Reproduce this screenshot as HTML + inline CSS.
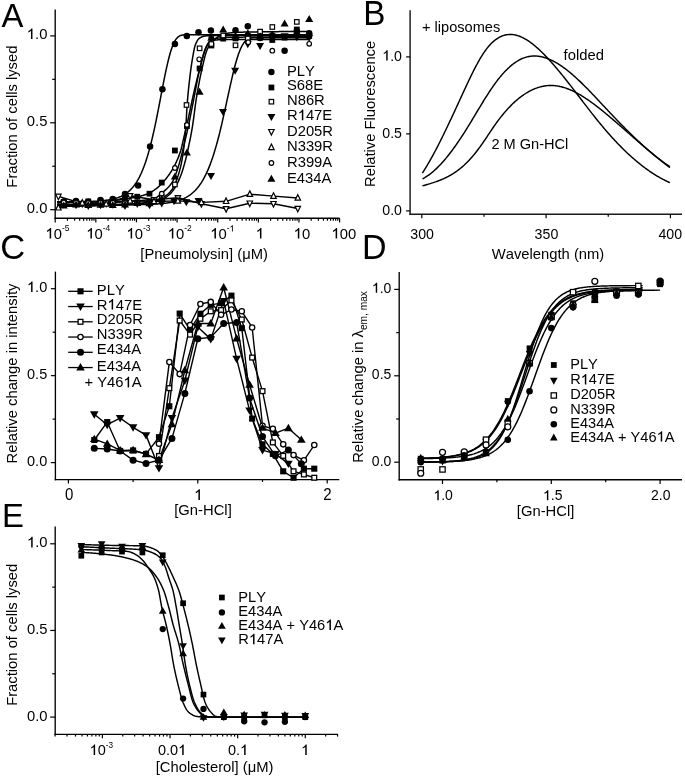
<!DOCTYPE html>
<html><head><meta charset="utf-8"><style>
html,body{margin:0;padding:0;background:#fff;}
svg{display:block;will-change:transform;}
text{font-family:"Liberation Sans", sans-serif;fill:#000;font-kerning:none;}
</style></head><body>
<svg width="685" height="777" viewBox="0 0 685 777">
<rect width="685" height="777" fill="#fff"/>
<line x1="55.20" y1="9.60" x2="55.20" y2="218.90" stroke="#000" stroke-width="1.35"/>
<line x1="54.50" y1="218.20" x2="339.60" y2="218.20" stroke="#000" stroke-width="1.35"/>
<line x1="50.20" y1="209.70" x2="55.20" y2="209.70" stroke="#000" stroke-width="1.2"/>
<line x1="50.20" y1="122.80" x2="55.20" y2="122.80" stroke="#000" stroke-width="1.2"/>
<line x1="50.20" y1="35.90" x2="55.20" y2="35.90" stroke="#000" stroke-width="1.2"/>
<line x1="52.20" y1="166.25" x2="55.20" y2="166.25" stroke="#000" stroke-width="1.2"/>
<line x1="52.20" y1="79.35" x2="55.20" y2="79.35" stroke="#000" stroke-width="1.2"/>
<line x1="55.20" y1="218.20" x2="55.20" y2="222.40" stroke="#000" stroke-width="1.2"/>
<line x1="67.43" y1="218.20" x2="67.43" y2="220.70" stroke="#000" stroke-width="1.2"/>
<line x1="74.59" y1="218.20" x2="74.59" y2="220.70" stroke="#000" stroke-width="1.2"/>
<line x1="79.66" y1="218.20" x2="79.66" y2="220.70" stroke="#000" stroke-width="1.2"/>
<line x1="83.60" y1="218.20" x2="83.60" y2="220.70" stroke="#000" stroke-width="1.2"/>
<line x1="86.82" y1="218.20" x2="86.82" y2="220.70" stroke="#000" stroke-width="1.2"/>
<line x1="89.54" y1="218.20" x2="89.54" y2="220.70" stroke="#000" stroke-width="1.2"/>
<line x1="91.89" y1="218.20" x2="91.89" y2="220.70" stroke="#000" stroke-width="1.2"/>
<line x1="93.97" y1="218.20" x2="93.97" y2="220.70" stroke="#000" stroke-width="1.2"/>
<line x1="95.83" y1="218.20" x2="95.83" y2="222.40" stroke="#000" stroke-width="1.2"/>
<line x1="108.06" y1="218.20" x2="108.06" y2="220.70" stroke="#000" stroke-width="1.2"/>
<line x1="115.22" y1="218.20" x2="115.22" y2="220.70" stroke="#000" stroke-width="1.2"/>
<line x1="120.29" y1="218.20" x2="120.29" y2="220.70" stroke="#000" stroke-width="1.2"/>
<line x1="124.23" y1="218.20" x2="124.23" y2="220.70" stroke="#000" stroke-width="1.2"/>
<line x1="127.45" y1="218.20" x2="127.45" y2="220.70" stroke="#000" stroke-width="1.2"/>
<line x1="130.17" y1="218.20" x2="130.17" y2="220.70" stroke="#000" stroke-width="1.2"/>
<line x1="132.52" y1="218.20" x2="132.52" y2="220.70" stroke="#000" stroke-width="1.2"/>
<line x1="134.60" y1="218.20" x2="134.60" y2="220.70" stroke="#000" stroke-width="1.2"/>
<line x1="136.46" y1="218.20" x2="136.46" y2="222.40" stroke="#000" stroke-width="1.2"/>
<line x1="148.69" y1="218.20" x2="148.69" y2="220.70" stroke="#000" stroke-width="1.2"/>
<line x1="155.85" y1="218.20" x2="155.85" y2="220.70" stroke="#000" stroke-width="1.2"/>
<line x1="160.92" y1="218.20" x2="160.92" y2="220.70" stroke="#000" stroke-width="1.2"/>
<line x1="164.86" y1="218.20" x2="164.86" y2="220.70" stroke="#000" stroke-width="1.2"/>
<line x1="168.08" y1="218.20" x2="168.08" y2="220.70" stroke="#000" stroke-width="1.2"/>
<line x1="170.80" y1="218.20" x2="170.80" y2="220.70" stroke="#000" stroke-width="1.2"/>
<line x1="173.15" y1="218.20" x2="173.15" y2="220.70" stroke="#000" stroke-width="1.2"/>
<line x1="175.23" y1="218.20" x2="175.23" y2="220.70" stroke="#000" stroke-width="1.2"/>
<line x1="177.09" y1="218.20" x2="177.09" y2="222.40" stroke="#000" stroke-width="1.2"/>
<line x1="189.32" y1="218.20" x2="189.32" y2="220.70" stroke="#000" stroke-width="1.2"/>
<line x1="196.48" y1="218.20" x2="196.48" y2="220.70" stroke="#000" stroke-width="1.2"/>
<line x1="201.55" y1="218.20" x2="201.55" y2="220.70" stroke="#000" stroke-width="1.2"/>
<line x1="205.49" y1="218.20" x2="205.49" y2="220.70" stroke="#000" stroke-width="1.2"/>
<line x1="208.71" y1="218.20" x2="208.71" y2="220.70" stroke="#000" stroke-width="1.2"/>
<line x1="211.43" y1="218.20" x2="211.43" y2="220.70" stroke="#000" stroke-width="1.2"/>
<line x1="213.78" y1="218.20" x2="213.78" y2="220.70" stroke="#000" stroke-width="1.2"/>
<line x1="215.86" y1="218.20" x2="215.86" y2="220.70" stroke="#000" stroke-width="1.2"/>
<line x1="217.72" y1="218.20" x2="217.72" y2="222.40" stroke="#000" stroke-width="1.2"/>
<line x1="229.95" y1="218.20" x2="229.95" y2="220.70" stroke="#000" stroke-width="1.2"/>
<line x1="237.11" y1="218.20" x2="237.11" y2="220.70" stroke="#000" stroke-width="1.2"/>
<line x1="242.18" y1="218.20" x2="242.18" y2="220.70" stroke="#000" stroke-width="1.2"/>
<line x1="246.12" y1="218.20" x2="246.12" y2="220.70" stroke="#000" stroke-width="1.2"/>
<line x1="249.34" y1="218.20" x2="249.34" y2="220.70" stroke="#000" stroke-width="1.2"/>
<line x1="252.06" y1="218.20" x2="252.06" y2="220.70" stroke="#000" stroke-width="1.2"/>
<line x1="254.41" y1="218.20" x2="254.41" y2="220.70" stroke="#000" stroke-width="1.2"/>
<line x1="256.49" y1="218.20" x2="256.49" y2="220.70" stroke="#000" stroke-width="1.2"/>
<line x1="258.35" y1="218.20" x2="258.35" y2="222.40" stroke="#000" stroke-width="1.2"/>
<line x1="270.58" y1="218.20" x2="270.58" y2="220.70" stroke="#000" stroke-width="1.2"/>
<line x1="277.74" y1="218.20" x2="277.74" y2="220.70" stroke="#000" stroke-width="1.2"/>
<line x1="282.81" y1="218.20" x2="282.81" y2="220.70" stroke="#000" stroke-width="1.2"/>
<line x1="286.75" y1="218.20" x2="286.75" y2="220.70" stroke="#000" stroke-width="1.2"/>
<line x1="289.97" y1="218.20" x2="289.97" y2="220.70" stroke="#000" stroke-width="1.2"/>
<line x1="292.69" y1="218.20" x2="292.69" y2="220.70" stroke="#000" stroke-width="1.2"/>
<line x1="295.04" y1="218.20" x2="295.04" y2="220.70" stroke="#000" stroke-width="1.2"/>
<line x1="297.12" y1="218.20" x2="297.12" y2="220.70" stroke="#000" stroke-width="1.2"/>
<line x1="298.98" y1="218.20" x2="298.98" y2="222.40" stroke="#000" stroke-width="1.2"/>
<line x1="311.21" y1="218.20" x2="311.21" y2="220.70" stroke="#000" stroke-width="1.2"/>
<line x1="318.37" y1="218.20" x2="318.37" y2="220.70" stroke="#000" stroke-width="1.2"/>
<line x1="323.44" y1="218.20" x2="323.44" y2="220.70" stroke="#000" stroke-width="1.2"/>
<line x1="327.38" y1="218.20" x2="327.38" y2="220.70" stroke="#000" stroke-width="1.2"/>
<line x1="330.60" y1="218.20" x2="330.60" y2="220.70" stroke="#000" stroke-width="1.2"/>
<line x1="333.32" y1="218.20" x2="333.32" y2="220.70" stroke="#000" stroke-width="1.2"/>
<line x1="335.67" y1="218.20" x2="335.67" y2="220.70" stroke="#000" stroke-width="1.2"/>
<line x1="337.75" y1="218.20" x2="337.75" y2="220.70" stroke="#000" stroke-width="1.2"/>
<line x1="339.61" y1="218.20" x2="339.61" y2="222.40" stroke="#000" stroke-width="1.2"/>
<text transform="translate(47.40,212.90) scale(1,1.04)" font-size="14.8" text-anchor="end" >0.0</text>
<text transform="translate(47.40,126.00) scale(1,1.04)" font-size="14.8" text-anchor="end" >0.5</text>
<path d="M 780 0 L 572 0 L 572 1140 Q 510 1080 406 1018 Q 302 958 215 925 L 215 1110 Q 366 1180 478 1280 Q 590 1380 636 1466 L 780 1466 Z" transform="translate(26.83,39.10) scale(0.00723,-0.00723)" fill="#000"/>
<text transform="translate(47.40,39.10) scale(1,1.04)" font-size="14.8" text-anchor="end" > .0</text>
<path d="M 780 0 L 572 0 L 572 1140 Q 510 1080 406 1018 Q 302 958 215 925 L 215 1110 Q 366 1180 478 1280 Q 590 1380 636 1466 L 780 1466 Z" transform="translate(45.50,238.60) scale(0.00723,-0.00723)" fill="#000"/>
<text transform="translate(45.50,238.60) scale(1,1.04)" font-size="14.8"> 0<tspan font-size="8.5" dy="-6.92">-5</tspan></text>
<path d="M 780 0 L 572 0 L 572 1140 Q 510 1080 406 1018 Q 302 958 215 925 L 215 1110 Q 366 1180 478 1280 Q 590 1380 636 1466 L 780 1466 Z" transform="translate(86.30,238.60) scale(0.00723,-0.00723)" fill="#000"/>
<text transform="translate(86.30,238.60) scale(1,1.04)" font-size="14.8"> 0<tspan font-size="8.5" dy="-6.92">-4</tspan></text>
<path d="M 780 0 L 572 0 L 572 1140 Q 510 1080 406 1018 Q 302 958 215 925 L 215 1110 Q 366 1180 478 1280 Q 590 1380 636 1466 L 780 1466 Z" transform="translate(126.50,238.60) scale(0.00723,-0.00723)" fill="#000"/>
<text transform="translate(126.50,238.60) scale(1,1.04)" font-size="14.8"> 0<tspan font-size="8.5" dy="-6.92">-3</tspan></text>
<path d="M 780 0 L 572 0 L 572 1140 Q 510 1080 406 1018 Q 302 958 215 925 L 215 1110 Q 366 1180 478 1280 Q 590 1380 636 1466 L 780 1466 Z" transform="translate(167.70,238.60) scale(0.00723,-0.00723)" fill="#000"/>
<text transform="translate(167.70,238.60) scale(1,1.04)" font-size="14.8"> 0<tspan font-size="8.5" dy="-6.92">-2</tspan></text>
<path d="M 780 0 L 572 0 L 572 1140 Q 510 1080 406 1018 Q 302 958 215 925 L 215 1110 Q 366 1180 478 1280 Q 590 1380 636 1466 L 780 1466 Z" transform="translate(210.30,238.60) scale(0.00723,-0.00723)" fill="#000"/>
<path d="M 780 0 L 572 0 L 572 1140 Q 510 1080 406 1018 Q 302 958 215 925 L 215 1110 Q 366 1180 478 1280 Q 590 1380 636 1466 L 780 1466 Z" transform="translate(229.59,231.40) scale(0.00415,-0.00415)" fill="#000"/>
<text transform="translate(210.30,238.60) scale(1,1.04)" font-size="14.8"> 0<tspan font-size="8.5" dy="-6.92">- </tspan></text>
<path d="M 780 0 L 572 0 L 572 1140 Q 510 1080 406 1018 Q 302 958 215 925 L 215 1110 Q 366 1180 478 1280 Q 590 1380 636 1466 L 780 1466 Z" transform="translate(255.80,238.60) scale(0.00723,-0.00723)" fill="#000"/>
<text transform="translate(255.80,238.60) scale(1,1.04)" font-size="14.8" text-anchor="start" > </text>
<path d="M 780 0 L 572 0 L 572 1140 Q 510 1080 406 1018 Q 302 958 215 925 L 215 1110 Q 366 1180 478 1280 Q 590 1380 636 1466 L 780 1466 Z" transform="translate(293.70,238.60) scale(0.00723,-0.00723)" fill="#000"/>
<text transform="translate(293.70,238.60) scale(1,1.04)" font-size="14.8" text-anchor="start" > 0</text>
<path d="M 780 0 L 572 0 L 572 1140 Q 510 1080 406 1018 Q 302 958 215 925 L 215 1110 Q 366 1180 478 1280 Q 590 1380 636 1466 L 780 1466 Z" transform="translate(331.50,238.60) scale(0.00723,-0.00723)" fill="#000"/>
<text transform="translate(331.50,238.60) scale(1,1.04)" font-size="14.8" text-anchor="start" > 00</text>
<text transform="translate(204.10,258.50) scale(1,1.04)" font-size="14.8" text-anchor="middle" >[Pneumolysin] (&#956;M)</text>
<text transform="translate(17.1,116.6) rotate(-90) scale(1,1.04)" font-size="14.8" text-anchor="middle">Fraction of cells lysed</text>
<text transform="translate(1.60,27.00) scale(1,1.04)" font-size="32.8" text-anchor="start" >A</text>
<polyline points="57.00,201.85 57.80,201.85 58.60,201.85 59.40,201.85 60.20,201.85 61.00,201.84 61.80,201.84 62.60,201.84 63.40,201.84 64.20,201.83 65.00,201.83 65.80,201.83 66.60,201.82 67.40,201.82 68.20,201.82 69.00,201.81 69.80,201.81 70.60,201.80 71.40,201.80 72.20,201.79 73.00,201.78 73.80,201.78 74.60,201.77 75.40,201.76 76.20,201.75 77.00,201.75 77.80,201.74 78.60,201.73 79.40,201.72 80.20,201.70 81.00,201.69 81.80,201.68 82.60,201.66 83.40,201.65 84.20,201.63 85.00,201.62 85.80,201.60 86.60,201.58 87.40,201.56 88.20,201.53 89.00,201.51 89.80,201.48 90.60,201.45 91.40,201.43 92.20,201.39 93.00,201.36 93.80,201.32 94.60,201.28 95.40,201.24 96.20,201.20 97.00,201.15 97.80,201.10 98.60,201.04 99.40,200.98 100.20,200.92 101.00,200.85 101.80,200.78 102.60,200.71 103.40,200.62 104.20,200.54 105.00,200.44 105.80,200.34 106.60,200.23 107.40,200.12 108.20,199.99 109.00,199.86 109.80,199.72 110.60,199.57 111.40,199.41 112.20,199.24 113.00,199.05 113.80,198.86 114.60,198.64 115.40,198.42 116.20,198.18 117.00,197.92 117.80,197.65 118.60,197.35 119.40,197.04 120.20,196.70 121.00,196.35 121.80,195.96 122.60,195.55 123.40,195.12 124.20,194.65 125.00,194.16 125.80,193.63 126.60,193.06 127.40,192.46 128.20,191.82 129.00,191.13 129.80,190.40 130.60,189.63 131.40,188.80 132.20,187.92 133.00,186.98 133.80,185.98 134.60,184.92 135.40,183.80 136.20,182.60 137.00,181.33 137.80,179.98 138.60,178.55 139.40,177.04 140.20,175.44 141.00,173.75 141.80,171.95 142.60,170.06 143.40,168.07 144.20,165.96 145.00,163.75 145.80,161.42 146.60,158.97 147.40,156.40 148.20,153.72 149.00,150.90 149.80,147.97 150.60,144.91 151.40,141.72 152.20,138.42 153.00,134.99 153.80,131.45 154.60,127.79 155.40,124.04 156.20,120.18 157.00,116.24 157.80,112.22 158.60,108.14 159.40,104.01 160.20,99.85 161.00,95.67 161.80,91.49 162.60,87.34 163.40,83.22 164.20,79.18 165.00,75.22 165.80,71.37 166.60,67.66 167.40,64.10 168.20,60.71 169.00,57.52 169.80,54.54 170.60,51.77 171.40,49.24 172.20,46.94 173.00,44.88 173.80,43.06 174.60,41.47 175.40,40.10 176.20,38.94 177.00,37.97 177.80,37.18 178.60,36.54 179.40,36.03 180.20,35.65 181.00,35.35 181.80,35.14 182.60,34.98 183.40,34.88 184.20,34.80 185.00,34.75 185.80,34.72 186.60,34.71 187.40,34.70 188.20,34.69 189.00,34.69 189.80,34.68 190.60,34.68 191.40,34.68 192.20,34.68 193.00,34.68 193.80,34.68 194.60,34.68 195.40,34.68 196.20,34.68 197.00,34.68 197.80,34.68 198.60,34.68 199.40,34.68 200.20,34.68 201.00,34.68 201.80,34.68 202.60,34.68 203.40,34.68 204.20,34.68 205.00,34.68 205.80,34.68 206.60,34.68 207.40,34.68 208.20,34.68 209.00,34.68 209.80,34.68 210.60,34.68 211.40,34.68 212.20,34.68 213.00,34.68 213.80,34.68 214.60,34.68 215.40,34.68 216.20,34.68 217.00,34.68 217.80,34.68 218.60,34.68 219.40,34.68 220.20,34.68 221.00,34.68 221.80,34.68 222.60,34.68 223.40,34.68 224.20,34.68 225.00,34.68 225.80,34.68 226.60,34.68 227.40,34.68 228.20,34.68 229.00,34.68 229.80,34.68 230.60,34.68 231.40,34.68 232.20,34.68 233.00,34.68 233.80,34.68 234.60,34.68 235.40,34.68 236.20,34.68 237.00,34.68 237.80,34.68 238.60,34.68 239.40,34.68 240.20,34.68 241.00,34.68 241.80,34.68 242.60,34.68 243.40,34.68 244.20,34.68 245.00,34.68 245.80,34.68 246.60,34.68 247.40,34.68 248.20,34.68 249.00,34.68 249.80,34.68 250.60,34.68 251.40,34.68 252.20,34.68 253.00,34.68 253.80,34.68 254.60,34.68 255.40,34.68 256.20,34.68 257.00,34.68 257.80,34.68 258.60,34.68 259.40,34.68 260.20,34.68 261.00,34.68 261.80,34.68 262.60,34.68 263.40,34.68 264.20,34.68 265.00,34.68 265.80,34.68 266.60,34.68 267.40,34.68 268.20,34.68 269.00,34.68 269.80,34.68 270.60,34.68 271.40,34.68 272.20,34.68 273.00,34.68 273.80,34.68 274.60,34.68 275.40,34.68 276.20,34.68 277.00,34.68 277.80,34.68 278.60,34.68 279.40,34.68 280.20,34.68 281.00,34.68 281.80,34.68 282.60,34.68 283.40,34.68 284.20,34.68 285.00,34.68 285.80,34.68 286.60,34.68 287.40,34.68 288.20,34.68 289.00,34.68 289.80,34.68 290.60,34.68 291.40,34.68 292.20,34.68 293.00,34.68 293.80,34.68 294.60,34.68 295.40,34.68 296.20,34.68 297.00,34.68 297.80,34.68 298.60,34.68 299.40,34.68 300.20,34.68 301.00,34.68 301.80,34.68 302.60,34.68 303.40,34.68 304.20,34.68 305.00,34.68 305.80,34.68 306.60,34.68 307.40,34.68 308.20,34.68 309.00,34.68" fill="none" stroke="#000" stroke-width="1.5" stroke-linejoin="round"/>
<polyline points="57.00,203.00 57.60,203.00 58.20,203.00 58.80,203.00 59.40,203.00 60.00,202.99 60.60,202.99 61.20,202.99 61.80,202.98 62.40,202.98 63.00,202.97 63.60,202.96 64.20,202.96 64.80,202.95 65.40,202.94 66.00,202.93 66.60,202.93 67.20,202.92 67.80,202.91 68.40,202.90 69.00,202.88 69.60,202.87 70.20,202.86 70.80,202.85 71.40,202.84 72.00,202.82 72.60,202.81 73.20,202.80 73.80,202.78 74.40,202.77 75.00,202.75 75.60,202.73 76.20,202.72 76.80,202.70 77.40,202.68 78.00,202.67 78.60,202.65 79.20,202.63 79.80,202.61 80.40,202.59 81.00,202.57 81.60,202.55 82.20,202.53 82.80,202.51 83.40,202.49 84.00,202.47 84.60,202.45 85.20,202.43 85.80,202.40 86.40,202.38 87.00,202.36 87.60,202.34 88.20,202.31 88.80,202.29 89.40,202.26 90.00,202.24 90.60,202.22 91.20,202.19 91.80,202.17 92.40,202.14 93.00,202.11 93.60,202.09 94.20,202.06 94.80,202.04 95.40,202.01 96.00,201.98 96.60,201.96 97.20,201.93 97.80,201.90 98.40,201.87 99.00,201.85 99.60,201.82 100.20,201.79 100.80,201.76 101.40,201.73 102.00,201.69 102.60,201.66 103.20,201.62 103.80,201.58 104.40,201.54 105.00,201.49 105.60,201.45 106.20,201.40 106.80,201.35 107.40,201.30 108.00,201.24 108.60,201.19 109.20,201.13 109.80,201.07 110.40,201.01 111.00,200.95 111.60,200.88 112.20,200.82 112.80,200.75 113.40,200.68 114.00,200.61 114.60,200.54 115.20,200.47 115.80,200.39 116.40,200.32 117.00,200.24 117.60,200.16 118.20,200.08 118.80,200.00 119.40,199.92 120.00,199.84 120.60,199.75 121.20,199.67 121.80,199.58 122.40,199.49 123.00,199.40 123.60,199.31 124.20,199.22 124.80,199.13 125.40,199.04 126.00,198.94 126.60,198.85 127.20,198.75 127.80,198.66 128.40,198.56 129.00,198.46 129.60,198.37 130.20,198.27 130.80,198.17 131.40,198.06 132.00,197.96 132.60,197.85 133.20,197.74 133.80,197.62 134.40,197.51 135.00,197.39 135.60,197.26 136.20,197.14 136.80,197.00 137.40,196.87 138.00,196.73 138.60,196.59 139.20,196.44 139.80,196.29 140.40,196.13 141.00,195.97 141.60,195.81 142.20,195.64 142.80,195.46 143.40,195.28 144.00,195.10 144.60,194.91 145.20,194.71 145.80,194.51 146.40,194.30 147.00,194.08 147.60,193.86 148.20,193.62 148.80,193.36 149.40,193.07 150.00,192.77 150.60,192.44 151.20,192.09 151.80,191.73 152.40,191.35 153.00,190.96 153.60,190.55 154.20,190.14 154.80,189.71 155.40,189.27 156.00,188.82 156.60,188.37 157.20,187.90 157.80,187.39 158.40,186.87 159.00,186.33 159.60,185.76 160.20,185.18 160.80,184.57 161.40,183.95 162.00,183.31 162.60,182.66 163.20,181.99 163.80,181.30 164.40,180.61 165.00,179.90 165.60,179.18 166.20,178.44 166.80,177.68 167.40,176.91 168.00,176.11 168.60,175.29 169.20,174.45 169.80,173.58 170.40,172.68 171.00,171.75 171.60,170.79 172.20,169.80 172.80,168.78 173.40,167.72 174.00,166.63 174.60,165.50 175.20,164.33 175.80,163.12 176.40,161.85 177.00,160.52 177.60,159.12 178.20,157.65 178.80,156.11 179.40,154.48 180.00,152.75 180.60,150.93 181.20,148.92 181.80,146.50 182.40,143.82 183.00,141.05 183.60,138.35 184.20,135.85 184.80,133.43 185.40,131.03 186.00,128.62 186.60,126.14 187.20,123.56 187.80,120.84 188.40,118.03 189.00,115.15 189.60,112.26 190.20,109.40 190.80,106.61 191.40,103.81 192.00,101.02 192.60,98.25 193.20,95.53 193.80,92.87 194.40,90.27 195.00,87.71 195.60,85.17 196.20,82.66 196.80,80.19 197.40,77.76 198.00,75.38 198.60,73.05 199.20,70.77 199.80,68.52 200.40,66.23 201.00,63.93 201.60,61.64 202.20,59.40 202.80,57.23 203.40,55.14 204.00,53.18 204.60,51.37 205.20,49.72 205.80,48.27 206.40,46.90 207.00,45.58 207.60,44.35 208.20,43.26 208.80,42.35 209.40,41.67 210.00,41.21 210.60,40.80 211.20,40.43 211.80,40.09 212.40,39.79 213.00,39.53 213.60,39.29 214.20,39.08 214.80,38.90 215.40,38.74 216.00,38.60 216.60,38.47 217.20,38.35 217.80,38.24 218.40,38.12 219.00,38.02 219.60,37.92 220.20,37.82 220.80,37.74 221.40,37.66 222.00,37.59 222.60,37.53 223.20,37.48 223.80,37.44 224.40,37.42 225.00,37.40 225.60,37.39 226.20,37.38 226.80,37.37 227.40,37.36 228.00,37.35 228.60,37.34 229.20,37.33 229.80,37.32 230.40,37.31 231.00,37.30 231.60,37.29 232.20,37.28 232.80,37.27 233.40,37.26 234.00,37.25 234.60,37.24 235.20,37.24 235.80,37.23 236.40,37.22 237.00,37.21 237.60,37.20 238.20,37.19 238.80,37.19 239.40,37.18 240.00,37.17 240.60,37.16 241.20,37.15 241.80,37.15 242.40,37.14 243.00,37.13 243.60,37.12 244.20,37.12 244.80,37.11 245.40,37.10 246.00,37.10 246.60,37.09 247.20,37.08 247.80,37.08 248.40,37.07 249.00,37.06 249.60,37.06 250.20,37.05 250.80,37.04 251.40,37.04 252.00,37.03 252.60,37.03 253.20,37.02 253.80,37.02 254.40,37.01 255.00,37.00 255.60,37.00 256.20,36.99 256.80,36.99 257.40,36.98 258.00,36.98 258.60,36.97 259.20,36.97 259.80,36.96 260.40,36.96 261.00,36.96 261.60,36.95 262.20,36.95 262.80,36.94 263.40,36.94 264.00,36.93 264.60,36.93 265.20,36.93 265.80,36.92 266.40,36.92 267.00,36.91 267.60,36.91 268.20,36.91 268.80,36.90 269.40,36.90 270.00,36.90 270.60,36.89 271.20,36.89 271.80,36.89 272.40,36.88 273.00,36.88 273.60,36.88 274.20,36.87 274.80,36.87 275.40,36.87 276.00,36.87 276.60,36.86 277.20,36.86 277.80,36.86 278.40,36.86 279.00,36.85 279.60,36.85 280.20,36.85 280.80,36.85 281.40,36.84 282.00,36.84 282.60,36.84 283.20,36.84 283.80,36.84 284.40,36.83 285.00,36.83 285.60,36.83 286.20,36.83 286.80,36.83 287.40,36.83 288.00,36.82 288.60,36.82 289.20,36.82 289.80,36.82 290.40,36.82 291.00,36.82 291.60,36.82 292.20,36.82 292.80,36.81 293.40,36.81 294.00,36.81 294.60,36.81 295.20,36.81 295.80,36.81 296.40,36.81 297.00,36.81 297.60,36.81 298.20,36.81 298.80,36.81 299.40,36.80 300.00,36.80 300.60,36.80 301.20,36.80 301.80,36.80 302.40,36.80 303.00,36.80 303.60,36.80 304.20,36.80 304.80,36.80 305.40,36.80 306.00,36.80 306.60,36.80 307.20,36.80 307.80,36.80 308.40,36.80 309.00,36.80 309.60,36.80" fill="none" stroke="#000" stroke-width="1.5" stroke-linejoin="round"/>
<polyline points="57.00,206.30 57.60,206.30 58.20,206.30 58.80,206.30 59.40,206.30 60.00,206.30 60.60,206.30 61.20,206.29 61.80,206.29 62.40,206.29 63.00,206.29 63.60,206.29 64.20,206.28 64.80,206.28 65.40,206.28 66.00,206.28 66.60,206.27 67.20,206.27 67.80,206.26 68.40,206.26 69.00,206.26 69.60,206.25 70.20,206.25 70.80,206.24 71.40,206.24 72.00,206.23 72.60,206.23 73.20,206.22 73.80,206.21 74.40,206.21 75.00,206.20 75.60,206.20 76.20,206.19 76.80,206.18 77.40,206.18 78.00,206.17 78.60,206.16 79.20,206.15 79.80,206.14 80.40,206.14 81.00,206.13 81.60,206.12 82.20,206.11 82.80,206.10 83.40,206.09 84.00,206.08 84.60,206.07 85.20,206.06 85.80,206.05 86.40,206.04 87.00,206.03 87.60,206.02 88.20,206.01 88.80,206.00 89.40,205.99 90.00,205.98 90.60,205.97 91.20,205.96 91.80,205.95 92.40,205.93 93.00,205.92 93.60,205.91 94.20,205.90 94.80,205.88 95.40,205.87 96.00,205.86 96.60,205.85 97.20,205.83 97.80,205.82 98.40,205.81 99.00,205.79 99.60,205.78 100.20,205.76 100.80,205.75 101.40,205.73 102.00,205.72 102.60,205.70 103.20,205.69 103.80,205.67 104.40,205.66 105.00,205.64 105.60,205.63 106.20,205.61 106.80,205.60 107.40,205.58 108.00,205.56 108.60,205.55 109.20,205.53 109.80,205.51 110.40,205.50 111.00,205.48 111.60,205.46 112.20,205.44 112.80,205.43 113.40,205.41 114.00,205.39 114.60,205.37 115.20,205.35 115.80,205.33 116.40,205.32 117.00,205.30 117.60,205.28 118.20,205.26 118.80,205.24 119.40,205.22 120.00,205.20 120.60,205.18 121.20,205.16 121.80,205.13 122.40,205.11 123.00,205.08 123.60,205.05 124.20,205.02 124.80,204.98 125.40,204.95 126.00,204.91 126.60,204.87 127.20,204.83 127.80,204.79 128.40,204.74 129.00,204.69 129.60,204.65 130.20,204.60 130.80,204.54 131.40,204.49 132.00,204.43 132.60,204.38 133.20,204.32 133.80,204.26 134.40,204.20 135.00,204.13 135.60,204.07 136.20,204.00 136.80,203.93 137.40,203.86 138.00,203.79 138.60,203.71 139.20,203.64 139.80,203.56 140.40,203.48 141.00,203.40 141.60,203.32 142.20,203.23 142.80,203.15 143.40,203.06 144.00,202.97 144.60,202.88 145.20,202.79 145.80,202.70 146.40,202.60 147.00,202.50 147.60,202.41 148.20,202.31 148.80,202.21 149.40,202.10 150.00,202.00 150.60,201.89 151.20,201.77 151.80,201.64 152.40,201.49 153.00,201.34 153.60,201.18 154.20,201.00 154.80,200.82 155.40,200.63 156.00,200.43 156.60,200.22 157.20,200.00 157.80,199.78 158.40,199.55 159.00,199.31 159.60,199.06 160.20,198.80 160.80,198.54 161.40,198.27 162.00,198.00 162.60,197.71 163.20,197.39 163.80,197.05 164.40,196.68 165.00,196.29 165.60,195.88 166.20,195.44 166.80,194.98 167.40,194.50 168.00,194.00 168.60,193.47 169.20,192.88 169.80,192.25 170.40,191.57 171.00,190.84 171.60,190.05 172.20,189.21 172.80,188.27 173.40,187.22 174.00,186.08 174.60,184.85 175.20,183.56 175.80,182.16 176.40,180.64 177.00,179.00 177.60,177.24 178.20,175.36 178.80,173.41 179.40,171.35 180.00,169.14 180.60,166.72 181.20,164.04 181.80,161.07 182.40,157.72 183.00,153.91 183.60,149.55 184.20,144.59 184.80,138.98 185.40,132.65 186.00,125.17 186.60,113.82 187.20,103.88 187.80,96.63 188.40,90.32 189.00,84.67 189.60,79.40 190.20,74.37 190.80,69.66 191.40,65.33 192.00,61.41 192.60,57.84 193.20,54.36 193.80,51.09 194.40,48.21 195.00,45.87 195.60,44.21 196.20,42.83 196.80,41.59 197.40,40.52 198.00,39.61 198.60,38.89 199.20,38.37 199.80,37.99 200.40,37.64 201.00,37.31 201.60,37.02 202.20,36.75 202.80,36.52 203.40,36.32 204.00,36.16 204.60,36.03 205.20,35.94 205.80,35.89 206.40,35.86 207.00,35.83 207.60,35.80 208.20,35.77 208.80,35.74 209.40,35.72 210.00,35.70 210.60,35.68 211.20,35.66 211.80,35.64 212.40,35.62 213.00,35.60 213.60,35.59 214.20,35.58 214.80,35.57 215.40,35.55 216.00,35.54 216.60,35.54 217.20,35.53 217.80,35.52 218.40,35.51 219.00,35.51 219.60,35.50 220.20,35.50 220.80,35.49 221.40,35.49 222.00,35.49 222.60,35.48 223.20,35.48 223.80,35.47 224.40,35.47 225.00,35.46 225.60,35.46 226.20,35.46 226.80,35.45 227.40,35.45 228.00,35.44 228.60,35.44 229.20,35.44 229.80,35.43 230.40,35.43 231.00,35.42 231.60,35.42 232.20,35.42 232.80,35.41 233.40,35.41 234.00,35.41 234.60,35.40 235.20,35.40 235.80,35.40 236.40,35.39 237.00,35.39 237.60,35.39 238.20,35.38 238.80,35.38 239.40,35.38 240.00,35.37 240.60,35.37 241.20,35.37 241.80,35.36 242.40,35.36 243.00,35.36 243.60,35.35 244.20,35.35 244.80,35.35 245.40,35.34 246.00,35.34 246.60,35.34 247.20,35.34 247.80,35.33 248.40,35.33 249.00,35.33 249.60,35.33 250.20,35.32 250.80,35.32 251.40,35.32 252.00,35.31 252.60,35.31 253.20,35.31 253.80,35.31 254.40,35.30 255.00,35.30 255.60,35.30 256.20,35.30 256.80,35.30 257.40,35.29 258.00,35.29 258.60,35.29 259.20,35.29 259.80,35.28 260.40,35.28 261.00,35.28 261.60,35.28 262.20,35.28 262.80,35.27 263.40,35.27 264.00,35.27 264.60,35.27 265.20,35.27 265.80,35.26 266.40,35.26 267.00,35.26 267.60,35.26 268.20,35.26 268.80,35.26 269.40,35.25 270.00,35.25 270.60,35.25 271.20,35.25 271.80,35.25 272.40,35.25 273.00,35.24 273.60,35.24 274.20,35.24 274.80,35.24 275.40,35.24 276.00,35.24 276.60,35.24 277.20,35.23 277.80,35.23 278.40,35.23 279.00,35.23 279.60,35.23 280.20,35.23 280.80,35.23 281.40,35.23 282.00,35.22 282.60,35.22 283.20,35.22 283.80,35.22 284.40,35.22 285.00,35.22 285.60,35.22 286.20,35.22 286.80,35.22 287.40,35.22 288.00,35.21 288.60,35.21 289.20,35.21 289.80,35.21 290.40,35.21 291.00,35.21 291.60,35.21 292.20,35.21 292.80,35.21 293.40,35.21 294.00,35.21 294.60,35.21 295.20,35.21 295.80,35.21 296.40,35.21 297.00,35.20 297.60,35.20 298.20,35.20 298.80,35.20 299.40,35.20 300.00,35.20 300.60,35.20 301.20,35.20 301.80,35.20 302.40,35.20 303.00,35.20 303.60,35.20 304.20,35.20 304.80,35.20 305.40,35.20 306.00,35.20 306.60,35.20 307.20,35.20 307.80,35.20 308.40,35.20 309.00,35.20 309.60,35.20" fill="none" stroke="#000" stroke-width="1.5" stroke-linejoin="round"/>
<polyline points="57.00,204.83 57.80,204.83 58.60,204.83 59.40,204.83 60.20,204.83 61.00,204.83 61.80,204.83 62.60,204.83 63.40,204.83 64.20,204.83 65.00,204.83 65.80,204.83 66.60,204.83 67.40,204.83 68.20,204.83 69.00,204.83 69.80,204.83 70.60,204.83 71.40,204.83 72.20,204.83 73.00,204.83 73.80,204.83 74.60,204.83 75.40,204.83 76.20,204.83 77.00,204.83 77.80,204.83 78.60,204.83 79.40,204.83 80.20,204.83 81.00,204.83 81.80,204.83 82.60,204.83 83.40,204.83 84.20,204.83 85.00,204.83 85.80,204.83 86.60,204.83 87.40,204.83 88.20,204.83 89.00,204.83 89.80,204.83 90.60,204.83 91.40,204.83 92.20,204.83 93.00,204.83 93.80,204.83 94.60,204.83 95.40,204.83 96.20,204.82 97.00,204.82 97.80,204.82 98.60,204.82 99.40,204.82 100.20,204.82 101.00,204.82 101.80,204.82 102.60,204.82 103.40,204.82 104.20,204.82 105.00,204.82 105.80,204.82 106.60,204.81 107.40,204.81 108.20,204.81 109.00,204.81 109.80,204.81 110.60,204.81 111.40,204.81 112.20,204.80 113.00,204.80 113.80,204.80 114.60,204.80 115.40,204.80 116.20,204.79 117.00,204.79 117.80,204.79 118.60,204.79 119.40,204.78 120.20,204.78 121.00,204.78 121.80,204.77 122.60,204.77 123.40,204.76 124.20,204.76 125.00,204.76 125.80,204.75 126.60,204.75 127.40,204.74 128.20,204.73 129.00,204.73 129.80,204.72 130.60,204.72 131.40,204.71 132.20,204.70 133.00,204.69 133.80,204.68 134.60,204.67 135.40,204.66 136.20,204.65 137.00,204.64 137.80,204.63 138.60,204.62 139.40,204.60 140.20,204.59 141.00,204.58 141.80,204.56 142.60,204.54 143.40,204.52 144.20,204.51 145.00,204.49 145.80,204.46 146.60,204.44 147.40,204.42 148.20,204.39 149.00,204.36 149.80,204.33 150.60,204.30 151.40,204.27 152.20,204.24 153.00,204.20 153.80,204.16 154.60,204.12 155.40,204.07 156.20,204.03 157.00,203.98 157.80,203.93 158.60,203.87 159.40,203.81 160.20,203.75 161.00,203.68 161.80,203.61 162.60,203.53 163.40,203.45 164.20,203.37 165.00,203.28 165.80,203.18 166.60,203.08 167.40,202.97 168.20,202.86 169.00,202.74 169.80,202.61 170.60,202.47 171.40,202.33 172.20,202.17 173.00,202.01 173.80,201.84 174.60,201.65 175.40,201.46 176.20,201.25 177.00,201.03 177.80,200.80 178.60,200.55 179.40,200.29 180.20,200.02 181.00,199.72 181.80,199.41 182.60,199.08 183.40,198.73 184.20,198.36 185.00,197.97 185.80,197.56 186.60,197.12 187.40,196.65 188.20,196.16 189.00,195.64 189.80,195.09 190.60,194.50 191.40,193.89 192.20,193.23 193.00,192.54 193.80,191.81 194.60,191.04 195.40,190.23 196.20,189.37 197.00,188.46 197.80,187.50 198.60,186.49 199.40,185.43 200.20,184.30 201.00,183.12 201.80,181.87 202.60,180.56 203.40,179.18 204.20,177.73 205.00,176.21 205.80,174.61 206.60,172.93 207.40,171.17 208.20,169.33 209.00,167.40 209.80,165.38 210.60,163.27 211.40,161.07 212.20,158.78 213.00,156.39 213.80,153.90 214.60,151.32 215.40,148.64 216.20,145.86 217.00,142.99 217.80,140.02 218.60,136.97 219.40,133.82 220.20,130.58 221.00,127.27 221.80,123.88 222.60,120.42 223.40,116.90 224.20,113.33 225.00,109.71 225.80,106.05 226.60,102.37 227.40,98.68 228.20,95.00 229.00,91.33 229.80,87.68 230.60,84.09 231.40,80.55 232.20,77.09 233.00,73.72 233.80,70.45 234.60,67.31 235.40,64.30 236.20,61.44 237.00,58.74 237.80,56.20 238.60,53.84 239.40,51.67 240.20,49.67 241.00,47.87 241.80,46.24 242.60,44.80 243.40,43.53 244.20,42.43 245.00,41.49 245.80,40.69 246.60,40.02 247.40,39.47 248.20,39.02 249.00,38.67 249.80,38.39 250.60,38.18 251.40,38.01 252.20,37.90 253.00,37.81 253.80,37.75 254.60,37.71 255.40,37.68 256.20,37.66 257.00,37.65 257.80,37.65 258.60,37.64 259.40,37.64 260.20,37.64 261.00,37.64 261.80,37.64 262.60,37.64 263.40,37.64 264.20,37.64 265.00,37.64 265.80,37.64 266.60,37.64 267.40,37.64 268.20,37.64 269.00,37.64 269.80,37.64 270.60,37.64 271.40,37.64 272.20,37.64 273.00,37.64 273.80,37.64 274.60,37.64 275.40,37.64 276.20,37.64 277.00,37.64 277.80,37.64 278.60,37.64 279.40,37.64 280.20,37.64 281.00,37.64 281.80,37.64 282.60,37.64 283.40,37.64 284.20,37.64 285.00,37.64 285.80,37.64 286.60,37.64 287.40,37.64 288.20,37.64 289.00,37.64 289.80,37.64 290.60,37.64 291.40,37.64 292.20,37.64 293.00,37.64 293.80,37.64 294.60,37.64 295.40,37.64 296.20,37.64 297.00,37.64 297.80,37.64 298.60,37.64 299.40,37.64 300.20,37.64 301.00,37.64 301.80,37.64 302.60,37.64 303.40,37.64 304.20,37.64 305.00,37.64 305.80,37.64 306.60,37.64 307.40,37.64 308.20,37.64 309.00,37.64" fill="none" stroke="#000" stroke-width="1.5" stroke-linejoin="round"/>
<polyline points="57.00,202.00 57.60,202.00 58.20,202.00 58.80,202.00 59.40,202.00 60.00,202.00 60.60,202.00 61.20,202.00 61.80,202.00 62.40,202.00 63.00,202.00 63.60,202.00 64.20,201.99 64.80,201.99 65.40,201.99 66.00,201.99 66.60,201.99 67.20,201.99 67.80,201.99 68.40,201.99 69.00,201.99 69.60,201.98 70.20,201.98 70.80,201.98 71.40,201.98 72.00,201.98 72.60,201.98 73.20,201.97 73.80,201.97 74.40,201.97 75.00,201.97 75.60,201.97 76.20,201.96 76.80,201.96 77.40,201.96 78.00,201.96 78.60,201.95 79.20,201.95 79.80,201.95 80.40,201.95 81.00,201.94 81.60,201.94 82.20,201.94 82.80,201.93 83.40,201.93 84.00,201.93 84.60,201.92 85.20,201.92 85.80,201.92 86.40,201.91 87.00,201.91 87.60,201.91 88.20,201.90 88.80,201.90 89.40,201.90 90.00,201.89 90.60,201.89 91.20,201.88 91.80,201.88 92.40,201.88 93.00,201.87 93.60,201.87 94.20,201.86 94.80,201.86 95.40,201.85 96.00,201.85 96.60,201.84 97.20,201.84 97.80,201.83 98.40,201.83 99.00,201.82 99.60,201.82 100.20,201.81 100.80,201.81 101.40,201.80 102.00,201.80 102.60,201.79 103.20,201.79 103.80,201.78 104.40,201.78 105.00,201.77 105.60,201.76 106.20,201.76 106.80,201.75 107.40,201.75 108.00,201.74 108.60,201.73 109.20,201.73 109.80,201.72 110.40,201.71 111.00,201.71 111.60,201.70 112.20,201.69 112.80,201.69 113.40,201.68 114.00,201.67 114.60,201.67 115.20,201.66 115.80,201.65 116.40,201.65 117.00,201.64 117.60,201.63 118.20,201.62 118.80,201.62 119.40,201.61 120.00,201.60 120.60,201.59 121.20,201.58 121.80,201.57 122.40,201.56 123.00,201.55 123.60,201.53 124.20,201.52 124.80,201.50 125.40,201.49 126.00,201.47 126.60,201.45 127.20,201.43 127.80,201.40 128.40,201.38 129.00,201.35 129.60,201.33 130.20,201.30 130.80,201.27 131.40,201.24 132.00,201.21 132.60,201.17 133.20,201.14 133.80,201.10 134.40,201.07 135.00,201.03 135.60,200.99 136.20,200.94 136.80,200.90 137.40,200.85 138.00,200.81 138.60,200.76 139.20,200.71 139.80,200.65 140.40,200.60 141.00,200.54 141.60,200.49 142.20,200.43 142.80,200.37 143.40,200.30 144.00,200.24 144.60,200.17 145.20,200.11 145.80,200.04 146.40,199.96 147.00,199.89 147.60,199.82 148.20,199.74 148.80,199.66 149.40,199.58 150.00,199.49 150.60,199.41 151.20,199.32 151.80,199.23 152.40,199.13 153.00,198.98 153.60,198.80 154.20,198.57 154.80,198.30 155.40,198.00 156.00,197.66 156.60,197.29 157.20,196.90 157.80,196.48 158.40,196.04 159.00,195.58 159.60,195.10 160.20,194.60 160.80,194.09 161.40,193.57 162.00,193.05 162.60,192.52 163.20,191.99 163.80,191.45 164.40,190.92 165.00,190.40 165.60,189.87 166.20,189.33 166.80,188.77 167.40,188.18 168.00,187.57 168.60,186.92 169.20,186.24 169.80,185.52 170.40,184.76 171.00,183.96 171.60,183.10 172.20,182.18 172.80,181.13 173.40,179.93 174.00,178.62 174.60,177.22 175.20,175.75 175.80,174.23 176.40,172.60 177.00,170.86 177.60,169.03 178.20,167.11 178.80,165.13 179.40,163.09 180.00,161.00 180.60,158.82 181.20,156.53 181.80,154.13 182.40,151.68 183.00,149.18 183.60,146.67 184.20,144.17 184.80,141.67 185.40,139.16 186.00,136.62 186.60,134.04 187.20,131.42 187.80,128.74 188.40,126.00 189.00,123.17 189.60,120.25 190.20,117.26 190.80,114.22 191.40,111.16 192.00,108.09 192.60,105.02 193.20,101.99 193.80,98.89 194.40,95.71 195.00,92.50 195.60,89.28 196.20,86.08 196.80,82.93 197.40,79.86 198.00,76.90 198.60,74.08 199.20,71.42 199.80,68.89 200.40,66.35 201.00,63.82 201.60,61.35 202.20,58.96 202.80,56.67 203.40,54.52 204.00,52.52 204.60,50.72 205.20,49.13 205.80,47.79 206.40,46.56 207.00,45.40 207.60,44.33 208.20,43.41 208.80,42.66 209.40,42.12 210.00,41.79 210.60,41.49 211.20,41.22 211.80,40.98 212.40,40.77 213.00,40.58 213.60,40.42 214.20,40.28 214.80,40.16 215.40,40.07 216.00,40.00 216.60,39.94 217.20,39.89 217.80,39.84 218.40,39.79 219.00,39.74 219.60,39.70 220.20,39.66 220.80,39.63 221.40,39.60 222.00,39.57 222.60,39.55 223.20,39.53 223.80,39.51 224.40,39.50 225.00,39.50 225.60,39.50 226.20,39.50 226.80,39.49 227.40,39.49 228.00,39.49 228.60,39.49 229.20,39.49 229.80,39.49 230.40,39.48 231.00,39.48 231.60,39.48 232.20,39.48 232.80,39.48 233.40,39.48 234.00,39.47 234.60,39.47 235.20,39.47 235.80,39.47 236.40,39.47 237.00,39.47 237.60,39.47 238.20,39.46 238.80,39.46 239.40,39.46 240.00,39.46 240.60,39.46 241.20,39.46 241.80,39.46 242.40,39.45 243.00,39.45 243.60,39.45 244.20,39.45 244.80,39.45 245.40,39.45 246.00,39.45 246.60,39.45 247.20,39.45 247.80,39.44 248.40,39.44 249.00,39.44 249.60,39.44 250.20,39.44 250.80,39.44 251.40,39.44 252.00,39.44 252.60,39.44 253.20,39.43 253.80,39.43 254.40,39.43 255.00,39.43 255.60,39.43 256.20,39.43 256.80,39.43 257.40,39.43 258.00,39.43 258.60,39.43 259.20,39.43 259.80,39.43 260.40,39.42 261.00,39.42 261.60,39.42 262.20,39.42 262.80,39.42 263.40,39.42 264.00,39.42 264.60,39.42 265.20,39.42 265.80,39.42 266.40,39.42 267.00,39.42 267.60,39.42 268.20,39.42 268.80,39.42 269.40,39.41 270.00,39.41 270.60,39.41 271.20,39.41 271.80,39.41 272.40,39.41 273.00,39.41 273.60,39.41 274.20,39.41 274.80,39.41 275.40,39.41 276.00,39.41 276.60,39.41 277.20,39.41 277.80,39.41 278.40,39.41 279.00,39.41 279.60,39.41 280.20,39.41 280.80,39.41 281.40,39.41 282.00,39.41 282.60,39.41 283.20,39.41 283.80,39.41 284.40,39.40 285.00,39.40 285.60,39.40 286.20,39.40 286.80,39.40 287.40,39.40 288.00,39.40 288.60,39.40 289.20,39.40 289.80,39.40 290.40,39.40 291.00,39.40 291.60,39.40 292.20,39.40 292.80,39.40 293.40,39.40 294.00,39.40 294.60,39.40 295.20,39.40 295.80,39.40 296.40,39.40 297.00,39.40 297.60,39.40 298.20,39.40 298.80,39.40 299.40,39.40 300.00,39.40 300.60,39.40 301.20,39.40 301.80,39.40 302.40,39.40 303.00,39.40 303.60,39.40 304.20,39.40 304.80,39.40 305.40,39.40 306.00,39.40 306.60,39.40 307.20,39.40 307.80,39.40 308.40,39.40 309.00,39.40 309.60,39.40" fill="none" stroke="#000" stroke-width="1.5" stroke-linejoin="round"/>
<polyline points="57.00,205.40 57.60,205.40 58.20,205.40 58.80,205.40 59.40,205.40 60.00,205.40 60.60,205.40 61.20,205.39 61.80,205.39 62.40,205.39 63.00,205.39 63.60,205.39 64.20,205.39 64.80,205.38 65.40,205.38 66.00,205.38 66.60,205.37 67.20,205.37 67.80,205.37 68.40,205.36 69.00,205.36 69.60,205.36 70.20,205.35 70.80,205.35 71.40,205.34 72.00,205.34 72.60,205.33 73.20,205.33 73.80,205.32 74.40,205.31 75.00,205.31 75.60,205.30 76.20,205.30 76.80,205.29 77.40,205.28 78.00,205.28 78.60,205.27 79.20,205.26 79.80,205.25 80.40,205.25 81.00,205.24 81.60,205.23 82.20,205.22 82.80,205.21 83.40,205.21 84.00,205.20 84.60,205.19 85.20,205.18 85.80,205.17 86.40,205.16 87.00,205.15 87.60,205.14 88.20,205.13 88.80,205.12 89.40,205.11 90.00,205.10 90.60,205.09 91.20,205.08 91.80,205.07 92.40,205.06 93.00,205.04 93.60,205.03 94.20,205.02 94.80,205.01 95.40,205.00 96.00,204.98 96.60,204.97 97.20,204.96 97.80,204.94 98.40,204.93 99.00,204.92 99.60,204.91 100.20,204.89 100.80,204.88 101.40,204.86 102.00,204.85 102.60,204.83 103.20,204.82 103.80,204.81 104.40,204.79 105.00,204.78 105.60,204.76 106.20,204.75 106.80,204.73 107.40,204.71 108.00,204.70 108.60,204.68 109.20,204.67 109.80,204.65 110.40,204.63 111.00,204.62 111.60,204.60 112.20,204.58 112.80,204.56 113.40,204.55 114.00,204.53 114.60,204.51 115.20,204.49 115.80,204.48 116.40,204.46 117.00,204.44 117.60,204.42 118.20,204.40 118.80,204.38 119.40,204.36 120.00,204.34 120.60,204.32 121.20,204.31 121.80,204.29 122.40,204.27 123.00,204.25 123.60,204.23 124.20,204.20 124.80,204.18 125.40,204.16 126.00,204.14 126.60,204.12 127.20,204.10 127.80,204.08 128.40,204.06 129.00,204.04 129.60,204.01 130.20,203.99 130.80,203.97 131.40,203.95 132.00,203.92 132.60,203.89 133.20,203.86 133.80,203.83 134.40,203.80 135.00,203.77 135.60,203.73 136.20,203.70 136.80,203.66 137.40,203.62 138.00,203.58 138.60,203.54 139.20,203.49 139.80,203.44 140.40,203.39 141.00,203.34 141.60,203.29 142.20,203.24 142.80,203.18 143.40,203.12 144.00,203.06 144.60,203.00 145.20,202.93 145.80,202.86 146.40,202.79 147.00,202.72 147.60,202.64 148.20,202.57 148.80,202.49 149.40,202.41 150.00,202.32 150.60,202.23 151.20,202.14 151.80,202.05 152.40,201.96 153.00,201.86 153.60,201.76 154.20,201.65 154.80,201.55 155.40,201.44 156.00,201.33 156.60,201.21 157.20,201.09 157.80,200.97 158.40,200.85 159.00,200.72 159.60,200.59 160.20,200.45 160.80,200.28 161.40,200.07 162.00,199.83 162.60,199.54 163.20,199.22 163.80,198.88 164.40,198.50 165.00,198.10 165.60,197.67 166.20,197.22 166.80,196.75 167.40,196.26 168.00,195.76 168.60,195.24 169.20,194.71 169.80,194.18 170.40,193.63 171.00,193.01 171.60,192.35 172.20,191.62 172.80,190.85 173.40,190.03 174.00,189.16 174.60,188.25 175.20,187.31 175.80,186.33 176.40,185.31 177.00,184.21 177.60,183.02 178.20,181.76 178.80,180.43 179.40,179.03 180.00,177.57 180.60,176.05 181.20,174.46 181.80,172.77 182.40,170.96 183.00,169.03 183.60,167.01 184.20,164.91 184.80,162.74 185.40,160.48 186.00,158.09 186.60,155.57 187.20,152.94 187.80,150.24 188.40,147.47 189.00,144.65 189.60,141.78 190.20,138.83 190.80,135.77 191.40,132.56 192.00,129.17 192.60,125.52 193.20,121.44 193.80,117.05 194.40,112.51 195.00,107.95 195.60,103.52 196.20,99.36 196.80,95.60 197.40,92.10 198.00,88.70 198.60,85.41 199.20,82.23 199.80,79.16 200.40,76.19 201.00,73.32 201.60,70.56 202.20,67.89 202.80,65.31 203.40,62.73 204.00,60.18 204.60,57.72 205.20,55.41 205.80,53.29 206.40,51.44 207.00,49.90 207.60,48.59 208.20,47.38 208.80,46.26 209.40,45.24 210.00,44.30 210.60,43.44 211.20,42.65 211.80,41.94 212.40,41.29 213.00,40.68 213.60,40.10 214.20,39.56 214.80,39.06 215.40,38.58 216.00,38.13 216.60,37.71 217.20,37.32 217.80,36.95 218.40,36.61 219.00,36.29 219.60,35.97 220.20,35.65 220.80,35.35 221.40,35.06 222.00,34.78 222.60,34.52 223.20,34.28 223.80,34.07 224.40,33.87 225.00,33.71 225.60,33.57 226.20,33.47 226.80,33.37 227.40,33.28 228.00,33.20 228.60,33.11 229.20,33.03 229.80,32.96 230.40,32.88 231.00,32.81 231.60,32.75 232.20,32.68 232.80,32.62 233.40,32.57 234.00,32.52 234.60,32.47 235.20,32.42 235.80,32.38 236.40,32.35 237.00,32.31 237.60,32.28 238.20,32.26 238.80,32.23 239.40,32.22 240.00,32.20 240.60,32.19 241.20,32.17 241.80,32.16 242.40,32.15 243.00,32.14 243.60,32.12 244.20,32.11 244.80,32.10 245.40,32.09 246.00,32.07 246.60,32.06 247.20,32.05 247.80,32.04 248.40,32.03 249.00,32.02 249.60,32.01 250.20,31.99 250.80,31.98 251.40,31.97 252.00,31.96 252.60,31.95 253.20,31.94 253.80,31.93 254.40,31.92 255.00,31.91 255.60,31.90 256.20,31.89 256.80,31.88 257.40,31.87 258.00,31.86 258.60,31.86 259.20,31.85 259.80,31.84 260.40,31.83 261.00,31.82 261.60,31.81 262.20,31.80 262.80,31.80 263.40,31.79 264.00,31.78 264.60,31.77 265.20,31.76 265.80,31.76 266.40,31.75 267.00,31.74 267.60,31.73 268.20,31.73 268.80,31.72 269.40,31.71 270.00,31.71 270.60,31.70 271.20,31.69 271.80,31.69 272.40,31.68 273.00,31.68 273.60,31.67 274.20,31.66 274.80,31.66 275.40,31.65 276.00,31.65 276.60,31.64 277.20,31.64 277.80,31.63 278.40,31.63 279.00,31.62 279.60,31.62 280.20,31.61 280.80,31.61 281.40,31.60 282.00,31.60 282.60,31.59 283.20,31.59 283.80,31.58 284.40,31.58 285.00,31.58 285.60,31.57 286.20,31.57 286.80,31.56 287.40,31.56 288.00,31.56 288.60,31.55 289.20,31.55 289.80,31.55 290.40,31.55 291.00,31.54 291.60,31.54 292.20,31.54 292.80,31.53 293.40,31.53 294.00,31.53 294.60,31.53 295.20,31.53 295.80,31.52 296.40,31.52 297.00,31.52 297.60,31.52 298.20,31.52 298.80,31.51 299.40,31.51 300.00,31.51 300.60,31.51 301.20,31.51 301.80,31.51 302.40,31.51 303.00,31.51 303.60,31.50 304.20,31.50 304.80,31.50 305.40,31.50 306.00,31.50 306.60,31.50 307.20,31.50 307.80,31.50 308.40,31.50 309.00,31.50 309.60,31.50" fill="none" stroke="#000" stroke-width="1.5" stroke-linejoin="round"/>
<polyline points="58.40,196.40 82.30,203.50 106.20,203.20 130.10,195.80 154.00,199.80 177.90,197.80 201.40,203.70 226.10,208.80 249.80,203.20 273.50,203.70 297.80,208.50" fill="none" stroke="#000" stroke-width="1.4" stroke-linejoin="round"/>
<polyline points="58.40,207.80 82.30,203.00 106.20,204.00 130.10,200.90 154.00,201.50 177.90,200.90 201.40,202.40 226.10,201.30 249.80,194.20 273.50,196.10 297.80,198.00" fill="none" stroke="#000" stroke-width="1.4" stroke-linejoin="round"/>
<circle cx="63.75" cy="201.48" r="3.25" fill="#000" stroke="none"/>
<circle cx="76.00" cy="201.06" r="3.25" fill="#000" stroke="none"/>
<circle cx="88.25" cy="201.83" r="3.25" fill="#000" stroke="none"/>
<circle cx="100.50" cy="200.07" r="3.25" fill="#000" stroke="none"/>
<circle cx="112.75" cy="199.12" r="3.25" fill="#000" stroke="none"/>
<circle cx="125.00" cy="193.89" r="3.25" fill="#000" stroke="none"/>
<circle cx="138.10" cy="185.50" r="3.25" fill="#000" stroke="none"/>
<circle cx="150.10" cy="146.60" r="3.25" fill="#000" stroke="none"/>
<circle cx="162.40" cy="89.20" r="3.25" fill="#000" stroke="none"/>
<circle cx="174.90" cy="43.90" r="3.25" fill="#000" stroke="none"/>
<circle cx="186.80" cy="35.90" r="3.25" fill="#000" stroke="none"/>
<circle cx="198.50" cy="32.30" r="3.25" fill="#000" stroke="none"/>
<circle cx="210.90" cy="30.50" r="3.25" fill="#000" stroke="none"/>
<circle cx="223.20" cy="37.50" r="3.25" fill="#000" stroke="none"/>
<circle cx="235.50" cy="30.20" r="3.25" fill="#000" stroke="none"/>
<circle cx="247.80" cy="26.30" r="3.25" fill="#000" stroke="none"/>
<circle cx="260.10" cy="38.00" r="3.25" fill="#000" stroke="none"/>
<circle cx="272.30" cy="35.50" r="3.25" fill="#000" stroke="none"/>
<circle cx="284.60" cy="50.70" r="3.25" fill="#000" stroke="none"/>
<circle cx="296.80" cy="31.00" r="3.25" fill="#000" stroke="none"/>
<circle cx="309.20" cy="33.20" r="3.25" fill="#000" stroke="none"/>
<rect x="60.85" y="199.18" width="5.80" height="5.80" fill="#000" stroke="none"/>
<rect x="73.10" y="199.83" width="5.80" height="5.80" fill="#000" stroke="none"/>
<rect x="85.35" y="198.49" width="5.80" height="5.80" fill="#000" stroke="none"/>
<rect x="97.60" y="198.76" width="5.80" height="5.80" fill="#000" stroke="none"/>
<rect x="109.85" y="196.99" width="5.80" height="5.80" fill="#000" stroke="none"/>
<rect x="122.10" y="195.41" width="5.80" height="5.80" fill="#000" stroke="none"/>
<rect x="134.35" y="193.82" width="5.80" height="5.80" fill="#000" stroke="none"/>
<rect x="146.60" y="190.83" width="5.80" height="5.80" fill="#000" stroke="none"/>
<rect x="158.85" y="179.66" width="5.80" height="5.80" fill="#000" stroke="none"/>
<rect x="172.00" y="147.60" width="5.80" height="5.80" fill="#000" stroke="none"/>
<rect x="184.00" y="123.10" width="5.80" height="5.80" fill="#000" stroke="none"/>
<rect x="196.70" y="65.60" width="5.80" height="5.80" fill="#000" stroke="none"/>
<rect x="208.50" y="42.60" width="5.80" height="5.80" fill="#000" stroke="none"/>
<rect x="220.30" y="35.70" width="5.80" height="5.80" fill="#000" stroke="none"/>
<rect x="232.60" y="35.50" width="5.80" height="5.80" fill="#000" stroke="none"/>
<rect x="244.90" y="33.10" width="5.80" height="5.80" fill="#000" stroke="none"/>
<rect x="257.20" y="34.60" width="5.80" height="5.80" fill="#000" stroke="none"/>
<rect x="269.40" y="37.10" width="5.80" height="5.80" fill="#000" stroke="none"/>
<rect x="281.70" y="34.70" width="5.80" height="5.80" fill="#000" stroke="none"/>
<rect x="293.90" y="26.60" width="5.80" height="5.80" fill="#000" stroke="none"/>
<rect x="306.30" y="33.10" width="5.80" height="5.80" fill="#000" stroke="none"/>
<polygon points="63.75,208.48 67.75,201.48 59.75,201.48" fill="#000" stroke="none" stroke-linejoin="miter"/>
<polygon points="76.00,209.29 80.00,202.29 72.00,202.29" fill="#000" stroke="none" stroke-linejoin="miter"/>
<polygon points="88.25,209.92 92.25,202.92 84.25,202.92" fill="#000" stroke="none" stroke-linejoin="miter"/>
<polygon points="100.50,209.18 104.50,202.18 96.50,202.18" fill="#000" stroke="none" stroke-linejoin="miter"/>
<polygon points="112.75,208.80 116.75,201.80 108.75,201.80" fill="#000" stroke="none" stroke-linejoin="miter"/>
<polygon points="125.00,209.91 129.00,202.91 121.00,202.91" fill="#000" stroke="none" stroke-linejoin="miter"/>
<polygon points="137.25,207.94 141.25,200.94 133.25,200.94" fill="#000" stroke="none" stroke-linejoin="miter"/>
<polygon points="149.50,209.25 153.50,202.25 145.50,202.25" fill="#000" stroke="none" stroke-linejoin="miter"/>
<polygon points="161.75,207.39 165.75,200.39 157.75,200.39" fill="#000" stroke="none" stroke-linejoin="miter"/>
<polygon points="174.00,205.33 178.00,198.33 170.00,198.33" fill="#000" stroke="none" stroke-linejoin="miter"/>
<polygon points="186.30,206.20 190.30,199.20 182.30,199.20" fill="#000" stroke="none" stroke-linejoin="miter"/>
<polygon points="198.50,204.90 202.50,197.90 194.50,197.90" fill="#000" stroke="none" stroke-linejoin="miter"/>
<polygon points="211.00,179.90 215.00,172.90 207.00,172.90" fill="#000" stroke="none" stroke-linejoin="miter"/>
<polygon points="223.00,116.00 227.00,109.00 219.00,109.00" fill="#000" stroke="none" stroke-linejoin="miter"/>
<polygon points="235.10,74.80 239.10,67.80 231.10,67.80" fill="#000" stroke="none" stroke-linejoin="miter"/>
<polygon points="247.80,48.20 251.80,41.20 243.80,41.20" fill="#000" stroke="none" stroke-linejoin="miter"/>
<polygon points="260.10,50.00 264.10,43.00 256.10,43.00" fill="#000" stroke="none" stroke-linejoin="miter"/>
<polygon points="272.30,40.70 276.30,33.70 268.30,33.70" fill="#000" stroke="none" stroke-linejoin="miter"/>
<polygon points="284.60,40.20 288.60,33.20 280.60,33.20" fill="#000" stroke="none" stroke-linejoin="miter"/>
<polygon points="296.80,41.20 300.80,34.20 292.80,34.20" fill="#000" stroke="none" stroke-linejoin="miter"/>
<polygon points="309.20,41.70 313.20,34.70 305.20,34.70" fill="#000" stroke="none" stroke-linejoin="miter"/>
<rect x="61.50" y="200.17" width="4.50" height="4.50" fill="#fff" stroke="#000" stroke-width="1.2"/>
<rect x="73.75" y="200.36" width="4.50" height="4.50" fill="#fff" stroke="#000" stroke-width="1.2"/>
<rect x="86.00" y="200.87" width="4.50" height="4.50" fill="#fff" stroke="#000" stroke-width="1.2"/>
<rect x="98.25" y="200.23" width="4.50" height="4.50" fill="#fff" stroke="#000" stroke-width="1.2"/>
<rect x="110.50" y="200.63" width="4.50" height="4.50" fill="#fff" stroke="#000" stroke-width="1.2"/>
<rect x="122.75" y="200.69" width="4.50" height="4.50" fill="#fff" stroke="#000" stroke-width="1.2"/>
<rect x="135.00" y="200.42" width="4.50" height="4.50" fill="#fff" stroke="#000" stroke-width="1.2"/>
<rect x="147.25" y="200.60" width="4.50" height="4.50" fill="#fff" stroke="#000" stroke-width="1.2"/>
<rect x="159.50" y="194.88" width="4.50" height="4.50" fill="#fff" stroke="#000" stroke-width="1.2"/>
<rect x="172.65" y="182.25" width="4.50" height="4.50" fill="#fff" stroke="#000" stroke-width="1.2"/>
<rect x="184.25" y="102.75" width="4.50" height="4.50" fill="#fff" stroke="#000" stroke-width="1.2"/>
<rect x="197.35" y="46.05" width="4.50" height="4.50" fill="#fff" stroke="#000" stroke-width="1.2"/>
<rect x="209.05" y="41.75" width="4.50" height="4.50" fill="#fff" stroke="#000" stroke-width="1.2"/>
<rect x="220.95" y="33.25" width="4.50" height="4.50" fill="#fff" stroke="#000" stroke-width="1.2"/>
<rect x="233.25" y="43.05" width="4.50" height="4.50" fill="#fff" stroke="#000" stroke-width="1.2"/>
<rect x="245.55" y="36.25" width="4.50" height="4.50" fill="#fff" stroke="#000" stroke-width="1.2"/>
<rect x="257.85" y="29.35" width="4.50" height="4.50" fill="#fff" stroke="#000" stroke-width="1.2"/>
<rect x="270.05" y="24.75" width="4.50" height="4.50" fill="#fff" stroke="#000" stroke-width="1.2"/>
<rect x="294.55" y="19.65" width="4.50" height="4.50" fill="#fff" stroke="#000" stroke-width="1.2"/>
<circle cx="63.75" cy="202.36" r="2.30" fill="#fff" stroke="#000" stroke-width="1.2"/>
<circle cx="76.00" cy="202.51" r="2.30" fill="#fff" stroke="#000" stroke-width="1.2"/>
<circle cx="88.25" cy="202.98" r="2.30" fill="#fff" stroke="#000" stroke-width="1.2"/>
<circle cx="100.50" cy="202.73" r="2.30" fill="#fff" stroke="#000" stroke-width="1.2"/>
<circle cx="112.75" cy="202.61" r="2.30" fill="#fff" stroke="#000" stroke-width="1.2"/>
<circle cx="125.00" cy="202.89" r="2.30" fill="#fff" stroke="#000" stroke-width="1.2"/>
<circle cx="137.25" cy="202.75" r="2.30" fill="#fff" stroke="#000" stroke-width="1.2"/>
<circle cx="149.50" cy="202.60" r="2.30" fill="#fff" stroke="#000" stroke-width="1.2"/>
<circle cx="161.75" cy="193.64" r="2.30" fill="#fff" stroke="#000" stroke-width="1.2"/>
<circle cx="174.90" cy="168.00" r="2.30" fill="#fff" stroke="#000" stroke-width="1.2"/>
<circle cx="186.90" cy="124.90" r="2.30" fill="#fff" stroke="#000" stroke-width="1.2"/>
<circle cx="199.20" cy="59.30" r="2.30" fill="#fff" stroke="#000" stroke-width="1.2"/>
<circle cx="211.30" cy="37.80" r="2.30" fill="#fff" stroke="#000" stroke-width="1.2"/>
<circle cx="248.20" cy="42.20" r="2.30" fill="#fff" stroke="#000" stroke-width="1.2"/>
<circle cx="272.30" cy="50.70" r="2.30" fill="#fff" stroke="#000" stroke-width="1.2"/>
<circle cx="309.20" cy="43.80" r="2.30" fill="#fff" stroke="#000" stroke-width="1.2"/>
<polygon points="63.75,201.59 67.75,208.59 59.75,208.59" fill="#000" stroke="none" stroke-linejoin="miter"/>
<polygon points="76.00,200.58 80.00,207.58 72.00,207.58" fill="#000" stroke="none" stroke-linejoin="miter"/>
<polygon points="88.25,201.08 92.25,208.08 84.25,208.08" fill="#000" stroke="none" stroke-linejoin="miter"/>
<polygon points="100.50,200.74 104.50,207.74 96.50,207.74" fill="#000" stroke="none" stroke-linejoin="miter"/>
<polygon points="112.75,201.11 116.75,208.11 108.75,208.11" fill="#000" stroke="none" stroke-linejoin="miter"/>
<polygon points="125.00,200.44 129.00,207.44 121.00,207.44" fill="#000" stroke="none" stroke-linejoin="miter"/>
<polygon points="137.25,199.00 141.25,206.00 133.25,206.00" fill="#000" stroke="none" stroke-linejoin="miter"/>
<polygon points="149.50,199.17 153.50,206.17 145.50,206.17" fill="#000" stroke="none" stroke-linejoin="miter"/>
<polygon points="161.75,194.86 165.75,201.86 157.75,201.86" fill="#000" stroke="none" stroke-linejoin="miter"/>
<polygon points="174.90,172.60 178.90,179.60 170.90,179.60" fill="#000" stroke="none" stroke-linejoin="miter"/>
<polygon points="186.90,148.50 190.90,155.50 182.90,155.50" fill="#000" stroke="none" stroke-linejoin="miter"/>
<polygon points="199.60,87.70 203.60,94.70 195.60,94.70" fill="#000" stroke="none" stroke-linejoin="miter"/>
<polygon points="211.30,33.80 215.30,40.80 207.30,40.80" fill="#000" stroke="none" stroke-linejoin="miter"/>
<polygon points="223.20,25.60 227.20,32.60 219.20,32.60" fill="#000" stroke="none" stroke-linejoin="miter"/>
<polygon points="235.50,31.80 239.50,38.80 231.50,38.80" fill="#000" stroke="none" stroke-linejoin="miter"/>
<polygon points="247.80,29.30 251.80,36.30 243.80,36.30" fill="#000" stroke="none" stroke-linejoin="miter"/>
<polygon points="260.10,32.30 264.10,39.30 256.10,39.30" fill="#000" stroke="none" stroke-linejoin="miter"/>
<polygon points="272.30,30.80 276.30,37.80 268.30,37.80" fill="#000" stroke="none" stroke-linejoin="miter"/>
<polygon points="284.60,19.40 288.60,26.40 280.60,26.40" fill="#000" stroke="none" stroke-linejoin="miter"/>
<polygon points="296.80,27.80 300.80,34.80 292.80,34.80" fill="#000" stroke="none" stroke-linejoin="miter"/>
<polygon points="309.20,15.10 313.20,22.10 305.20,22.10" fill="#000" stroke="none" stroke-linejoin="miter"/>
<polygon points="58.40,199.74 61.14,194.18 55.66,194.18" fill="#fff" stroke="#000" stroke-width="1.2" stroke-linejoin="miter"/>
<polygon points="82.30,206.84 85.04,201.28 79.56,201.28" fill="#fff" stroke="#000" stroke-width="1.2" stroke-linejoin="miter"/>
<polygon points="106.20,206.54 108.94,200.98 103.46,200.98" fill="#fff" stroke="#000" stroke-width="1.2" stroke-linejoin="miter"/>
<polygon points="130.10,199.14 132.84,193.58 127.36,193.58" fill="#fff" stroke="#000" stroke-width="1.2" stroke-linejoin="miter"/>
<polygon points="154.00,203.14 156.74,197.58 151.26,197.58" fill="#fff" stroke="#000" stroke-width="1.2" stroke-linejoin="miter"/>
<polygon points="177.90,201.14 180.64,195.58 175.16,195.58" fill="#fff" stroke="#000" stroke-width="1.2" stroke-linejoin="miter"/>
<polygon points="201.40,207.04 204.14,201.48 198.66,201.48" fill="#fff" stroke="#000" stroke-width="1.2" stroke-linejoin="miter"/>
<polygon points="226.10,212.14 228.84,206.58 223.36,206.58" fill="#fff" stroke="#000" stroke-width="1.2" stroke-linejoin="miter"/>
<polygon points="249.80,206.54 252.54,200.98 247.06,200.98" fill="#fff" stroke="#000" stroke-width="1.2" stroke-linejoin="miter"/>
<polygon points="273.50,207.04 276.24,201.48 270.76,201.48" fill="#fff" stroke="#000" stroke-width="1.2" stroke-linejoin="miter"/>
<polygon points="297.80,211.84 300.54,206.28 295.06,206.28" fill="#fff" stroke="#000" stroke-width="1.2" stroke-linejoin="miter"/>
<polygon points="58.40,204.46 61.14,210.02 55.66,210.02" fill="#fff" stroke="#000" stroke-width="1.2" stroke-linejoin="miter"/>
<polygon points="82.30,199.66 85.04,205.22 79.56,205.22" fill="#fff" stroke="#000" stroke-width="1.2" stroke-linejoin="miter"/>
<polygon points="106.20,200.66 108.94,206.22 103.46,206.22" fill="#fff" stroke="#000" stroke-width="1.2" stroke-linejoin="miter"/>
<polygon points="130.10,197.56 132.84,203.12 127.36,203.12" fill="#fff" stroke="#000" stroke-width="1.2" stroke-linejoin="miter"/>
<polygon points="154.00,198.16 156.74,203.72 151.26,203.72" fill="#fff" stroke="#000" stroke-width="1.2" stroke-linejoin="miter"/>
<polygon points="177.90,197.56 180.64,203.12 175.16,203.12" fill="#fff" stroke="#000" stroke-width="1.2" stroke-linejoin="miter"/>
<polygon points="201.40,199.06 204.14,204.62 198.66,204.62" fill="#fff" stroke="#000" stroke-width="1.2" stroke-linejoin="miter"/>
<polygon points="226.10,197.96 228.84,203.52 223.36,203.52" fill="#fff" stroke="#000" stroke-width="1.2" stroke-linejoin="miter"/>
<polygon points="249.80,190.86 252.54,196.42 247.06,196.42" fill="#fff" stroke="#000" stroke-width="1.2" stroke-linejoin="miter"/>
<polygon points="273.50,192.76 276.24,198.32 270.76,198.32" fill="#fff" stroke="#000" stroke-width="1.2" stroke-linejoin="miter"/>
<polygon points="297.80,194.66 300.54,200.22 295.06,200.22" fill="#fff" stroke="#000" stroke-width="1.2" stroke-linejoin="miter"/>
<circle cx="271.40" cy="71.90" r="3.25" fill="#000" stroke="none"/>
<text transform="translate(287.00,76.20) scale(1,1.04)" font-size="14.8" text-anchor="start" >PLY</text>
<rect x="268.50" y="84.60" width="5.80" height="5.80" fill="#000" stroke="none"/>
<text transform="translate(287.00,90.30) scale(1,1.04)" font-size="14.8" text-anchor="start" >S68E</text>
<rect x="269.15" y="99.45" width="4.50" height="4.50" fill="#fff" stroke="#000" stroke-width="1.2"/>
<text transform="translate(287.00,104.60) scale(1,1.04)" font-size="14.8" text-anchor="start" >N86R</text>
<polygon points="271.40,121.10 275.40,114.10 267.40,114.10" fill="#000" stroke="none" stroke-linejoin="miter"/>
<path d="M 780 0 L 572 0 L 572 1140 Q 510 1080 406 1018 Q 302 958 215 925 L 215 1110 Q 366 1180 478 1280 Q 590 1380 636 1466 L 780 1466 Z" transform="translate(297.69,120.20) scale(0.00723,-0.00723)" fill="#000"/>
<text transform="translate(287.00,120.20) scale(1,1.04)" font-size="14.8" text-anchor="start" >R 47E</text>
<polygon points="271.40,135.04 274.14,129.48 268.66,129.48" fill="#fff" stroke="#000" stroke-width="1.2" stroke-linejoin="miter"/>
<text transform="translate(287.00,135.50) scale(1,1.04)" font-size="14.8" text-anchor="start" >D205R</text>
<polygon points="271.40,144.06 274.14,149.62 268.66,149.62" fill="#fff" stroke="#000" stroke-width="1.2" stroke-linejoin="miter"/>
<text transform="translate(287.00,150.60) scale(1,1.04)" font-size="14.8" text-anchor="start" >N339R</text>
<circle cx="271.40" cy="163.00" r="2.30" fill="#fff" stroke="#000" stroke-width="1.2"/>
<text transform="translate(287.00,166.70) scale(1,1.04)" font-size="14.8" text-anchor="start" >R399A</text>
<polygon points="271.40,174.80 275.40,181.80 267.40,181.80" fill="#000" stroke="none" stroke-linejoin="miter"/>
<text transform="translate(287.00,183.10) scale(1,1.04)" font-size="14.8" text-anchor="start" >E434A</text>
<line x1="410.10" y1="10.30" x2="410.10" y2="215.00" stroke="#1a1a1a" stroke-width="1.45"/>
<line x1="409.40" y1="214.30" x2="682.00" y2="214.30" stroke="#1a1a1a" stroke-width="1.45"/>
<line x1="406.10" y1="210.90" x2="410.10" y2="210.90" stroke="#000" stroke-width="1.2"/>
<line x1="406.10" y1="133.90" x2="410.10" y2="133.90" stroke="#000" stroke-width="1.2"/>
<line x1="406.10" y1="56.90" x2="410.10" y2="56.90" stroke="#000" stroke-width="1.2"/>
<line x1="421.80" y1="214.30" x2="421.80" y2="218.30" stroke="#000" stroke-width="1.2"/>
<line x1="546.10" y1="214.30" x2="546.10" y2="218.30" stroke="#000" stroke-width="1.2"/>
<line x1="670.40" y1="214.30" x2="670.40" y2="218.30" stroke="#000" stroke-width="1.2"/>
<line x1="483.95" y1="214.30" x2="483.95" y2="216.80" stroke="#000" stroke-width="1.2"/>
<line x1="608.25" y1="214.30" x2="608.25" y2="216.80" stroke="#000" stroke-width="1.2"/>
<text transform="translate(402.00,214.50) scale(1,1.04)" font-size="14.2" text-anchor="end" >0.0</text>
<text transform="translate(402.00,137.50) scale(1,1.04)" font-size="14.2" text-anchor="end" >0.5</text>
<path d="M 780 0 L 572 0 L 572 1140 Q 510 1080 406 1018 Q 302 958 215 925 L 215 1110 Q 366 1180 478 1280 Q 590 1380 636 1466 L 780 1466 Z" transform="translate(382.26,60.50) scale(0.00693,-0.00693)" fill="#000"/>
<text transform="translate(402.00,60.50) scale(1,1.04)" font-size="14.2" text-anchor="end" > .0</text>
<text transform="translate(410.30,238.60) scale(1,1.04)" font-size="14.2" text-anchor="start" >300</text>
<text transform="translate(534.60,238.60) scale(1,1.04)" font-size="14.2" text-anchor="start" >350</text>
<text transform="translate(658.40,238.60) scale(1,1.04)" font-size="14.2" text-anchor="start" >400</text>
<text transform="translate(548.00,258.50) scale(1,1.04)" font-size="14.8" text-anchor="middle" >Wavelength (nm)</text>
<text transform="translate(375.4,113.9) rotate(-90) scale(1,1.04)" font-size="14.8" text-anchor="middle">Relative Fluorescence</text>
<text transform="translate(363.30,25.00) scale(1,1.04)" font-size="33.2" text-anchor="start" >B</text>
<text transform="translate(422.00,31.90) scale(1,1.04)" font-size="14.6" text-anchor="start" >+ liposomes</text>
<text transform="translate(563.60,60.40) scale(1,1.04)" font-size="14.8" text-anchor="start" >folded</text>
<text transform="translate(491.40,149.20) scale(1,1.04)" font-size="14.6" text-anchor="start" >2 M Gn-HCl</text>
<polyline points="422.40,173.01 423.18,171.82 423.95,170.60 424.73,169.37 425.50,168.11 426.28,166.84 427.06,165.55 427.83,164.24 428.61,162.92 429.38,161.57 430.16,160.21 430.93,158.84 431.71,157.45 432.49,156.04 433.26,154.62 434.04,153.18 434.81,151.73 435.59,150.27 436.37,148.79 437.14,147.30 437.92,145.80 438.69,144.28 439.47,142.75 440.24,141.22 441.02,139.67 441.80,138.11 442.57,136.54 443.35,134.96 444.12,133.37 444.90,131.78 445.68,130.17 446.45,128.56 447.23,126.94 448.00,125.31 448.78,123.67 449.56,122.03 450.33,120.38 451.11,118.73 451.88,117.07 452.66,115.41 453.43,113.74 454.21,112.07 454.99,110.40 455.76,108.72 456.54,107.04 457.31,105.36 458.09,103.67 458.87,101.98 459.64,100.30 460.42,98.61 461.19,96.92 461.97,95.23 462.74,93.54 463.52,91.86 464.30,90.17 465.07,88.50 465.85,86.82 466.62,85.15 467.40,83.50 468.18,81.85 468.95,80.21 469.73,78.58 470.50,76.97 471.28,75.38 472.06,73.79 472.83,72.23 473.61,70.69 474.38,69.16 475.16,67.66 475.93,66.18 476.71,64.73 477.49,63.30 478.26,61.90 479.04,60.52 479.81,59.18 480.59,57.86 481.37,56.58 482.14,55.34 482.92,54.12 483.69,52.95 484.47,51.81 485.24,50.71 486.02,49.65 486.80,48.63 487.57,47.65 488.35,46.71 489.12,45.81 489.90,44.94 490.68,44.11 491.45,43.32 492.23,42.57 493.00,41.85 493.78,41.17 494.56,40.52 495.33,39.91 496.11,39.34 496.88,38.80 497.66,38.29 498.43,37.82 499.21,37.37 499.99,36.97 500.76,36.59 501.54,36.25 502.31,35.94 503.09,35.65 503.87,35.40 504.64,35.18 505.42,34.99 506.19,34.83 506.97,34.70 507.74,34.60 508.52,34.52 509.30,34.47 510.07,34.46 510.85,34.46 511.62,34.50 512.40,34.56 513.18,34.64 513.95,34.75 514.73,34.89 515.50,35.05 516.28,35.24 517.06,35.45 517.83,35.68 518.61,35.93 519.38,36.21 520.16,36.51 520.93,36.83 521.71,37.18 522.49,37.54 523.26,37.93 524.04,38.33 524.81,38.76 525.59,39.20 526.37,39.66 527.14,40.14 527.92,40.64 528.69,41.16 529.47,41.69 530.24,42.24 531.02,42.81 531.80,43.40 532.57,44.00 533.35,44.61 534.12,45.24 534.90,45.88 535.68,46.54 536.45,47.21 537.23,47.90 538.00,48.60 538.78,49.30 539.56,50.03 540.33,50.76 541.11,51.51 541.88,52.26 542.66,53.03 543.43,53.80 544.21,54.59 544.99,55.38 545.76,56.19 546.54,57.00 547.31,57.83 548.09,58.66 548.87,59.50 549.64,60.35 550.42,61.20 551.19,62.07 551.97,62.94 552.74,63.82 553.52,64.71 554.30,65.60 555.07,66.51 555.85,67.41 556.62,68.33 557.40,69.25 558.18,70.18 558.95,71.11 559.73,72.05 560.50,72.99 561.28,73.94 562.06,74.90 562.83,75.86 563.61,76.82 564.38,77.79 565.16,78.76 565.93,79.74 566.71,80.72 567.49,81.71 568.26,82.69 569.04,83.68 569.81,84.68 570.59,85.67 571.37,86.67 572.14,87.68 572.92,88.68 573.69,89.68 574.47,90.69 575.24,91.70 576.02,92.71 576.80,93.72 577.57,94.73 578.35,95.75 579.12,96.76 579.90,97.77 580.68,98.79 581.45,99.80 582.23,100.81 583.00,101.83 583.78,102.84 584.56,103.85 585.33,104.86 586.11,105.87 586.88,106.87 587.66,107.88 588.43,108.88 589.21,109.88 589.99,110.88 590.76,111.87 591.54,112.87 592.31,113.85 593.09,114.84 593.87,115.82 594.64,116.80 595.42,117.78 596.19,118.75 596.97,119.71 597.74,120.68 598.52,121.63 599.30,122.59 600.07,123.53 600.85,124.48 601.62,125.41 602.40,126.34 603.18,127.27 603.95,128.19 604.73,129.10 605.50,130.01 606.28,130.91 607.06,131.80 607.83,132.69 608.61,133.57 609.38,134.45 610.16,135.32 610.93,136.19 611.71,137.05 612.49,137.90 613.26,138.75 614.04,139.59 614.81,140.42 615.59,141.25 616.37,142.07 617.14,142.89 617.92,143.70 618.69,144.50 619.47,145.30 620.24,146.09 621.02,146.88 621.80,147.66 622.57,148.43 623.35,149.20 624.12,149.95 624.90,150.71 625.68,151.45 626.45,152.19 627.23,152.93 628.00,153.66 628.78,154.38 629.56,155.09 630.33,155.80 631.11,156.50 631.88,157.19 632.66,157.88 633.43,158.56 634.21,159.24 634.99,159.90 635.76,160.57 636.54,161.22 637.31,161.87 638.09,162.51 638.87,163.14 639.64,163.77 640.42,164.39 641.19,165.00 641.97,165.61 642.74,166.21 643.52,166.80 644.30,167.39 645.07,167.97 645.85,168.54 646.62,169.10 647.40,169.66 648.18,170.21 648.95,170.75 649.73,171.29 650.50,171.82 651.28,172.34 652.06,172.86 652.83,173.37 653.61,173.87 654.38,174.36 655.16,174.85 655.93,175.32 656.71,175.80 657.49,176.26 658.26,176.72 659.04,177.17 659.81,177.61 660.59,178.04 661.37,178.47 662.14,178.89 662.92,179.30 663.69,179.71 664.47,180.11 665.24,180.50 666.02,180.88 666.80,181.25 667.57,181.62 668.35,181.98 669.12,182.33 669.90,182.68" fill="none" stroke="#000" stroke-width="1.45" stroke-linejoin="round"/>
<polyline points="422.40,178.95 423.18,178.54 423.95,178.11 424.73,177.67 425.50,177.20 426.28,176.71 427.06,176.20 427.83,175.68 428.61,175.13 429.38,174.57 430.16,173.98 430.93,173.38 431.71,172.75 432.49,172.11 433.26,171.45 434.04,170.78 434.81,170.08 435.59,169.37 436.37,168.64 437.14,167.89 437.92,167.13 438.69,166.35 439.47,165.55 440.24,164.74 441.02,163.91 441.80,163.06 442.57,162.20 443.35,161.32 444.12,160.43 444.90,159.52 445.68,158.60 446.45,157.66 447.23,156.71 448.00,155.75 448.78,154.77 449.56,153.78 450.33,152.77 451.11,151.75 451.88,150.72 452.66,149.67 453.43,148.61 454.21,147.54 454.99,146.46 455.76,145.36 456.54,144.25 457.31,143.14 458.09,142.01 458.87,140.86 459.64,139.71 460.42,138.55 461.19,137.37 461.97,136.19 462.74,135.00 463.52,133.79 464.30,132.58 465.07,131.35 465.85,130.12 466.62,128.88 467.40,127.63 468.18,126.37 468.95,125.11 469.73,123.84 470.50,122.56 471.28,121.28 472.06,120.00 472.83,118.71 473.61,117.42 474.38,116.13 475.16,114.83 475.93,113.54 476.71,112.25 477.49,110.95 478.26,109.66 479.04,108.37 479.81,107.09 480.59,105.81 481.37,104.53 482.14,103.26 482.92,102.00 483.69,100.74 484.47,99.49 485.24,98.24 486.02,97.01 486.80,95.79 487.57,94.57 488.35,93.37 489.12,92.18 489.90,91.00 490.68,89.83 491.45,88.68 492.23,87.54 493.00,86.42 493.78,85.32 494.56,84.23 495.33,83.16 496.11,82.10 496.88,81.07 497.66,80.05 498.43,79.06 499.21,78.08 499.99,77.12 500.76,76.19 501.54,75.27 502.31,74.37 503.09,73.49 503.87,72.63 504.64,71.80 505.42,70.98 506.19,70.18 506.97,69.41 507.74,68.65 508.52,67.92 509.30,67.20 510.07,66.51 510.85,65.84 511.62,65.19 512.40,64.57 513.18,63.96 513.95,63.38 514.73,62.81 515.50,62.27 516.28,61.76 517.06,61.26 517.83,60.79 518.61,60.34 519.38,59.91 520.16,59.51 520.93,59.13 521.71,58.77 522.49,58.44 523.26,58.12 524.04,57.83 524.81,57.57 525.59,57.32 526.37,57.10 527.14,56.90 527.92,56.72 528.69,56.56 529.47,56.42 530.24,56.30 531.02,56.20 531.80,56.13 532.57,56.07 533.35,56.03 534.12,56.01 534.90,56.01 535.68,56.03 536.45,56.07 537.23,56.13 538.00,56.21 538.78,56.30 539.56,56.41 540.33,56.54 541.11,56.69 541.88,56.86 542.66,57.04 543.43,57.24 544.21,57.45 544.99,57.68 545.76,57.93 546.54,58.19 547.31,58.47 548.09,58.77 548.87,59.08 549.64,59.40 550.42,59.74 551.19,60.09 551.97,60.46 552.74,60.84 553.52,61.24 554.30,61.65 555.07,62.07 555.85,62.51 556.62,62.96 557.40,63.42 558.18,63.89 558.95,64.38 559.73,64.88 560.50,65.39 561.28,65.91 562.06,66.45 562.83,66.99 563.61,67.55 564.38,68.11 565.16,68.69 565.93,69.28 566.71,69.88 567.49,70.48 568.26,71.10 569.04,71.73 569.81,72.37 570.59,73.01 571.37,73.67 572.14,74.33 572.92,75.00 573.69,75.68 574.47,76.37 575.24,77.06 576.02,77.77 576.80,78.48 577.57,79.20 578.35,79.92 579.12,80.65 579.90,81.39 580.68,82.13 581.45,82.88 582.23,83.64 583.00,84.40 583.78,85.17 584.56,85.94 585.33,86.72 586.11,87.50 586.88,88.28 587.66,89.07 588.43,89.87 589.21,90.67 589.99,91.47 590.76,92.28 591.54,93.08 592.31,93.90 593.09,94.71 593.87,95.53 594.64,96.35 595.42,97.17 596.19,97.99 596.97,98.82 597.74,99.65 598.52,100.48 599.30,101.30 600.07,102.14 600.85,102.97 601.62,103.80 602.40,104.63 603.18,105.46 603.95,106.29 604.73,107.12 605.50,107.95 606.28,108.78 607.06,109.61 607.83,110.44 608.61,111.26 609.38,112.09 610.16,112.91 610.93,113.73 611.71,114.55 612.49,115.37 613.26,116.18 614.04,117.00 614.81,117.81 615.59,118.62 616.37,119.42 617.14,120.23 617.92,121.03 618.69,121.83 619.47,122.63 620.24,123.43 621.02,124.22 621.80,125.01 622.57,125.80 623.35,126.59 624.12,127.37 624.90,128.15 625.68,128.93 626.45,129.71 627.23,130.48 628.00,131.25 628.78,132.02 629.56,132.78 630.33,133.54 631.11,134.30 631.88,135.05 632.66,135.80 633.43,136.55 634.21,137.29 634.99,138.03 635.76,138.77 636.54,139.50 637.31,140.23 638.09,140.96 638.87,141.68 639.64,142.40 640.42,143.11 641.19,143.82 641.97,144.53 642.74,145.23 643.52,145.93 644.30,146.62 645.07,147.31 645.85,147.99 646.62,148.67 647.40,149.35 648.18,150.02 648.95,150.69 649.73,151.35 650.50,152.01 651.28,152.66 652.06,153.31 652.83,153.95 653.61,154.59 654.38,155.22 655.16,155.85 655.93,156.47 656.71,157.09 657.49,157.70 658.26,158.31 659.04,158.91 659.81,159.51 660.59,160.10 661.37,160.68 662.14,161.26 662.92,161.84 663.69,162.41 664.47,162.97 665.24,163.53 666.02,164.08 666.80,164.62 667.57,165.16 668.35,165.69 669.12,166.22 669.90,166.74" fill="none" stroke="#000" stroke-width="1.45" stroke-linejoin="round"/>
<polyline points="422.40,185.89 423.18,185.67 423.95,185.45 424.73,185.22 425.50,185.00 426.28,184.77 427.06,184.55 427.83,184.32 428.61,184.09 429.38,183.85 430.16,183.62 430.93,183.38 431.71,183.13 432.49,182.89 433.26,182.63 434.04,182.38 434.81,182.11 435.59,181.85 436.37,181.57 437.14,181.29 437.92,181.01 438.69,180.71 439.47,180.41 440.24,180.11 441.02,179.79 441.80,179.47 442.57,179.14 443.35,178.80 444.12,178.45 444.90,178.09 445.68,177.72 446.45,177.34 447.23,176.95 448.00,176.55 448.78,176.14 449.56,175.71 450.33,175.28 451.11,174.83 451.88,174.37 452.66,173.90 453.43,173.41 454.21,172.91 454.99,172.40 455.76,171.87 456.54,171.33 457.31,170.77 458.09,170.20 458.87,169.61 459.64,169.01 460.42,168.39 461.19,167.76 461.97,167.10 462.74,166.43 463.52,165.74 464.30,165.04 465.07,164.31 465.85,163.57 466.62,162.81 467.40,162.03 468.18,161.23 468.95,160.41 469.73,159.57 470.50,158.71 471.28,157.84 472.06,156.95 472.83,156.04 473.61,155.11 474.38,154.17 475.16,153.21 475.93,152.23 476.71,151.24 477.49,150.23 478.26,149.21 479.04,148.18 479.81,147.12 480.59,146.06 481.37,144.98 482.14,143.89 482.92,142.78 483.69,141.66 484.47,140.53 485.24,139.39 486.02,138.24 486.80,137.07 487.57,135.90 488.35,134.72 489.12,133.55 489.90,132.38 490.68,131.21 491.45,130.05 492.23,128.90 493.00,127.76 493.78,126.64 494.56,125.53 495.33,124.43 496.11,123.34 496.88,122.27 497.66,121.21 498.43,120.17 499.21,119.15 499.99,118.14 500.76,117.14 501.54,116.16 502.31,115.20 503.09,114.25 503.87,113.32 504.64,112.40 505.42,111.50 506.19,110.62 506.97,109.75 507.74,108.89 508.52,108.05 509.30,107.23 510.07,106.42 510.85,105.63 511.62,104.85 512.40,104.09 513.18,103.34 513.95,102.61 514.73,101.90 515.50,101.20 516.28,100.51 517.06,99.84 517.83,99.19 518.61,98.55 519.38,97.93 520.16,97.32 520.93,96.73 521.71,96.15 522.49,95.59 523.26,95.04 524.04,94.51 524.81,94.00 525.59,93.50 526.37,93.01 527.14,92.54 527.92,92.09 528.69,91.65 529.47,91.22 530.24,90.82 531.02,90.42 531.80,90.04 532.57,89.68 533.35,89.33 534.12,89.00 534.90,88.68 535.68,88.38 536.45,88.09 537.23,87.82 538.00,87.56 538.78,87.32 539.56,87.09 540.33,86.88 541.11,86.68 541.88,86.50 542.66,86.34 543.43,86.18 544.21,86.05 544.99,85.93 545.76,85.82 546.54,85.73 547.31,85.65 548.09,85.59 548.87,85.54 549.64,85.51 550.42,85.49 551.19,85.49 551.97,85.50 552.74,85.53 553.52,85.58 554.30,85.63 555.07,85.71 555.85,85.79 556.62,85.89 557.40,86.01 558.18,86.14 558.95,86.28 559.73,86.44 560.50,86.61 561.28,86.80 562.06,86.99 562.83,87.20 563.61,87.43 564.38,87.66 565.16,87.91 565.93,88.17 566.71,88.44 567.49,88.72 568.26,89.02 569.04,89.33 569.81,89.65 570.59,89.97 571.37,90.31 572.14,90.67 572.92,91.03 573.69,91.40 574.47,91.78 575.24,92.17 576.02,92.58 576.80,92.99 577.57,93.41 578.35,93.84 579.12,94.28 579.90,94.73 580.68,95.18 581.45,95.65 582.23,96.12 583.00,96.61 583.78,97.10 584.56,97.59 585.33,98.10 586.11,98.61 586.88,99.13 587.66,99.66 588.43,100.19 589.21,100.73 589.99,101.28 590.76,101.83 591.54,102.39 592.31,102.96 593.09,103.53 593.87,104.11 594.64,104.69 595.42,105.28 596.19,105.87 596.97,106.47 597.74,107.07 598.52,107.68 599.30,108.29 600.07,108.91 600.85,109.53 601.62,110.15 602.40,110.78 603.18,111.41 603.95,112.04 604.73,112.67 605.50,113.31 606.28,113.96 607.06,114.60 607.83,115.25 608.61,115.90 609.38,116.55 610.16,117.20 610.93,117.86 611.71,118.51 612.49,119.17 613.26,119.83 614.04,120.50 614.81,121.16 615.59,121.83 616.37,122.49 617.14,123.16 617.92,123.83 618.69,124.51 619.47,125.18 620.24,125.85 621.02,126.53 621.80,127.20 622.57,127.88 623.35,128.56 624.12,129.24 624.90,129.91 625.68,130.59 626.45,131.27 627.23,131.95 628.00,132.63 628.78,133.31 629.56,134.00 630.33,134.68 631.11,135.36 631.88,136.04 632.66,136.72 633.43,137.40 634.21,138.08 634.99,138.76 635.76,139.44 636.54,140.12 637.31,140.79 638.09,141.47 638.87,142.15 639.64,142.82 640.42,143.50 641.19,144.17 641.97,144.84 642.74,145.51 643.52,146.18 644.30,146.85 645.07,147.52 645.85,148.18 646.62,148.84 647.40,149.51 648.18,150.17 648.95,150.82 649.73,151.48 650.50,152.13 651.28,152.78 652.06,153.43 652.83,154.08 653.61,154.73 654.38,155.37 655.16,156.01 655.93,156.65 656.71,157.28 657.49,157.91 658.26,158.54 659.04,159.17 659.81,159.79 660.59,160.41 661.37,161.03 662.14,161.64 662.92,162.25 663.69,162.86 664.47,163.46 665.24,164.06 666.02,164.66 666.80,165.25 667.57,165.84 668.35,166.43 669.12,167.01 669.90,167.58" fill="none" stroke="#000" stroke-width="1.45" stroke-linejoin="round"/>
<line x1="55.40" y1="271.60" x2="55.40" y2="480.30" stroke="#000" stroke-width="1.35"/>
<line x1="54.70" y1="479.60" x2="339.30" y2="479.60" stroke="#000" stroke-width="1.35"/>
<line x1="50.90" y1="462.60" x2="55.40" y2="462.60" stroke="#000" stroke-width="1.2"/>
<line x1="50.90" y1="375.65" x2="55.40" y2="375.65" stroke="#000" stroke-width="1.2"/>
<line x1="50.90" y1="288.70" x2="55.40" y2="288.70" stroke="#000" stroke-width="1.2"/>
<line x1="52.60" y1="419.12" x2="55.40" y2="419.12" stroke="#000" stroke-width="1.2"/>
<line x1="52.60" y1="332.18" x2="55.40" y2="332.18" stroke="#000" stroke-width="1.2"/>
<line x1="68.40" y1="479.60" x2="68.40" y2="483.40" stroke="#000" stroke-width="1.2"/>
<line x1="197.80" y1="479.60" x2="197.80" y2="483.40" stroke="#000" stroke-width="1.2"/>
<line x1="327.20" y1="479.60" x2="327.20" y2="483.40" stroke="#000" stroke-width="1.2"/>
<line x1="133.10" y1="479.60" x2="133.10" y2="481.90" stroke="#000" stroke-width="1.2"/>
<line x1="262.50" y1="479.60" x2="262.50" y2="481.90" stroke="#000" stroke-width="1.2"/>
<text transform="translate(47.20,465.80) scale(1,1.04)" font-size="14.5" text-anchor="end" >0.0</text>
<text transform="translate(47.20,378.85) scale(1,1.04)" font-size="14.5" text-anchor="end" >0.5</text>
<path d="M 780 0 L 572 0 L 572 1140 Q 510 1080 406 1018 Q 302 958 215 925 L 215 1110 Q 366 1180 478 1280 Q 590 1380 636 1466 L 780 1466 Z" transform="translate(27.04,291.90) scale(0.00708,-0.00708)" fill="#000"/>
<text transform="translate(47.20,291.90) scale(1,1.04)" font-size="14.5" text-anchor="end" > .0</text>
<text transform="translate(65.00,499.90) scale(1,1.04)" font-size="15.0" text-anchor="start" >0</text>
<path d="M 780 0 L 572 0 L 572 1140 Q 510 1080 406 1018 Q 302 958 215 925 L 215 1110 Q 366 1180 478 1280 Q 590 1380 636 1466 L 780 1466 Z" transform="translate(194.20,499.90) scale(0.00732,-0.00732)" fill="#000"/>
<text transform="translate(194.20,499.90) scale(1,1.04)" font-size="15.0" text-anchor="start" > </text>
<text transform="translate(323.20,499.90) scale(1,1.04)" font-size="15.0" text-anchor="start" >2</text>
<text transform="translate(203.00,515.00) scale(1,1.04)" font-size="14.8" text-anchor="middle" >[Gn-HCl]</text>
<text transform="translate(16.7,373.5) rotate(-90) scale(1,1.04)" font-size="14.8" text-anchor="middle">Relative change in intensity</text>
<text transform="translate(0.30,258.60) scale(1,1.04)" font-size="34.5" text-anchor="start" >C</text>
<polyline points="94.28,439.99 107.22,422.08 120.16,450.95 133.10,450.43 146.04,453.91 158.98,437.21 169.33,406.26 179.68,313.57 190.04,329.74 200.39,313.74 210.74,304.87 221.09,303.13 231.44,295.66 241.80,328.18 252.15,418.60 262.50,444.34 272.85,453.91 283.20,471.30 293.56,477.73 303.91,468.69 314.26,468.69" fill="none" stroke="#000" stroke-width="1.4" stroke-linejoin="round"/>
<polyline points="94.28,414.26 107.22,424.69 120.16,418.08 133.10,427.30 146.04,435.12 158.98,468.16 171.92,417.91 184.86,380.52 197.80,326.96 210.74,339.13 223.68,300.87 236.62,358.78 249.56,410.43 262.50,450.08 275.44,453.91 288.38,463.64" fill="none" stroke="#000" stroke-width="1.4" stroke-linejoin="round"/>
<polyline points="158.98,455.99 169.33,388.17 179.68,320.52 190.04,334.61 200.39,318.78 210.74,311.31 221.09,310.09 231.44,300.35 241.80,319.48 252.15,357.56 262.50,391.13 272.85,442.43 283.20,455.82 293.56,471.30 303.91,474.43 314.26,477.73" fill="none" stroke="#000" stroke-width="1.4" stroke-linejoin="round"/>
<polyline points="158.98,443.64 169.33,362.09 179.68,374.08 190.04,325.05 200.39,304.00 210.74,301.92 221.09,314.79 231.44,309.57 241.80,311.31 252.15,327.48 262.50,425.73 272.85,428.86 283.20,444.34 293.56,455.12 303.91,460.34 314.26,445.04" fill="none" stroke="#000" stroke-width="1.4" stroke-linejoin="round"/>
<polyline points="94.28,448.34 107.22,449.04 120.16,450.95 133.10,460.17 146.04,463.47 158.98,460.17 171.92,438.43 184.86,393.39 197.80,338.78 210.74,337.39 223.68,323.48 236.62,322.44 249.56,398.08 262.50,436.52 275.44,455.82 288.38,450.08 301.32,463.64" fill="none" stroke="#000" stroke-width="1.4" stroke-linejoin="round"/>
<polyline points="94.28,439.12 107.22,443.82 120.16,450.43 133.10,450.25 146.04,454.25 158.98,459.99 171.92,424.34 184.86,370.26 197.80,323.48 210.74,323.48 223.68,287.48 236.62,338.44 249.56,384.69 262.50,427.82 275.44,433.04 288.38,428.17 301.32,439.82" fill="none" stroke="#000" stroke-width="1.4" stroke-linejoin="round"/>
<rect x="91.23" y="436.94" width="6.10" height="6.10" fill="#000" stroke="none"/>
<rect x="104.17" y="419.03" width="6.10" height="6.10" fill="#000" stroke="none"/>
<rect x="117.11" y="447.90" width="6.10" height="6.10" fill="#000" stroke="none"/>
<rect x="130.05" y="447.38" width="6.10" height="6.10" fill="#000" stroke="none"/>
<rect x="142.99" y="450.86" width="6.10" height="6.10" fill="#000" stroke="none"/>
<rect x="155.93" y="434.16" width="6.10" height="6.10" fill="#000" stroke="none"/>
<rect x="166.28" y="403.21" width="6.10" height="6.10" fill="#000" stroke="none"/>
<rect x="176.63" y="310.52" width="6.10" height="6.10" fill="#000" stroke="none"/>
<rect x="186.99" y="326.69" width="6.10" height="6.10" fill="#000" stroke="none"/>
<rect x="197.34" y="310.69" width="6.10" height="6.10" fill="#000" stroke="none"/>
<rect x="207.69" y="301.82" width="6.10" height="6.10" fill="#000" stroke="none"/>
<rect x="218.04" y="300.08" width="6.10" height="6.10" fill="#000" stroke="none"/>
<rect x="228.39" y="292.61" width="6.10" height="6.10" fill="#000" stroke="none"/>
<rect x="238.75" y="325.13" width="6.10" height="6.10" fill="#000" stroke="none"/>
<rect x="249.10" y="415.55" width="6.10" height="6.10" fill="#000" stroke="none"/>
<rect x="259.45" y="441.29" width="6.10" height="6.10" fill="#000" stroke="none"/>
<rect x="269.80" y="450.86" width="6.10" height="6.10" fill="#000" stroke="none"/>
<rect x="280.15" y="468.25" width="6.10" height="6.10" fill="#000" stroke="none"/>
<rect x="290.51" y="474.68" width="6.10" height="6.10" fill="#000" stroke="none"/>
<rect x="300.86" y="465.64" width="6.10" height="6.10" fill="#000" stroke="none"/>
<rect x="311.21" y="465.64" width="6.10" height="6.10" fill="#000" stroke="none"/>
<polygon points="94.28,418.70 98.58,411.30 89.98,411.30" fill="#000" stroke="none" stroke-linejoin="miter"/>
<polygon points="107.22,429.13 111.52,421.73 102.92,421.73" fill="#000" stroke="none" stroke-linejoin="miter"/>
<polygon points="120.16,422.52 124.46,415.12 115.86,415.12" fill="#000" stroke="none" stroke-linejoin="miter"/>
<polygon points="133.10,431.74 137.40,424.34 128.80,424.34" fill="#000" stroke="none" stroke-linejoin="miter"/>
<polygon points="146.04,439.56 150.34,432.16 141.74,432.16" fill="#000" stroke="none" stroke-linejoin="miter"/>
<polygon points="158.98,472.60 163.28,465.20 154.68,465.20" fill="#000" stroke="none" stroke-linejoin="miter"/>
<polygon points="171.92,422.35 176.22,414.95 167.62,414.95" fill="#000" stroke="none" stroke-linejoin="miter"/>
<polygon points="184.86,384.96 189.16,377.56 180.56,377.56" fill="#000" stroke="none" stroke-linejoin="miter"/>
<polygon points="197.80,331.40 202.10,324.00 193.50,324.00" fill="#000" stroke="none" stroke-linejoin="miter"/>
<polygon points="210.74,343.57 215.04,336.17 206.44,336.17" fill="#000" stroke="none" stroke-linejoin="miter"/>
<polygon points="223.68,305.31 227.98,297.91 219.38,297.91" fill="#000" stroke="none" stroke-linejoin="miter"/>
<polygon points="236.62,363.22 240.92,355.82 232.32,355.82" fill="#000" stroke="none" stroke-linejoin="miter"/>
<polygon points="249.56,414.87 253.86,407.47 245.26,407.47" fill="#000" stroke="none" stroke-linejoin="miter"/>
<polygon points="262.50,454.52 266.80,447.12 258.20,447.12" fill="#000" stroke="none" stroke-linejoin="miter"/>
<polygon points="275.44,458.35 279.74,450.95 271.14,450.95" fill="#000" stroke="none" stroke-linejoin="miter"/>
<polygon points="288.38,468.08 292.68,460.68 284.08,460.68" fill="#000" stroke="none" stroke-linejoin="miter"/>
<rect x="156.58" y="453.59" width="4.80" height="4.80" fill="#fff" stroke="#000" stroke-width="1.3"/>
<rect x="166.93" y="385.77" width="4.80" height="4.80" fill="#fff" stroke="#000" stroke-width="1.3"/>
<rect x="177.28" y="318.12" width="4.80" height="4.80" fill="#fff" stroke="#000" stroke-width="1.3"/>
<rect x="187.64" y="332.21" width="4.80" height="4.80" fill="#fff" stroke="#000" stroke-width="1.3"/>
<rect x="197.99" y="316.38" width="4.80" height="4.80" fill="#fff" stroke="#000" stroke-width="1.3"/>
<rect x="208.34" y="308.91" width="4.80" height="4.80" fill="#fff" stroke="#000" stroke-width="1.3"/>
<rect x="218.69" y="307.69" width="4.80" height="4.80" fill="#fff" stroke="#000" stroke-width="1.3"/>
<rect x="229.04" y="297.95" width="4.80" height="4.80" fill="#fff" stroke="#000" stroke-width="1.3"/>
<rect x="239.40" y="317.08" width="4.80" height="4.80" fill="#fff" stroke="#000" stroke-width="1.3"/>
<rect x="249.75" y="355.16" width="4.80" height="4.80" fill="#fff" stroke="#000" stroke-width="1.3"/>
<rect x="260.10" y="388.73" width="4.80" height="4.80" fill="#fff" stroke="#000" stroke-width="1.3"/>
<rect x="270.45" y="440.03" width="4.80" height="4.80" fill="#fff" stroke="#000" stroke-width="1.3"/>
<rect x="280.80" y="453.42" width="4.80" height="4.80" fill="#fff" stroke="#000" stroke-width="1.3"/>
<rect x="291.16" y="468.90" width="4.80" height="4.80" fill="#fff" stroke="#000" stroke-width="1.3"/>
<rect x="301.51" y="472.03" width="4.80" height="4.80" fill="#fff" stroke="#000" stroke-width="1.3"/>
<rect x="311.86" y="475.33" width="4.80" height="4.80" fill="#fff" stroke="#000" stroke-width="1.3"/>
<circle cx="158.98" cy="443.64" r="2.65" fill="#fff" stroke="#000" stroke-width="1.3"/>
<circle cx="169.33" cy="362.09" r="2.65" fill="#fff" stroke="#000" stroke-width="1.3"/>
<circle cx="179.68" cy="374.08" r="2.65" fill="#fff" stroke="#000" stroke-width="1.3"/>
<circle cx="190.04" cy="325.05" r="2.65" fill="#fff" stroke="#000" stroke-width="1.3"/>
<circle cx="200.39" cy="304.00" r="2.65" fill="#fff" stroke="#000" stroke-width="1.3"/>
<circle cx="210.74" cy="301.92" r="2.65" fill="#fff" stroke="#000" stroke-width="1.3"/>
<circle cx="221.09" cy="314.79" r="2.65" fill="#fff" stroke="#000" stroke-width="1.3"/>
<circle cx="231.44" cy="309.57" r="2.65" fill="#fff" stroke="#000" stroke-width="1.3"/>
<circle cx="241.80" cy="311.31" r="2.65" fill="#fff" stroke="#000" stroke-width="1.3"/>
<circle cx="252.15" cy="327.48" r="2.65" fill="#fff" stroke="#000" stroke-width="1.3"/>
<circle cx="262.50" cy="425.73" r="2.65" fill="#fff" stroke="#000" stroke-width="1.3"/>
<circle cx="272.85" cy="428.86" r="2.65" fill="#fff" stroke="#000" stroke-width="1.3"/>
<circle cx="283.20" cy="444.34" r="2.65" fill="#fff" stroke="#000" stroke-width="1.3"/>
<circle cx="293.56" cy="455.12" r="2.65" fill="#fff" stroke="#000" stroke-width="1.3"/>
<circle cx="303.91" cy="460.34" r="2.65" fill="#fff" stroke="#000" stroke-width="1.3"/>
<circle cx="314.26" cy="445.04" r="2.65" fill="#fff" stroke="#000" stroke-width="1.3"/>
<circle cx="94.28" cy="448.34" r="3.50" fill="#000" stroke="none"/>
<circle cx="107.22" cy="449.04" r="3.50" fill="#000" stroke="none"/>
<circle cx="120.16" cy="450.95" r="3.50" fill="#000" stroke="none"/>
<circle cx="133.10" cy="460.17" r="3.50" fill="#000" stroke="none"/>
<circle cx="146.04" cy="463.47" r="3.50" fill="#000" stroke="none"/>
<circle cx="158.98" cy="460.17" r="3.50" fill="#000" stroke="none"/>
<circle cx="171.92" cy="438.43" r="3.50" fill="#000" stroke="none"/>
<circle cx="184.86" cy="393.39" r="3.50" fill="#000" stroke="none"/>
<circle cx="197.80" cy="338.78" r="3.50" fill="#000" stroke="none"/>
<circle cx="210.74" cy="337.39" r="3.50" fill="#000" stroke="none"/>
<circle cx="223.68" cy="323.48" r="3.50" fill="#000" stroke="none"/>
<circle cx="236.62" cy="322.44" r="3.50" fill="#000" stroke="none"/>
<circle cx="249.56" cy="398.08" r="3.50" fill="#000" stroke="none"/>
<circle cx="262.50" cy="436.52" r="3.50" fill="#000" stroke="none"/>
<circle cx="275.44" cy="455.82" r="3.50" fill="#000" stroke="none"/>
<circle cx="288.38" cy="450.08" r="3.50" fill="#000" stroke="none"/>
<circle cx="301.32" cy="463.64" r="3.50" fill="#000" stroke="none"/>
<polygon points="94.28,434.68 98.58,442.08 89.98,442.08" fill="#000" stroke="none" stroke-linejoin="miter"/>
<polygon points="107.22,439.38 111.52,446.78 102.92,446.78" fill="#000" stroke="none" stroke-linejoin="miter"/>
<polygon points="120.16,445.99 124.46,453.39 115.86,453.39" fill="#000" stroke="none" stroke-linejoin="miter"/>
<polygon points="133.10,445.81 137.40,453.21 128.80,453.21" fill="#000" stroke="none" stroke-linejoin="miter"/>
<polygon points="146.04,449.81 150.34,457.21 141.74,457.21" fill="#000" stroke="none" stroke-linejoin="miter"/>
<polygon points="158.98,455.55 163.28,462.95 154.68,462.95" fill="#000" stroke="none" stroke-linejoin="miter"/>
<polygon points="171.92,419.90 176.22,427.30 167.62,427.30" fill="#000" stroke="none" stroke-linejoin="miter"/>
<polygon points="184.86,365.82 189.16,373.22 180.56,373.22" fill="#000" stroke="none" stroke-linejoin="miter"/>
<polygon points="197.80,319.04 202.10,326.44 193.50,326.44" fill="#000" stroke="none" stroke-linejoin="miter"/>
<polygon points="210.74,319.04 215.04,326.44 206.44,326.44" fill="#000" stroke="none" stroke-linejoin="miter"/>
<polygon points="223.68,283.04 227.98,290.44 219.38,290.44" fill="#000" stroke="none" stroke-linejoin="miter"/>
<polygon points="236.62,334.00 240.92,341.40 232.32,341.40" fill="#000" stroke="none" stroke-linejoin="miter"/>
<polygon points="249.56,380.25 253.86,387.65 245.26,387.65" fill="#000" stroke="none" stroke-linejoin="miter"/>
<polygon points="262.50,423.38 266.80,430.78 258.20,430.78" fill="#000" stroke="none" stroke-linejoin="miter"/>
<polygon points="275.44,428.60 279.74,436.00 271.14,436.00" fill="#000" stroke="none" stroke-linejoin="miter"/>
<polygon points="288.38,423.73 292.68,431.13 284.08,431.13" fill="#000" stroke="none" stroke-linejoin="miter"/>
<polygon points="301.32,435.38 305.62,442.78 297.02,442.78" fill="#000" stroke="none" stroke-linejoin="miter"/>
<line x1="68.20" y1="291.30" x2="92.70" y2="291.30" stroke="#000" stroke-width="1.3"/>
<rect x="77.45" y="288.25" width="6.10" height="6.10" fill="#000" stroke="none"/>
<text transform="translate(96.80,294.80) scale(1,1.04)" font-size="14.8" text-anchor="start" >PLY</text>
<line x1="68.20" y1="306.55" x2="92.70" y2="306.55" stroke="#000" stroke-width="1.3"/>
<polygon points="80.50,310.99 84.80,303.59 76.20,303.59" fill="#000" stroke="none" stroke-linejoin="miter"/>
<path d="M 780 0 L 572 0 L 572 1140 Q 510 1080 406 1018 Q 302 958 215 925 L 215 1110 Q 366 1180 478 1280 Q 590 1380 636 1466 L 780 1466 Z" transform="translate(107.49,309.60) scale(0.00723,-0.00723)" fill="#000"/>
<text transform="translate(96.80,309.60) scale(1,1.04)" font-size="14.8" text-anchor="start" >R 47E</text>
<line x1="68.20" y1="321.80" x2="92.70" y2="321.80" stroke="#000" stroke-width="1.3"/>
<rect x="78.10" y="319.40" width="4.80" height="4.80" fill="#fff" stroke="#000" stroke-width="1.3"/>
<text transform="translate(96.80,324.40) scale(1,1.04)" font-size="14.8" text-anchor="start" >D205R</text>
<line x1="68.20" y1="337.05" x2="92.70" y2="337.05" stroke="#000" stroke-width="1.3"/>
<circle cx="80.50" cy="337.05" r="2.65" fill="#fff" stroke="#000" stroke-width="1.3"/>
<text transform="translate(96.80,339.20) scale(1,1.04)" font-size="14.8" text-anchor="start" >N339R</text>
<line x1="68.20" y1="352.30" x2="92.70" y2="352.30" stroke="#000" stroke-width="1.3"/>
<circle cx="80.50" cy="352.30" r="3.50" fill="#000" stroke="none"/>
<text transform="translate(96.80,354.00) scale(1,1.04)" font-size="14.8" text-anchor="start" >E434A</text>
<line x1="68.20" y1="367.55" x2="92.70" y2="367.55" stroke="#000" stroke-width="1.3"/>
<polygon points="80.50,363.11 84.80,370.51 76.20,370.51" fill="#000" stroke="none" stroke-linejoin="miter"/>
<text transform="translate(96.80,371.00) scale(1,1.04)" font-size="14.8" text-anchor="start" >E434A</text>
<path d="M 780 0 L 572 0 L 572 1140 Q 510 1080 406 1018 Q 302 958 215 925 L 215 1110 Q 366 1180 478 1280 Q 590 1380 636 1466 L 780 1466 Z" transform="translate(123.49,387.40) scale(0.00723,-0.00723)" fill="#000"/>
<text transform="translate(84.40,387.40) scale(1,1.04)" font-size="14.8" text-anchor="start" >+ Y46 A</text>
<line x1="399.20" y1="271.90" x2="399.20" y2="480.40" stroke="#000" stroke-width="1.35"/>
<line x1="398.50" y1="479.70" x2="682.00" y2="479.70" stroke="#000" stroke-width="1.35"/>
<line x1="394.20" y1="462.20" x2="399.20" y2="462.20" stroke="#000" stroke-width="1.2"/>
<line x1="394.20" y1="375.80" x2="399.20" y2="375.80" stroke="#000" stroke-width="1.2"/>
<line x1="394.20" y1="289.40" x2="399.20" y2="289.40" stroke="#000" stroke-width="1.2"/>
<line x1="396.20" y1="419.00" x2="399.20" y2="419.00" stroke="#000" stroke-width="1.2"/>
<line x1="396.20" y1="332.60" x2="399.20" y2="332.60" stroke="#000" stroke-width="1.2"/>
<line x1="442.50" y1="479.70" x2="442.50" y2="484.00" stroke="#000" stroke-width="1.2"/>
<line x1="551.30" y1="479.70" x2="551.30" y2="484.00" stroke="#000" stroke-width="1.2"/>
<line x1="660.10" y1="479.70" x2="660.10" y2="484.00" stroke="#000" stroke-width="1.2"/>
<line x1="496.90" y1="479.70" x2="496.90" y2="482.20" stroke="#000" stroke-width="1.2"/>
<line x1="605.70" y1="479.70" x2="605.70" y2="482.20" stroke="#000" stroke-width="1.2"/>
<text transform="translate(391.30,465.60) scale(1,1.04)" font-size="14.0" text-anchor="end" >0.0</text>
<text transform="translate(391.30,379.20) scale(1,1.04)" font-size="14.0" text-anchor="end" >0.5</text>
<path d="M 780 0 L 572 0 L 572 1140 Q 510 1080 406 1018 Q 302 958 215 925 L 215 1110 Q 366 1180 478 1280 Q 590 1380 636 1466 L 780 1466 Z" transform="translate(371.84,292.80) scale(0.00684,-0.00684)" fill="#000"/>
<text transform="translate(391.30,292.80) scale(1,1.04)" font-size="14.0" text-anchor="end" > .0</text>
<path d="M 780 0 L 572 0 L 572 1140 Q 510 1080 406 1018 Q 302 958 215 925 L 215 1110 Q 366 1180 478 1280 Q 590 1380 636 1466 L 780 1466 Z" transform="translate(433.40,500.20) scale(0.00684,-0.00684)" fill="#000"/>
<text transform="translate(433.40,500.20) scale(1,1.04)" font-size="14.0" text-anchor="start" > .0</text>
<path d="M 780 0 L 572 0 L 572 1140 Q 510 1080 406 1018 Q 302 958 215 925 L 215 1110 Q 366 1180 478 1280 Q 590 1380 636 1466 L 780 1466 Z" transform="translate(543.00,500.20) scale(0.00684,-0.00684)" fill="#000"/>
<text transform="translate(543.00,500.20) scale(1,1.04)" font-size="14.0" text-anchor="start" > .5</text>
<text transform="translate(651.00,500.20) scale(1,1.04)" font-size="14.0" text-anchor="start" >2.0</text>
<text transform="translate(545.60,515.80) scale(1,1.04)" font-size="14.8" text-anchor="middle" >[Gn-HCl]</text>
<text transform="translate(362.9,462.8) rotate(-90) scale(1,1.04)" font-size="14.75">Relative change in &#955;<tspan font-size="10.2" dy="4.0">em, max</tspan></text>
<text transform="translate(362.00,258.90) scale(1,1.04)" font-size="34.0" text-anchor="start" >D</text>
<polyline points="420.74,458.35 421.83,458.33 422.92,458.30 424.00,458.27 425.09,458.23 426.18,458.20 427.27,458.16 428.36,458.12 429.44,458.08 430.53,458.03 431.62,457.98 432.71,457.93 433.80,457.87 434.88,457.81 435.97,457.75 437.06,457.68 438.15,457.61 439.24,457.53 440.32,457.45 441.41,457.36 442.50,457.27 443.59,457.17 444.68,457.06 445.76,456.94 446.85,456.82 447.94,456.69 449.03,456.55 450.12,456.40 451.20,456.24 452.29,456.07 453.38,455.89 454.47,455.70 455.56,455.49 456.64,455.27 457.73,455.04 458.82,454.79 459.91,454.52 461.00,454.24 462.08,453.94 463.17,453.62 464.26,453.27 465.35,452.91 466.44,452.52 467.52,452.11 468.61,451.67 469.70,451.21 470.79,450.71 471.88,450.19 472.96,449.63 474.05,449.04 475.14,448.41 476.23,447.74 477.32,447.04 478.40,446.29 479.49,445.50 480.58,444.66 481.67,443.77 482.76,442.84 483.84,441.85 484.93,440.81 486.02,439.71 487.11,438.56 488.20,437.34 489.28,436.06 490.37,434.72 491.46,433.32 492.55,431.84 493.64,430.30 494.72,428.68 495.81,427.00 496.90,425.25 497.99,423.42 499.08,421.52 500.16,419.55 501.25,417.50 502.34,415.39 503.43,413.20 504.52,410.95 505.60,408.63 506.69,406.24 507.78,403.80 508.87,401.30 509.96,398.74 511.04,396.13 512.13,393.48 513.22,390.78 514.31,388.05 515.40,385.30 516.48,382.51 517.57,379.71 518.66,376.89 519.75,374.07 520.84,371.25 521.92,368.44 523.01,365.63 524.10,362.85 525.19,360.09 526.28,357.36 527.36,354.67 528.45,352.01 529.54,349.41 530.63,346.85 531.72,344.35 532.80,341.90 533.89,339.52 534.98,337.20 536.07,334.94 537.16,332.76 538.24,330.64 539.33,328.60 540.42,326.63 541.51,324.73 542.60,322.90 543.68,321.14 544.77,319.46 545.86,317.85 546.95,316.30 548.04,314.83 549.12,313.42 550.21,312.08 551.30,310.80 552.39,309.59 553.48,308.43 554.56,307.33 555.65,306.29 556.74,305.31 557.83,304.37 558.92,303.48 560.00,302.65 561.09,301.86 562.18,301.11 563.27,300.40 564.36,299.74 565.44,299.11 566.53,298.52 567.62,297.96 568.71,297.43 569.80,296.94 570.88,296.47 571.97,296.03 573.06,295.62 574.15,295.23 575.24,294.87 576.32,294.53 577.41,294.21 578.50,293.90 579.59,293.62 580.68,293.35 581.76,293.11 582.85,292.87 583.94,292.65 585.03,292.45 586.12,292.25 587.20,292.07 588.29,291.90 589.38,291.74 590.47,291.59 591.56,291.45 592.64,291.32 593.73,291.20 594.82,291.09 595.91,290.98 597.00,290.88 598.08,290.78 599.17,290.69 600.26,290.61 601.35,290.53 602.44,290.46 603.52,290.39 604.61,290.33 605.70,290.27 606.79,290.21 607.88,290.16 608.96,290.11 610.05,290.07 611.14,290.02 612.23,289.98 613.32,289.95 614.40,289.91 615.49,289.88 616.58,289.85 617.67,289.82 618.76,289.79 619.84,289.77 620.93,289.74 622.02,289.72 623.11,289.70 624.20,289.68 625.28,289.66 626.37,289.65 627.46,289.63 628.55,289.62 629.64,289.60 630.72,289.59 631.81,289.58 632.90,289.56 633.99,289.55 635.08,289.54 636.16,289.54 637.25,289.53 638.34,289.52 639.43,289.51 640.52,289.50 641.60,289.50 642.69,289.49" fill="none" stroke="#000" stroke-width="1.45" stroke-linejoin="round"/>
<polyline points="420.74,458.38 421.83,458.35 422.92,458.33 424.00,458.30 425.09,458.27 426.18,458.23 427.27,458.20 428.36,458.16 429.44,458.12 430.53,458.08 431.62,458.03 432.71,457.98 433.80,457.93 434.88,457.88 435.97,457.82 437.06,457.75 438.15,457.69 439.24,457.61 440.32,457.54 441.41,457.45 442.50,457.36 443.59,457.27 444.68,457.17 445.76,457.06 446.85,456.95 447.94,456.83 449.03,456.69 450.12,456.55 451.20,456.41 452.29,456.25 453.38,456.08 454.47,455.90 455.56,455.70 456.64,455.50 457.73,455.28 458.82,455.05 459.91,454.80 461.00,454.53 462.08,454.25 463.17,453.95 464.26,453.63 465.35,453.29 466.44,452.92 467.52,452.54 468.61,452.13 469.70,451.69 470.79,451.22 471.88,450.73 472.96,450.20 474.05,449.65 475.14,449.06 476.23,448.43 477.32,447.76 478.40,447.06 479.49,446.31 480.58,445.52 481.67,444.69 482.76,443.80 483.84,442.87 484.93,441.89 486.02,440.85 487.11,439.75 488.20,438.60 489.28,437.39 490.37,436.11 491.46,434.77 492.55,433.37 493.64,431.90 494.72,430.36 495.81,428.75 496.90,427.07 497.99,425.31 499.08,423.49 500.16,421.59 501.25,419.63 502.34,417.59 503.43,415.47 504.52,413.29 505.60,411.04 506.69,408.73 507.78,406.35 508.87,403.91 509.96,401.41 511.04,398.86 512.13,396.26 513.22,393.61 514.31,390.92 515.40,388.20 516.48,385.45 517.57,382.67 518.66,379.87 519.75,377.06 520.84,374.24 521.92,371.43 523.01,368.62 524.10,365.82 525.19,363.04 526.28,360.29 527.36,357.57 528.45,354.88 529.54,352.23 530.63,349.63 531.72,347.08 532.80,344.58 533.89,342.14 534.98,339.76 536.07,337.45 537.16,335.20 538.24,333.02 539.33,330.90 540.42,328.86 541.51,326.90 542.60,325.00 543.68,323.18 544.77,321.42 545.86,319.74 546.95,318.13 548.04,316.59 549.12,315.12 550.21,313.72 551.30,312.38 552.39,311.10 553.48,309.89 554.56,308.74 555.65,307.64 556.74,306.60 557.83,305.62 558.92,304.69 560.00,303.80 561.09,302.97 562.18,302.18 563.27,301.43 564.36,300.73 565.44,300.06 566.53,299.43 567.62,298.84 568.71,298.29 569.80,297.76 570.88,297.27 571.97,296.80 573.06,296.36 574.15,295.95 575.24,295.57 576.32,295.20 577.41,294.86 578.50,294.54 579.59,294.24 580.68,293.96 581.76,293.69 582.85,293.44 583.94,293.21 585.03,292.99 586.12,292.79 587.20,292.59 588.29,292.41 589.38,292.24 590.47,292.08 591.56,291.93 592.64,291.80 593.73,291.66 594.82,291.54 595.91,291.43 597.00,291.32 598.08,291.22 599.17,291.13 600.26,291.04 601.35,290.95 602.44,290.88 603.52,290.80 604.61,290.74 605.70,290.67 606.79,290.61 607.88,290.56 608.96,290.51 610.05,290.46 611.14,290.41 612.23,290.37 613.32,290.33 614.40,290.29 615.49,290.26 616.58,290.22 617.67,290.19 618.76,290.16 619.84,290.14 620.93,290.11 622.02,290.09 623.11,290.07 624.20,290.05 625.28,290.03 626.37,290.01 627.46,289.99 628.55,289.98 629.64,289.96 630.72,289.95 631.81,289.93 632.90,289.92 633.99,289.91 635.08,289.90 636.16,289.89 637.25,289.88 638.34,289.87 639.43,289.86 640.52,289.86 641.60,289.85 642.69,289.84" fill="none" stroke="#000" stroke-width="1.45" stroke-linejoin="round"/>
<polyline points="420.74,462.14 421.83,462.13 422.92,462.12 424.00,462.12 425.09,462.11 426.18,462.10 427.27,462.09 428.36,462.08 429.44,462.07 430.53,462.06 431.62,462.05 432.71,462.04 433.80,462.03 434.88,462.01 435.97,461.99 437.06,461.98 438.15,461.96 439.24,461.93 440.32,461.91 441.41,461.89 442.50,461.86 443.59,461.83 444.68,461.80 445.76,461.76 446.85,461.73 447.94,461.68 449.03,461.64 450.12,461.59 451.20,461.54 452.29,461.48 453.38,461.42 454.47,461.35 455.56,461.28 456.64,461.20 457.73,461.11 458.82,461.02 459.91,460.92 461.00,460.81 462.08,460.69 463.17,460.55 464.26,460.41 465.35,460.26 466.44,460.09 467.52,459.91 468.61,459.72 469.70,459.50 470.79,459.27 471.88,459.02 472.96,458.75 474.05,458.46 475.14,458.14 476.23,457.80 477.32,457.43 478.40,457.02 479.49,456.59 480.58,456.12 481.67,455.61 482.76,455.06 483.84,454.46 484.93,453.82 486.02,453.13 487.11,452.39 488.20,451.59 489.28,450.73 490.37,449.80 491.46,448.80 492.55,447.73 493.64,446.59 494.72,445.36 495.81,444.05 496.90,442.65 497.99,441.15 499.08,439.55 500.16,437.86 501.25,436.05 502.34,434.14 503.43,432.12 504.52,429.98 505.60,427.73 506.69,425.36 507.78,422.87 508.87,420.26 509.96,417.54 511.04,414.70 512.13,411.76 513.22,408.70 514.31,405.54 515.40,402.29 516.48,398.95 517.57,395.53 518.66,392.03 519.75,388.48 520.84,384.88 521.92,381.24 523.01,377.58 524.10,373.90 525.19,370.22 526.28,366.56 527.36,362.92 528.45,359.32 529.54,355.76 530.63,352.27 531.72,348.85 532.80,345.51 533.89,342.26 534.98,339.10 536.07,336.04 537.16,333.09 538.24,330.26 539.33,327.53 540.42,324.93 541.51,322.44 542.60,320.07 543.68,317.82 544.77,315.68 545.86,313.65 546.95,311.74 548.04,309.94 549.12,308.24 550.21,306.65 551.30,305.15 552.39,303.75 553.48,302.44 554.56,301.21 555.65,300.06 556.74,299.00 557.83,298.00 558.92,297.07 560.00,296.21 561.09,295.41 562.18,294.66 563.27,293.97 564.36,293.33 565.44,292.74 566.53,292.19 567.62,291.68 568.71,291.21 569.80,290.77 570.88,290.37 571.97,290.00 573.06,289.66 574.15,289.34 575.24,289.05 576.32,288.77 577.41,288.53 578.50,288.29 579.59,288.08 580.68,287.89 581.76,287.71 582.85,287.54 583.94,287.39 585.03,287.24 586.12,287.11 587.20,286.99 588.29,286.88 589.38,286.78 590.47,286.69 591.56,286.60 592.64,286.52 593.73,286.45 594.82,286.38 595.91,286.32 597.00,286.26 598.08,286.21 599.17,286.16 600.26,286.11 601.35,286.07 602.44,286.04 603.52,286.00 604.61,285.97 605.70,285.94 606.79,285.91 607.88,285.89 608.96,285.86 610.05,285.84 611.14,285.82 612.23,285.80 613.32,285.79 614.40,285.77 615.49,285.76 616.58,285.75 617.67,285.73 618.76,285.72 619.84,285.71 620.93,285.70 622.02,285.70 623.11,285.69 624.20,285.68 625.28,285.67 626.37,285.67 627.46,285.66 628.55,285.66 629.64,285.65 630.72,285.65 631.81,285.64 632.90,285.64 633.99,285.64 635.08,285.63 636.16,285.63 637.25,285.63 638.34,285.63 639.43,285.62 640.52,285.62 641.60,285.62 642.69,285.62" fill="none" stroke="#000" stroke-width="1.45" stroke-linejoin="round"/>
<polyline points="420.74,462.09 421.83,462.08 422.92,462.07 424.00,462.06 425.09,462.05 426.18,462.04 427.27,462.03 428.36,462.01 429.44,462.00 430.53,461.98 431.62,461.97 432.71,461.95 433.80,461.93 434.88,461.91 435.97,461.88 437.06,461.86 438.15,461.83 439.24,461.80 440.32,461.77 441.41,461.73 442.50,461.70 443.59,461.66 444.68,461.61 445.76,461.57 446.85,461.52 447.94,461.46 449.03,461.40 450.12,461.34 451.20,461.27 452.29,461.20 453.38,461.12 454.47,461.03 455.56,460.94 456.64,460.84 457.73,460.73 458.82,460.61 459.91,460.49 461.00,460.35 462.08,460.21 463.17,460.05 464.26,459.88 465.35,459.70 466.44,459.50 467.52,459.29 468.61,459.06 469.70,458.81 470.79,458.55 471.88,458.26 472.96,457.96 474.05,457.63 475.14,457.27 476.23,456.89 477.32,456.48 478.40,456.04 479.49,455.56 480.58,455.05 481.67,454.51 482.76,453.92 483.84,453.29 484.93,452.62 486.02,451.90 487.11,451.13 488.20,450.31 489.28,449.42 490.37,448.48 491.46,447.48 492.55,446.41 493.64,445.27 494.72,444.05 495.81,442.76 496.90,441.40 497.99,439.94 499.08,438.41 500.16,436.78 501.25,435.07 502.34,433.26 503.43,431.35 504.52,429.35 505.60,427.25 506.69,425.05 507.78,422.75 508.87,420.35 509.96,417.85 511.04,415.26 512.13,412.58 513.22,409.80 514.31,406.94 515.40,403.99 516.48,400.97 517.57,397.88 518.66,394.72 519.75,391.51 520.84,388.26 521.92,384.96 523.01,381.64 524.10,378.29 525.19,374.94 526.28,371.58 527.36,368.24 528.45,364.91 529.54,361.62 530.63,358.36 531.72,355.15 532.80,351.99 533.89,348.90 534.98,345.88 536.07,342.94 537.16,340.07 538.24,337.30 539.33,334.61 540.42,332.02 541.51,329.52 542.60,327.12 543.68,324.82 544.77,322.62 545.86,320.52 546.95,318.52 548.04,316.62 549.12,314.81 550.21,313.09 551.30,311.46 552.39,309.93 553.48,308.48 554.56,307.11 555.65,305.82 556.74,304.60 557.83,303.46 558.92,302.39 560.00,301.39 561.09,300.45 562.18,299.57 563.27,298.74 564.36,297.97 565.44,297.25 566.53,296.58 567.62,295.95 568.71,295.36 569.80,294.82 570.88,294.31 571.97,293.83 573.06,293.39 574.15,292.98 575.24,292.60 576.32,292.24 577.41,291.91 578.50,291.61 579.59,291.32 580.68,291.06 581.76,290.81 582.85,290.58 583.94,290.37 585.03,290.17 586.12,289.99 587.20,289.82 588.29,289.66 589.38,289.52 590.47,289.38 591.56,289.26 592.64,289.14 593.73,289.03 594.82,288.93 595.91,288.84 597.00,288.75 598.08,288.67 599.17,288.60 600.26,288.53 601.35,288.47 602.44,288.41 603.52,288.36 604.61,288.31 605.70,288.26 606.79,288.22 607.88,288.18 608.96,288.14 610.05,288.10 611.14,288.07 612.23,288.04 613.32,288.01 614.40,287.99 615.49,287.97 616.58,287.94 617.67,287.92 618.76,287.91 619.84,287.89 620.93,287.87 622.02,287.86 623.11,287.84 624.20,287.83 625.28,287.82 626.37,287.81 627.46,287.80 628.55,287.79 629.64,287.78 630.72,287.77 631.81,287.76 632.90,287.76 633.99,287.75 635.08,287.75 636.16,287.74 637.25,287.74 638.34,287.73 639.43,287.73 640.52,287.72 641.60,287.72 642.69,287.72" fill="none" stroke="#000" stroke-width="1.45" stroke-linejoin="round"/>
<polyline points="420.74,462.10 421.83,462.10 422.92,462.09 424.00,462.08 425.09,462.07 426.18,462.06 427.27,462.05 428.36,462.04 429.44,462.03 430.53,462.02 431.62,462.01 432.71,461.99 433.80,461.98 434.88,461.96 435.97,461.94 437.06,461.92 438.15,461.90 439.24,461.88 440.32,461.86 441.41,461.83 442.50,461.80 443.59,461.77 444.68,461.74 445.76,461.71 446.85,461.67 447.94,461.63 449.03,461.59 450.12,461.55 451.20,461.50 452.29,461.45 453.38,461.39 454.47,461.33 455.56,461.27 456.64,461.20 457.73,461.13 458.82,461.05 459.91,460.96 461.00,460.87 462.08,460.78 463.17,460.67 464.26,460.56 465.35,460.44 466.44,460.31 467.52,460.17 468.61,460.02 469.70,459.86 470.79,459.69 471.88,459.51 472.96,459.31 474.05,459.10 475.14,458.88 476.23,458.64 477.32,458.38 478.40,458.11 479.49,457.81 480.58,457.49 481.67,457.16 482.76,456.79 483.84,456.41 484.93,455.99 486.02,455.55 487.11,455.08 488.20,454.58 489.28,454.04 490.37,453.46 491.46,452.85 492.55,452.20 493.64,451.51 494.72,450.77 495.81,449.98 496.90,449.14 497.99,448.26 499.08,447.31 500.16,446.31 501.25,445.25 502.34,444.13 503.43,442.94 504.52,441.68 505.60,440.36 506.69,438.96 507.78,437.49 508.87,435.93 509.96,434.31 511.04,432.60 512.13,430.80 513.22,428.93 514.31,426.97 515.40,424.92 516.48,422.80 517.57,420.58 518.66,418.29 519.75,415.91 520.84,413.46 521.92,410.92 523.01,408.31 524.10,405.64 525.19,402.89 526.28,400.08 527.36,397.22 528.45,394.31 529.54,391.35 530.63,388.36 531.72,385.33 532.80,382.28 533.89,379.22 534.98,376.15 536.07,373.07 537.16,370.01 538.24,366.96 539.33,363.94 540.42,360.94 541.51,357.98 542.60,355.07 543.68,352.21 544.77,349.40 545.86,346.66 546.95,343.98 548.04,341.37 549.12,338.83 550.21,336.38 551.30,334.00 552.39,331.71 553.48,329.49 554.56,327.37 555.65,325.32 556.74,323.36 557.83,321.49 558.92,319.70 560.00,317.99 561.09,316.36 562.18,314.81 563.27,313.33 564.36,311.93 565.44,310.61 566.53,309.35 567.62,308.16 568.71,307.04 569.80,305.98 570.88,304.98 571.97,304.04 573.06,303.15 574.15,302.31 575.24,301.52 576.32,300.79 577.41,300.09 578.50,299.44 579.59,298.83 580.68,298.25 581.76,297.72 582.85,297.21 583.94,296.74 585.03,296.30 586.12,295.88 587.20,295.50 588.29,295.14 589.38,294.80 590.47,294.48 591.56,294.19 592.64,293.91 593.73,293.65 594.82,293.41 595.91,293.19 597.00,292.98 598.08,292.78 599.17,292.60 600.26,292.43 601.35,292.27 602.44,292.12 603.52,291.98 604.61,291.85 605.70,291.73 606.79,291.62 607.88,291.52 608.96,291.42 610.05,291.33 611.14,291.24 612.23,291.16 613.32,291.09 614.40,291.02 615.49,290.96 616.58,290.90 617.67,290.84 618.76,290.79 619.84,290.74 620.93,290.70 622.02,290.66 623.11,290.62 624.20,290.58 625.28,290.55 626.37,290.52 627.46,290.49 628.55,290.46 629.64,290.43 630.72,290.41 631.81,290.39 632.90,290.37 633.99,290.35 635.08,290.33 636.16,290.32 637.25,290.30 638.34,290.29 639.43,290.27 640.52,290.26 641.60,290.25 642.69,290.24 643.78,290.23 644.87,290.22 645.96,290.21 647.04,290.20 648.13,290.19 649.22,290.19 650.31,290.18 651.40,290.17 652.48,290.17 653.57,290.16 654.66,290.16 655.75,290.15 656.84,290.15 657.92,290.14 659.01,290.14 660.10,290.14" fill="none" stroke="#000" stroke-width="1.45" stroke-linejoin="round"/>
<polyline points="420.74,458.59 421.83,458.58 422.92,458.57 424.00,458.55 425.09,458.54 426.18,458.53 427.27,458.51 428.36,458.49 429.44,458.47 430.53,458.45 431.62,458.43 432.71,458.41 433.80,458.38 434.88,458.36 435.97,458.33 437.06,458.30 438.15,458.26 439.24,458.23 440.32,458.19 441.41,458.15 442.50,458.11 443.59,458.06 444.68,458.01 445.76,457.96 446.85,457.90 447.94,457.83 449.03,457.77 450.12,457.70 451.20,457.62 452.29,457.54 453.38,457.45 454.47,457.35 455.56,457.25 456.64,457.14 457.73,457.02 458.82,456.90 459.91,456.76 461.00,456.62 462.08,456.46 463.17,456.29 464.26,456.12 465.35,455.92 466.44,455.72 467.52,455.50 468.61,455.27 469.70,455.01 470.79,454.74 471.88,454.45 472.96,454.15 474.05,453.82 475.14,453.46 476.23,453.08 477.32,452.68 478.40,452.25 479.49,451.79 480.58,451.30 481.67,450.77 482.76,450.21 483.84,449.61 484.93,448.98 486.02,448.30 487.11,447.57 488.20,446.81 489.28,445.99 490.37,445.12 491.46,444.20 492.55,443.22 493.64,442.19 494.72,441.09 495.81,439.93 496.90,438.70 497.99,437.41 499.08,436.04 500.16,434.60 501.25,433.09 502.34,431.49 503.43,429.82 504.52,428.07 505.60,426.24 506.69,424.33 507.78,422.33 508.87,420.25 509.96,418.09 511.04,415.85 512.13,413.53 513.22,411.13 514.31,408.65 515.40,406.10 516.48,403.49 517.57,400.80 518.66,398.06 519.75,395.27 520.84,392.42 521.92,389.53 523.01,386.61 524.10,383.65 525.19,380.67 526.28,377.68 527.36,374.68 528.45,371.68 529.54,368.68 530.63,365.70 531.72,362.75 532.80,359.82 533.89,356.93 534.98,354.09 536.07,351.29 537.16,348.55 538.24,345.87 539.33,343.25 540.42,340.70 541.51,338.23 542.60,335.83 543.68,333.51 544.77,331.26 545.86,329.10 546.95,327.02 548.04,325.03 549.12,323.11 550.21,321.28 551.30,319.53 552.39,317.86 553.48,316.27 554.56,314.75 555.65,313.31 556.74,311.95 557.83,310.65 558.92,309.42 560.00,308.26 561.09,307.17 562.18,306.13 563.27,305.15 564.36,304.23 565.44,303.36 566.53,302.55 567.62,301.78 568.71,301.06 569.80,300.38 570.88,299.74 571.97,299.14 573.06,298.58 574.15,298.06 575.24,297.57 576.32,297.10 577.41,296.67 578.50,296.27 579.59,295.89 580.68,295.54 581.76,295.21 582.85,294.90 583.94,294.61 585.03,294.34 586.12,294.09 587.20,293.85 588.29,293.63 589.38,293.43 590.47,293.24 591.56,293.06 592.64,292.89 593.73,292.74 594.82,292.59 595.91,292.46 597.00,292.33 598.08,292.21 599.17,292.10 600.26,292.00 601.35,291.91 602.44,291.82 603.52,291.73 604.61,291.66 605.70,291.59 606.79,291.52 607.88,291.46 608.96,291.40 610.05,291.34 611.14,291.29 612.23,291.25 613.32,291.20 614.40,291.16 615.49,291.12 616.58,291.09 617.67,291.06 618.76,291.03 619.84,291.00 620.93,290.97 622.02,290.95 623.11,290.92 624.20,290.90 625.28,290.88 626.37,290.86 627.46,290.84 628.55,290.83 629.64,290.81 630.72,290.80 631.81,290.79 632.90,290.77 633.99,290.76 635.08,290.75 636.16,290.74 637.25,290.73 638.34,290.72 639.43,290.72 640.52,290.71 641.60,290.70 642.69,290.70" fill="none" stroke="#000" stroke-width="1.45" stroke-linejoin="round"/>
<rect x="417.84" y="455.84" width="5.80" height="5.80" fill="#000" stroke="none"/>
<rect x="439.60" y="457.57" width="5.80" height="5.80" fill="#000" stroke="none"/>
<rect x="461.36" y="454.12" width="5.80" height="5.80" fill="#000" stroke="none"/>
<rect x="483.12" y="436.84" width="5.80" height="5.80" fill="#000" stroke="none"/>
<rect x="504.88" y="398.13" width="5.80" height="5.80" fill="#000" stroke="none"/>
<rect x="526.64" y="345.42" width="5.80" height="5.80" fill="#000" stroke="none"/>
<rect x="548.40" y="311.73" width="5.80" height="5.80" fill="#000" stroke="none"/>
<rect x="570.16" y="300.32" width="5.80" height="5.80" fill="#000" stroke="none"/>
<rect x="591.92" y="289.09" width="5.80" height="5.80" fill="#000" stroke="none"/>
<rect x="613.68" y="288.23" width="5.80" height="5.80" fill="#000" stroke="none"/>
<rect x="635.44" y="286.50" width="5.80" height="5.80" fill="#000" stroke="none"/>
<rect x="657.20" y="281.32" width="5.80" height="5.80" fill="#000" stroke="none"/>
<polygon points="420.74,464.67 424.54,457.67 416.94,457.67" fill="#000" stroke="none" stroke-linejoin="miter"/>
<polygon points="442.50,465.54 446.30,458.54 438.70,458.54" fill="#000" stroke="none" stroke-linejoin="miter"/>
<polygon points="464.26,457.76 468.06,450.76 460.46,450.76" fill="#000" stroke="none" stroke-linejoin="miter"/>
<polygon points="486.02,445.66 489.82,438.66 482.22,438.66" fill="#000" stroke="none" stroke-linejoin="miter"/>
<polygon points="507.78,407.65 511.58,400.65 503.98,400.65" fill="#000" stroke="none" stroke-linejoin="miter"/>
<polygon points="529.54,358.05 533.34,351.05 525.74,351.05" fill="#000" stroke="none" stroke-linejoin="miter"/>
<polygon points="551.30,319.52 555.10,312.52 547.50,312.52" fill="#000" stroke="none" stroke-linejoin="miter"/>
<polygon points="573.06,310.88 576.86,303.88 569.26,303.88" fill="#000" stroke="none" stroke-linejoin="miter"/>
<polygon points="594.82,300.51 598.62,293.51 591.02,293.51" fill="#000" stroke="none" stroke-linejoin="miter"/>
<polygon points="616.58,298.78 620.38,291.78 612.78,291.78" fill="#000" stroke="none" stroke-linejoin="miter"/>
<polygon points="638.34,295.33 642.14,288.33 634.54,288.33" fill="#000" stroke="none" stroke-linejoin="miter"/>
<polygon points="660.10,286.69 663.90,279.69 656.30,279.69" fill="#000" stroke="none" stroke-linejoin="miter"/>
<rect x="418.06" y="466.78" width="5.35" height="5.35" fill="#fff" stroke="#000" stroke-width="1.25"/>
<rect x="439.82" y="466.78" width="5.35" height="5.35" fill="#fff" stroke="#000" stroke-width="1.25"/>
<rect x="461.58" y="452.61" width="5.35" height="5.35" fill="#fff" stroke="#000" stroke-width="1.25"/>
<rect x="483.34" y="437.06" width="5.35" height="5.35" fill="#fff" stroke="#000" stroke-width="1.25"/>
<rect x="505.10" y="419.95" width="5.35" height="5.35" fill="#fff" stroke="#000" stroke-width="1.25"/>
<rect x="526.87" y="360.51" width="5.35" height="5.35" fill="#fff" stroke="#000" stroke-width="1.25"/>
<rect x="548.62" y="314.37" width="5.35" height="5.35" fill="#fff" stroke="#000" stroke-width="1.25"/>
<rect x="570.38" y="289.49" width="5.35" height="5.35" fill="#fff" stroke="#000" stroke-width="1.25"/>
<rect x="592.14" y="297.09" width="5.35" height="5.35" fill="#fff" stroke="#000" stroke-width="1.25"/>
<rect x="613.91" y="290.18" width="5.35" height="5.35" fill="#fff" stroke="#000" stroke-width="1.25"/>
<rect x="635.66" y="283.27" width="5.35" height="5.35" fill="#fff" stroke="#000" stroke-width="1.25"/>
<rect x="657.43" y="279.81" width="5.35" height="5.35" fill="#fff" stroke="#000" stroke-width="1.25"/>
<circle cx="420.74" cy="473.26" r="2.98" fill="#fff" stroke="#000" stroke-width="1.25"/>
<circle cx="442.50" cy="452.35" r="2.98" fill="#fff" stroke="#000" stroke-width="1.25"/>
<circle cx="464.26" cy="451.83" r="2.98" fill="#fff" stroke="#000" stroke-width="1.25"/>
<circle cx="486.02" cy="444.92" r="2.98" fill="#fff" stroke="#000" stroke-width="1.25"/>
<circle cx="507.78" cy="426.78" r="2.98" fill="#fff" stroke="#000" stroke-width="1.25"/>
<circle cx="529.54" cy="363.19" r="2.98" fill="#fff" stroke="#000" stroke-width="1.25"/>
<circle cx="551.30" cy="317.05" r="2.98" fill="#fff" stroke="#000" stroke-width="1.25"/>
<circle cx="573.06" cy="304.95" r="2.98" fill="#fff" stroke="#000" stroke-width="1.25"/>
<circle cx="594.82" cy="281.28" r="2.98" fill="#fff" stroke="#000" stroke-width="1.25"/>
<circle cx="616.58" cy="292.86" r="2.98" fill="#fff" stroke="#000" stroke-width="1.25"/>
<circle cx="638.34" cy="292.86" r="2.98" fill="#fff" stroke="#000" stroke-width="1.25"/>
<circle cx="660.10" cy="282.49" r="2.98" fill="#fff" stroke="#000" stroke-width="1.25"/>
<circle cx="420.74" cy="462.20" r="3.30" fill="#000" stroke="none"/>
<circle cx="442.50" cy="458.74" r="3.30" fill="#000" stroke="none"/>
<circle cx="464.26" cy="455.29" r="3.30" fill="#000" stroke="none"/>
<circle cx="486.02" cy="451.83" r="3.30" fill="#000" stroke="none"/>
<circle cx="507.78" cy="439.74" r="3.30" fill="#000" stroke="none"/>
<circle cx="529.54" cy="391.18" r="3.30" fill="#000" stroke="none"/>
<circle cx="551.30" cy="328.11" r="3.30" fill="#000" stroke="none"/>
<circle cx="573.06" cy="307.37" r="3.30" fill="#000" stroke="none"/>
<circle cx="594.82" cy="296.31" r="3.30" fill="#000" stroke="none"/>
<circle cx="616.58" cy="295.79" r="3.30" fill="#000" stroke="none"/>
<circle cx="638.34" cy="294.58" r="3.30" fill="#000" stroke="none"/>
<circle cx="660.10" cy="280.76" r="3.30" fill="#000" stroke="none"/>
<polygon points="420.74,453.68 424.54,460.68 416.94,460.68" fill="#000" stroke="none" stroke-linejoin="miter"/>
<polygon points="442.50,456.27 446.30,463.27 438.70,463.27" fill="#000" stroke="none" stroke-linejoin="miter"/>
<polygon points="464.26,452.82 468.06,459.82 460.46,459.82" fill="#000" stroke="none" stroke-linejoin="miter"/>
<polygon points="486.02,449.36 489.82,456.36 482.22,456.36" fill="#000" stroke="none" stroke-linejoin="miter"/>
<polygon points="507.78,414.80 511.58,421.80 503.98,421.80" fill="#000" stroke="none" stroke-linejoin="miter"/>
<polygon points="529.54,358.99 533.34,365.99 525.74,365.99" fill="#000" stroke="none" stroke-linejoin="miter"/>
<polygon points="551.30,312.85 555.10,319.85 547.50,319.85" fill="#000" stroke="none" stroke-linejoin="miter"/>
<polygon points="573.06,300.75 576.86,307.75 569.26,307.75" fill="#000" stroke="none" stroke-linejoin="miter"/>
<polygon points="594.82,295.57 598.62,302.57 591.02,302.57" fill="#000" stroke="none" stroke-linejoin="miter"/>
<polygon points="616.58,288.66 620.38,295.66 612.78,295.66" fill="#000" stroke="none" stroke-linejoin="miter"/>
<polygon points="638.34,288.66 642.14,295.66 634.54,295.66" fill="#000" stroke="none" stroke-linejoin="miter"/>
<polygon points="660.10,278.29 663.90,285.29 656.30,285.29" fill="#000" stroke="none" stroke-linejoin="miter"/>
<rect x="550.90" y="362.10" width="5.80" height="5.80" fill="#000" stroke="none"/>
<text transform="translate(570.20,368.80) scale(1,1.04)" font-size="14.6" text-anchor="start" >PLY</text>
<polygon points="553.80,384.80 557.60,377.80 550.00,377.80" fill="#000" stroke="none" stroke-linejoin="miter"/>
<path d="M 780 0 L 572 0 L 572 1140 Q 510 1080 406 1018 Q 302 958 215 925 L 215 1110 Q 366 1180 478 1280 Q 590 1380 636 1466 L 780 1466 Z" transform="translate(580.74,384.40) scale(0.00713,-0.00713)" fill="#000"/>
<text transform="translate(570.20,384.40) scale(1,1.04)" font-size="14.6" text-anchor="start" >R 47E</text>
<rect x="551.12" y="392.82" width="5.35" height="5.35" fill="#fff" stroke="#000" stroke-width="1.25"/>
<text transform="translate(570.20,399.30) scale(1,1.04)" font-size="14.6" text-anchor="start" >D205R</text>
<circle cx="553.80" cy="409.90" r="2.98" fill="#fff" stroke="#000" stroke-width="1.25"/>
<text transform="translate(570.20,413.70) scale(1,1.04)" font-size="14.6" text-anchor="start" >N339R</text>
<circle cx="553.80" cy="424.20" r="3.30" fill="#000" stroke="none"/>
<text transform="translate(570.20,428.00) scale(1,1.04)" font-size="14.6" text-anchor="start" >E434A</text>
<polygon points="553.80,433.60 557.60,440.60 550.00,440.60" fill="#000" stroke="none" stroke-linejoin="miter"/>
<path d="M 780 0 L 572 0 L 572 1140 Q 510 1080 406 1018 Q 302 958 215 925 L 215 1110 Q 366 1180 478 1280 Q 590 1380 636 1466 L 780 1466 Z" transform="translate(656.65,441.60) scale(0.00713,-0.00713)" fill="#000"/>
<text transform="translate(570.20,441.60) scale(1,1.04)" font-size="14.6" text-anchor="start" >E434A + Y46 A</text>
<line x1="55.20" y1="526.60" x2="55.20" y2="735.10" stroke="#000" stroke-width="1.35"/>
<line x1="54.50" y1="734.40" x2="338.10" y2="734.40" stroke="#000" stroke-width="1.35"/>
<line x1="50.20" y1="717.10" x2="55.20" y2="717.10" stroke="#000" stroke-width="1.2"/>
<line x1="50.20" y1="630.45" x2="55.20" y2="630.45" stroke="#000" stroke-width="1.2"/>
<line x1="50.20" y1="543.80" x2="55.20" y2="543.80" stroke="#000" stroke-width="1.2"/>
<line x1="52.20" y1="673.77" x2="55.20" y2="673.77" stroke="#000" stroke-width="1.2"/>
<line x1="52.20" y1="587.12" x2="55.20" y2="587.12" stroke="#000" stroke-width="1.2"/>
<line x1="102.40" y1="734.40" x2="102.40" y2="738.20" stroke="#000" stroke-width="1.2"/>
<line x1="170.03" y1="734.40" x2="170.03" y2="738.20" stroke="#000" stroke-width="1.2"/>
<line x1="237.66" y1="734.40" x2="237.66" y2="738.20" stroke="#000" stroke-width="1.2"/>
<line x1="305.29" y1="734.40" x2="305.29" y2="738.20" stroke="#000" stroke-width="1.2"/>
<line x1="55.13" y1="734.40" x2="55.13" y2="736.60" stroke="#000" stroke-width="1.2"/>
<line x1="67.04" y1="734.40" x2="67.04" y2="736.60" stroke="#000" stroke-width="1.2"/>
<line x1="75.49" y1="734.40" x2="75.49" y2="736.60" stroke="#000" stroke-width="1.2"/>
<line x1="82.04" y1="734.40" x2="82.04" y2="736.60" stroke="#000" stroke-width="1.2"/>
<line x1="87.40" y1="734.40" x2="87.40" y2="736.60" stroke="#000" stroke-width="1.2"/>
<line x1="91.92" y1="734.40" x2="91.92" y2="736.60" stroke="#000" stroke-width="1.2"/>
<line x1="95.85" y1="734.40" x2="95.85" y2="736.60" stroke="#000" stroke-width="1.2"/>
<line x1="99.31" y1="734.40" x2="99.31" y2="736.60" stroke="#000" stroke-width="1.2"/>
<line x1="122.76" y1="734.40" x2="122.76" y2="736.60" stroke="#000" stroke-width="1.2"/>
<line x1="134.67" y1="734.40" x2="134.67" y2="736.60" stroke="#000" stroke-width="1.2"/>
<line x1="143.12" y1="734.40" x2="143.12" y2="736.60" stroke="#000" stroke-width="1.2"/>
<line x1="149.67" y1="734.40" x2="149.67" y2="736.60" stroke="#000" stroke-width="1.2"/>
<line x1="155.03" y1="734.40" x2="155.03" y2="736.60" stroke="#000" stroke-width="1.2"/>
<line x1="159.55" y1="734.40" x2="159.55" y2="736.60" stroke="#000" stroke-width="1.2"/>
<line x1="163.48" y1="734.40" x2="163.48" y2="736.60" stroke="#000" stroke-width="1.2"/>
<line x1="166.94" y1="734.40" x2="166.94" y2="736.60" stroke="#000" stroke-width="1.2"/>
<line x1="190.39" y1="734.40" x2="190.39" y2="736.60" stroke="#000" stroke-width="1.2"/>
<line x1="202.30" y1="734.40" x2="202.30" y2="736.60" stroke="#000" stroke-width="1.2"/>
<line x1="210.75" y1="734.40" x2="210.75" y2="736.60" stroke="#000" stroke-width="1.2"/>
<line x1="217.30" y1="734.40" x2="217.30" y2="736.60" stroke="#000" stroke-width="1.2"/>
<line x1="222.66" y1="734.40" x2="222.66" y2="736.60" stroke="#000" stroke-width="1.2"/>
<line x1="227.18" y1="734.40" x2="227.18" y2="736.60" stroke="#000" stroke-width="1.2"/>
<line x1="231.11" y1="734.40" x2="231.11" y2="736.60" stroke="#000" stroke-width="1.2"/>
<line x1="234.57" y1="734.40" x2="234.57" y2="736.60" stroke="#000" stroke-width="1.2"/>
<line x1="258.02" y1="734.40" x2="258.02" y2="736.60" stroke="#000" stroke-width="1.2"/>
<line x1="269.93" y1="734.40" x2="269.93" y2="736.60" stroke="#000" stroke-width="1.2"/>
<line x1="278.38" y1="734.40" x2="278.38" y2="736.60" stroke="#000" stroke-width="1.2"/>
<line x1="284.93" y1="734.40" x2="284.93" y2="736.60" stroke="#000" stroke-width="1.2"/>
<line x1="290.29" y1="734.40" x2="290.29" y2="736.60" stroke="#000" stroke-width="1.2"/>
<line x1="294.81" y1="734.40" x2="294.81" y2="736.60" stroke="#000" stroke-width="1.2"/>
<line x1="298.74" y1="734.40" x2="298.74" y2="736.60" stroke="#000" stroke-width="1.2"/>
<line x1="302.20" y1="734.40" x2="302.20" y2="736.60" stroke="#000" stroke-width="1.2"/>
<line x1="325.65" y1="734.40" x2="325.65" y2="736.60" stroke="#000" stroke-width="1.2"/>
<line x1="337.56" y1="734.40" x2="337.56" y2="736.60" stroke="#000" stroke-width="1.2"/>
<text transform="translate(47.60,720.70) scale(1,1.04)" font-size="14.8" text-anchor="end" >0.0</text>
<text transform="translate(47.60,634.05) scale(1,1.04)" font-size="14.8" text-anchor="end" >0.5</text>
<path d="M 780 0 L 572 0 L 572 1140 Q 510 1080 406 1018 Q 302 958 215 925 L 215 1110 Q 366 1180 478 1280 Q 590 1380 636 1466 L 780 1466 Z" transform="translate(27.03,547.40) scale(0.00723,-0.00723)" fill="#000"/>
<text transform="translate(47.60,547.40) scale(1,1.04)" font-size="14.8" text-anchor="end" > .0</text>
<path d="M 780 0 L 572 0 L 572 1140 Q 510 1080 406 1018 Q 302 958 215 925 L 215 1110 Q 366 1180 478 1280 Q 590 1380 636 1466 L 780 1466 Z" transform="translate(89.60,755.00) scale(0.00708,-0.00708)" fill="#000"/>
<text transform="translate(89.60,755.00) scale(1,1.04)" font-size="14.5"> 0<tspan font-size="8.2" dy="-6.73">-3</tspan></text>
<path d="M 780 0 L 572 0 L 572 1140 Q 510 1080 406 1018 Q 302 958 215 925 L 215 1110 Q 366 1180 478 1280 Q 590 1380 636 1466 L 780 1466 Z" transform="translate(178.16,755.00) scale(0.00708,-0.00708)" fill="#000"/>
<text transform="translate(158.00,755.00) scale(1,1.04)" font-size="14.5" text-anchor="start" >0.0 </text>
<path d="M 780 0 L 572 0 L 572 1140 Q 510 1080 406 1018 Q 302 958 215 925 L 215 1110 Q 366 1180 478 1280 Q 590 1380 636 1466 L 780 1466 Z" transform="translate(240.09,755.00) scale(0.00708,-0.00708)" fill="#000"/>
<text transform="translate(228.00,755.00) scale(1,1.04)" font-size="14.5" text-anchor="start" >0. </text>
<path d="M 780 0 L 572 0 L 572 1140 Q 510 1080 406 1018 Q 302 958 215 925 L 215 1110 Q 366 1180 478 1280 Q 590 1380 636 1466 L 780 1466 Z" transform="translate(301.20,755.00) scale(0.00708,-0.00708)" fill="#000"/>
<text transform="translate(301.20,755.00) scale(1,1.04)" font-size="14.5" text-anchor="start" > </text>
<text transform="translate(214.60,771.50) scale(1,1.04)" font-size="14.8" text-anchor="middle" >[Cholesterol] (&#956;M)</text>
<text transform="translate(17.1,634.8) rotate(-90) scale(1,1.04)" font-size="14.8" text-anchor="middle">Fraction of cells lysed</text>
<text transform="translate(2.00,527.40) scale(1,1.04)" font-size="32.8" text-anchor="start" >E</text>
<polyline points="81.00,544.49 81.50,544.51 82.00,544.53 82.50,544.55 83.00,544.57 83.51,544.58 84.01,544.60 84.51,544.62 85.01,544.64 85.51,544.65 86.01,544.67 86.51,544.69 87.01,544.71 87.51,544.72 88.02,544.74 88.52,544.76 89.02,544.77 89.52,544.79 90.02,544.81 90.52,544.82 91.02,544.84 91.52,544.86 92.02,544.87 92.53,544.89 93.03,544.90 93.53,544.92 94.03,544.94 94.53,544.95 95.03,544.97 95.53,544.98 96.03,545.00 96.53,545.01 97.04,545.03 97.54,545.04 98.04,545.06 98.54,545.07 99.04,545.09 99.54,545.10 100.04,545.11 100.54,545.13 101.04,545.14 101.55,545.16 102.05,545.17 102.55,545.18 103.05,545.20 103.55,545.21 104.05,545.22 104.55,545.23 105.05,545.25 105.55,545.26 106.06,545.27 106.56,545.28 107.06,545.29 107.56,545.31 108.06,545.32 108.56,545.33 109.06,545.34 109.56,545.35 110.06,545.36 110.57,545.37 111.07,545.38 111.57,545.39 112.07,545.40 112.57,545.41 113.07,545.42 113.57,545.42 114.07,545.43 114.57,545.44 115.08,545.45 115.58,545.45 116.08,545.46 116.58,545.47 117.08,545.47 117.58,545.48 118.08,545.48 118.58,545.49 119.08,545.50 119.59,545.50 120.09,545.51 120.59,545.51 121.09,545.52 121.59,545.52 122.09,545.53 122.59,545.53 123.09,545.54 123.59,545.54 124.10,545.55 124.60,545.55 125.10,545.56 125.60,545.56 126.10,545.57 126.60,545.57 127.10,545.58 127.60,545.58 128.10,545.59 128.61,545.59 129.11,545.60 129.61,545.61 130.11,545.61 130.61,545.62 131.11,545.63 131.61,545.63 132.11,545.64 132.61,545.65 133.12,545.66 133.62,545.67 134.12,545.67 134.62,545.68 135.12,545.69 135.62,545.70 136.12,545.72 136.62,545.73 137.12,545.74 137.63,545.75 138.13,545.76 138.63,545.78 139.13,545.79 139.63,545.80 140.13,545.82 140.63,545.83 141.13,545.85 141.63,545.87 142.14,545.88 142.64,545.91 143.14,545.95 143.64,546.00 144.14,546.06 144.64,546.13 145.14,546.21 145.64,546.30 146.14,546.40 146.65,546.51 147.15,546.62 147.65,546.75 148.15,546.89 148.65,547.03 149.15,547.18 149.65,547.34 150.15,547.51 150.65,547.69 151.16,547.87 151.66,548.05 152.16,548.25 152.66,548.45 153.16,548.66 153.66,548.87 154.16,549.09 154.66,549.31 155.16,549.54 155.67,549.77 156.17,550.05 156.67,550.37 157.17,550.73 157.67,551.14 158.17,551.58 158.67,552.06 159.17,552.56 159.67,553.10 160.18,553.66 160.68,554.24 161.18,554.85 161.68,555.46 162.18,556.09 162.68,556.73 163.18,557.42 163.68,558.18 164.18,559.01 164.69,559.88 165.19,560.79 165.69,561.74 166.19,562.70 166.69,563.68 167.19,564.65 167.69,565.62 168.19,566.59 168.69,567.58 169.20,568.59 169.70,569.62 170.20,570.67 170.70,571.72 171.20,572.80 171.70,573.88 172.20,574.97 172.70,576.07 173.20,577.18 173.71,578.27 174.21,579.36 174.71,580.45 175.21,581.54 175.71,582.65 176.21,583.79 176.71,584.95 177.21,586.16 177.71,587.41 178.22,588.71 178.72,590.08 179.22,591.52 179.72,593.07 180.22,594.73 180.72,596.46 181.22,598.26 181.72,600.11 182.22,601.99 182.73,603.89 183.23,605.79 183.73,607.68 184.23,609.57 184.73,611.49 185.23,613.43 185.73,615.40 186.23,617.40 186.73,619.43 187.24,621.48 187.74,623.56 188.24,625.66 188.74,627.79 189.24,629.95 189.74,632.15 190.24,634.37 190.74,636.63 191.24,638.94 191.75,641.28 192.25,643.68 192.75,646.16 193.25,648.76 193.75,651.42 194.25,654.11 194.75,656.80 195.25,659.46 195.76,662.04 196.26,664.51 196.76,666.91 197.26,669.27 197.76,671.58 198.26,673.86 198.76,676.10 199.26,678.32 199.76,680.50 200.27,682.65 200.77,684.80 201.27,687.03 201.77,689.31 202.27,691.59 202.77,693.84 203.27,695.99 203.77,698.02 204.27,699.86 204.78,701.48 205.28,702.83 205.78,703.98 206.28,705.06 206.78,706.07 207.28,707.01 207.78,707.89 208.28,708.72 208.78,709.49 209.29,710.20 209.79,710.87 210.29,711.50 210.79,712.08 211.29,712.63 211.79,713.17 212.29,713.71 212.79,714.24 213.29,714.73 213.80,715.19 214.30,715.59 214.80,715.93 215.30,716.19 215.80,716.36 216.30,716.46 216.80,716.53 217.30,716.61 217.80,716.68 218.31,716.74 218.81,716.80 219.31,716.85 219.81,716.90 220.31,716.95 220.81,716.99 221.31,717.02 221.81,717.05 222.31,717.07 222.82,717.08 223.32,717.09 223.82,717.10 224.32,717.10 224.82,717.10 225.32,717.10 225.82,717.10 226.32,717.10 226.82,717.10 227.33,717.10 227.83,717.10 228.33,717.10 228.83,717.10 229.33,717.10 229.83,717.10 230.33,717.10 230.83,717.10 231.33,717.10 231.84,717.10 232.34,717.10 232.84,717.10 233.34,717.10 233.84,717.10 234.34,717.10 234.84,717.10 235.34,717.10 235.84,717.10 236.35,717.10 236.85,717.10 237.35,717.10 237.85,717.10 238.35,717.10 238.85,717.10 239.35,717.10 239.85,717.10 240.35,717.10 240.86,717.10 241.36,717.10 241.86,717.10 242.36,717.10 242.86,717.10 243.36,717.10 243.86,717.10 244.36,717.10 244.86,717.10 245.37,717.10 245.87,717.10 246.37,717.10 246.87,717.10 247.37,717.10 247.87,717.10 248.37,717.10 248.87,717.10 249.37,717.10 249.88,717.10 250.38,717.10 250.88,717.10 251.38,717.10 251.88,717.10 252.38,717.10 252.88,717.10 253.38,717.10 253.88,717.10 254.39,717.10 254.89,717.10 255.39,717.10 255.89,717.10 256.39,717.10 256.89,717.10 257.39,717.10 257.89,717.10 258.39,717.10 258.90,717.10 259.40,717.10 259.90,717.10 260.40,717.10 260.90,717.10 261.40,717.10 261.90,717.10 262.40,717.10 262.90,717.10 263.41,717.10 263.91,717.10 264.41,717.10 264.91,717.10 265.41,717.10 265.91,717.10 266.41,717.10 266.91,717.10 267.41,717.10 267.92,717.10 268.42,717.10 268.92,717.10 269.42,717.10 269.92,717.10 270.42,717.10 270.92,717.10 271.42,717.10 271.92,717.10 272.43,717.10 272.93,717.10 273.43,717.10 273.93,717.10 274.43,717.10 274.93,717.10 275.43,717.10 275.93,717.10 276.43,717.10 276.94,717.10 277.44,717.10 277.94,717.10 278.44,717.10 278.94,717.10 279.44,717.10 279.94,717.10 280.44,717.10 280.94,717.10 281.45,717.10 281.95,717.10 282.45,717.10 282.95,717.10 283.45,717.10 283.95,717.10 284.45,717.10 284.95,717.10 285.45,717.10 285.96,717.10 286.46,717.10 286.96,717.10 287.46,717.10 287.96,717.10 288.46,717.10 288.96,717.10 289.46,717.10 289.96,717.10 290.47,717.10 290.97,717.10 291.47,717.10 291.97,717.10 292.47,717.10 292.97,717.10 293.47,717.10 293.97,717.10 294.47,717.10 294.98,717.10 295.48,717.10 295.98,717.10 296.48,717.10 296.98,717.10 297.48,717.10 297.98,717.10 298.48,717.10 298.98,717.10 299.49,717.10 299.99,717.10 300.49,717.10 300.99,717.10 301.49,717.10 301.99,717.10 302.49,717.10 302.99,717.10 303.49,717.10 304.00,717.10 304.50,717.10 305.00,717.10 305.50,717.10 306.00,717.10" fill="none" stroke="#000" stroke-width="1.45" stroke-linejoin="round"/>
<polyline points="81.00,546.75 81.50,546.77 82.00,546.79 82.50,546.81 83.00,546.84 83.51,546.86 84.01,546.88 84.51,546.91 85.01,546.93 85.51,546.95 86.01,546.97 86.51,547.00 87.01,547.02 87.51,547.04 88.02,547.07 88.52,547.09 89.02,547.11 89.52,547.14 90.02,547.16 90.52,547.18 91.02,547.21 91.52,547.23 92.02,547.25 92.53,547.28 93.03,547.30 93.53,547.33 94.03,547.35 94.53,547.37 95.03,547.40 95.53,547.42 96.03,547.45 96.53,547.47 97.04,547.49 97.54,547.52 98.04,547.54 98.54,547.57 99.04,547.59 99.54,547.61 100.04,547.64 100.54,547.66 101.04,547.69 101.55,547.71 102.05,547.74 102.55,547.76 103.05,547.79 103.55,547.81 104.05,547.84 104.55,547.86 105.05,547.89 105.55,547.91 106.06,547.93 106.56,547.96 107.06,547.98 107.56,548.01 108.06,548.03 108.56,548.06 109.06,548.09 109.56,548.11 110.06,548.14 110.57,548.16 111.07,548.18 111.57,548.21 112.07,548.23 112.57,548.25 113.07,548.28 113.57,548.30 114.07,548.32 114.57,548.34 115.08,548.36 115.58,548.38 116.08,548.40 116.58,548.42 117.08,548.44 117.58,548.46 118.08,548.48 118.58,548.50 119.08,548.51 119.59,548.53 120.09,548.55 120.59,548.57 121.09,548.59 121.59,548.61 122.09,548.63 122.59,548.65 123.09,548.66 123.59,548.68 124.10,548.70 124.60,548.72 125.10,548.74 125.60,548.76 126.10,548.78 126.60,548.81 127.10,548.83 127.60,548.85 128.10,548.87 128.61,548.89 129.11,548.92 129.61,548.94 130.11,548.97 130.61,548.99 131.11,549.02 131.61,549.05 132.11,549.07 132.61,549.10 133.12,549.13 133.62,549.16 134.12,549.19 134.62,549.23 135.12,549.26 135.62,549.29 136.12,549.33 136.62,549.36 137.12,549.40 137.63,549.44 138.13,549.48 138.63,549.52 139.13,549.56 139.63,549.60 140.13,549.65 140.63,549.69 141.13,549.74 141.63,549.79 142.14,549.84 142.64,549.89 143.14,549.95 143.64,550.03 144.14,550.11 144.64,550.20 145.14,550.31 145.64,550.42 146.14,550.55 146.65,550.68 147.15,550.82 147.65,550.97 148.15,551.12 148.65,551.29 149.15,551.46 149.65,551.64 150.15,551.82 150.65,552.01 151.16,552.21 151.66,552.41 152.16,552.62 152.66,552.83 153.16,553.05 153.66,553.27 154.16,553.50 154.66,553.74 155.16,554.01 155.67,554.29 156.17,554.59 156.67,554.92 157.17,555.26 157.67,555.63 158.17,556.03 158.67,556.45 159.17,556.89 159.67,557.37 160.18,557.87 160.68,558.40 161.18,558.98 161.68,559.68 162.18,560.49 162.68,561.38 163.18,562.35 163.68,563.39 164.18,564.48 164.69,565.61 165.19,566.77 165.69,568.07 166.19,569.51 166.69,571.05 167.19,572.65 167.69,574.29 168.19,575.92 168.69,577.52 169.20,579.05 169.70,580.49 170.20,581.89 170.70,583.28 171.20,584.69 171.70,586.17 172.20,587.76 172.70,589.49 173.20,591.41 173.71,593.61 174.21,596.06 174.71,598.69 175.21,601.44 175.71,604.26 176.21,607.08 176.71,609.93 177.21,612.90 177.71,615.96 178.22,619.06 178.72,622.15 179.22,625.19 179.72,628.14 180.22,631.05 180.72,633.94 181.22,636.86 181.72,639.86 182.22,642.97 182.73,646.29 183.23,649.85 183.73,653.53 184.23,657.17 184.73,660.66 185.23,663.84 185.73,666.73 186.23,669.50 186.73,672.15 187.24,674.70 187.74,677.14 188.24,679.47 188.74,681.70 189.24,683.82 189.74,685.89 190.24,687.95 190.74,689.96 191.24,691.93 191.75,693.83 192.25,695.65 192.75,697.37 193.25,698.99 193.75,700.47 194.25,701.82 194.75,703.01 195.25,704.10 195.76,705.15 196.26,706.14 196.76,707.09 197.26,707.98 197.76,708.82 198.26,709.60 198.76,710.33 199.26,711.00 199.76,711.62 200.27,712.18 200.77,712.69 201.27,713.19 201.77,713.68 202.27,714.15 202.77,714.59 203.27,715.01 203.77,715.39 204.27,715.72 204.78,715.99 205.28,716.21 205.78,716.36 206.28,716.45 206.78,716.53 207.28,716.60 207.78,716.67 208.28,716.73 208.78,716.79 209.29,716.85 209.79,716.90 210.29,716.94 210.79,716.98 211.29,717.01 211.79,717.04 212.29,717.07 212.79,717.08 213.29,717.09 213.80,717.10 214.30,717.10 214.80,717.10 215.30,717.10 215.80,717.10 216.30,717.10 216.80,717.10 217.30,717.10 217.80,717.10 218.31,717.10 218.81,717.10 219.31,717.10 219.81,717.10 220.31,717.10 220.81,717.10 221.31,717.10 221.81,717.10 222.31,717.10 222.82,717.10 223.32,717.10 223.82,717.10 224.32,717.10 224.82,717.10 225.32,717.10 225.82,717.10 226.32,717.10 226.82,717.10 227.33,717.10 227.83,717.10 228.33,717.10 228.83,717.10 229.33,717.10 229.83,717.10 230.33,717.10 230.83,717.10 231.33,717.10 231.84,717.10 232.34,717.10 232.84,717.10 233.34,717.10 233.84,717.10 234.34,717.10 234.84,717.10 235.34,717.10 235.84,717.10 236.35,717.10 236.85,717.10 237.35,717.10 237.85,717.10 238.35,717.10 238.85,717.10 239.35,717.10 239.85,717.10 240.35,717.10 240.86,717.10 241.36,717.10 241.86,717.10 242.36,717.10 242.86,717.10 243.36,717.10 243.86,717.10 244.36,717.10 244.86,717.10 245.37,717.10 245.87,717.10 246.37,717.10 246.87,717.10 247.37,717.10 247.87,717.10 248.37,717.10 248.87,717.10 249.37,717.10 249.88,717.10 250.38,717.10 250.88,717.10 251.38,717.10 251.88,717.10 252.38,717.10 252.88,717.10 253.38,717.10 253.88,717.10 254.39,717.10 254.89,717.10 255.39,717.10 255.89,717.10 256.39,717.10 256.89,717.10 257.39,717.10 257.89,717.10 258.39,717.10 258.90,717.10 259.40,717.10 259.90,717.10 260.40,717.10 260.90,717.10 261.40,717.10 261.90,717.10 262.40,717.10 262.90,717.10 263.41,717.10 263.91,717.10 264.41,717.10 264.91,717.10 265.41,717.10 265.91,717.10 266.41,717.10 266.91,717.10 267.41,717.10 267.92,717.10 268.42,717.10 268.92,717.10 269.42,717.10 269.92,717.10 270.42,717.10 270.92,717.10 271.42,717.10 271.92,717.10 272.43,717.10 272.93,717.10 273.43,717.10 273.93,717.10 274.43,717.10 274.93,717.10 275.43,717.10 275.93,717.10 276.43,717.10 276.94,717.10 277.44,717.10 277.94,717.10 278.44,717.10 278.94,717.10 279.44,717.10 279.94,717.10 280.44,717.10 280.94,717.10 281.45,717.10 281.95,717.10 282.45,717.10 282.95,717.10 283.45,717.10 283.95,717.10 284.45,717.10 284.95,717.10 285.45,717.10 285.96,717.10 286.46,717.10 286.96,717.10 287.46,717.10 287.96,717.10 288.46,717.10 288.96,717.10 289.46,717.10 289.96,717.10 290.47,717.10 290.97,717.10 291.47,717.10 291.97,717.10 292.47,717.10 292.97,717.10 293.47,717.10 293.97,717.10 294.47,717.10 294.98,717.10 295.48,717.10 295.98,717.10 296.48,717.10 296.98,717.10 297.48,717.10 297.98,717.10 298.48,717.10 298.98,717.10 299.49,717.10 299.99,717.10 300.49,717.10 300.99,717.10 301.49,717.10 301.99,717.10 302.49,717.10 302.99,717.10 303.49,717.10 304.00,717.10 304.50,717.10 305.00,717.10 305.50,717.10 306.00,717.10" fill="none" stroke="#000" stroke-width="1.45" stroke-linejoin="round"/>
<polyline points="81.00,552.47 81.50,552.48 82.00,552.49 82.50,552.51 83.00,552.52 83.51,552.54 84.01,552.56 84.51,552.58 85.01,552.60 85.51,552.63 86.01,552.65 86.51,552.68 87.01,552.70 87.51,552.73 88.02,552.76 88.52,552.79 89.02,552.83 89.52,552.86 90.02,552.89 90.52,552.93 91.02,552.97 91.52,553.00 92.02,553.04 92.53,553.08 93.03,553.12 93.53,553.16 94.03,553.20 94.53,553.25 95.03,553.29 95.53,553.34 96.03,553.38 96.53,553.43 97.04,553.48 97.54,553.52 98.04,553.57 98.54,553.62 99.04,553.67 99.54,553.72 100.04,553.78 100.54,553.83 101.04,553.88 101.55,553.93 102.05,553.99 102.55,554.04 103.05,554.10 103.55,554.15 104.05,554.21 104.55,554.26 105.05,554.32 105.55,554.38 106.06,554.43 106.56,554.49 107.06,554.55 107.56,554.61 108.06,554.66 108.56,554.72 109.06,554.78 109.56,554.84 110.06,554.90 110.57,554.96 111.07,555.02 111.57,555.09 112.07,555.16 112.57,555.23 113.07,555.30 113.57,555.37 114.07,555.45 114.57,555.53 115.08,555.61 115.58,555.69 116.08,555.78 116.58,555.86 117.08,555.95 117.58,556.04 118.08,556.13 118.58,556.23 119.08,556.32 119.59,556.42 120.09,556.52 120.59,556.62 121.09,556.72 121.59,556.82 122.09,556.93 122.59,557.04 123.09,557.14 123.59,557.25 124.10,557.36 124.60,557.48 125.10,557.59 125.60,557.71 126.10,557.83 126.60,557.95 127.10,558.08 127.60,558.21 128.10,558.34 128.61,558.47 129.11,558.61 129.61,558.75 130.11,558.89 130.61,559.04 131.11,559.19 131.61,559.34 132.11,559.50 132.61,559.66 133.12,559.83 133.62,559.99 134.12,560.16 134.62,560.34 135.12,560.52 135.62,560.70 136.12,560.89 136.62,561.08 137.12,561.28 137.63,561.48 138.13,561.69 138.63,561.91 139.13,562.14 139.63,562.37 140.13,562.61 140.63,562.85 141.13,563.11 141.63,563.37 142.14,563.64 142.64,563.91 143.14,564.20 143.64,564.49 144.14,564.79 144.64,565.10 145.14,565.42 145.64,565.75 146.14,566.09 146.65,566.44 147.15,566.79 147.65,567.16 148.15,567.54 148.65,567.94 149.15,568.37 149.65,568.82 150.15,569.29 150.65,569.78 151.16,570.29 151.66,570.82 152.16,571.37 152.66,571.94 153.16,572.53 153.66,573.13 154.16,573.75 154.66,574.39 155.16,575.05 155.67,575.72 156.17,576.40 156.67,577.11 157.17,577.84 157.67,578.60 158.17,579.39 158.67,580.22 159.17,581.08 159.67,581.98 160.18,582.91 160.68,583.88 161.18,584.88 161.68,585.93 162.18,587.01 162.68,588.14 163.18,589.31 163.68,590.53 164.18,591.85 164.69,593.30 165.19,594.84 165.69,596.47 166.19,598.17 166.69,599.92 167.19,601.72 167.69,603.54 168.19,605.37 168.69,607.19 169.20,609.04 169.70,610.99 170.20,613.00 170.70,615.07 171.20,617.15 171.70,619.21 172.20,621.25 172.70,623.22 173.20,625.10 173.71,626.87 174.21,628.56 174.71,630.19 175.21,631.77 175.71,633.34 176.21,634.91 176.71,636.50 177.21,638.13 177.71,639.83 178.22,641.62 178.72,643.51 179.22,645.57 179.72,647.77 180.22,650.10 180.72,652.50 181.22,654.94 181.72,657.39 182.22,659.80 182.73,662.14 183.23,664.36 183.73,666.50 184.23,668.62 184.73,670.70 185.23,672.75 185.73,674.77 186.23,676.77 186.73,678.75 187.24,680.71 187.74,682.64 188.24,684.58 188.74,686.57 189.24,688.62 189.74,690.69 190.24,692.73 190.74,694.73 191.24,696.64 191.75,698.44 192.25,700.08 192.75,701.54 193.25,702.78 193.75,703.85 194.25,704.85 194.75,705.78 195.25,706.67 195.76,707.49 196.26,708.27 196.76,709.01 197.26,709.70 197.76,710.36 198.26,710.98 198.76,711.58 199.26,712.16 199.76,712.72 200.27,713.29 200.77,713.87 201.27,714.43 201.77,714.96 202.27,715.43 202.77,715.84 203.27,716.15 203.77,716.35 204.27,716.45 204.78,716.53 205.28,716.61 205.78,716.68 206.28,716.74 206.78,716.80 207.28,716.86 207.78,716.90 208.28,716.95 208.78,716.99 209.29,717.02 209.79,717.05 210.29,717.07 210.79,717.08 211.29,717.09 211.79,717.10 212.29,717.10 212.79,717.10 213.29,717.10 213.80,717.10 214.30,717.10 214.80,717.10 215.30,717.10 215.80,717.10 216.30,717.10 216.80,717.10 217.30,717.10 217.80,717.10 218.31,717.10 218.81,717.10 219.31,717.10 219.81,717.10 220.31,717.10 220.81,717.10 221.31,717.10 221.81,717.10 222.31,717.10 222.82,717.10 223.32,717.10 223.82,717.10 224.32,717.10 224.82,717.10 225.32,717.10 225.82,717.10 226.32,717.10 226.82,717.10 227.33,717.10 227.83,717.10 228.33,717.10 228.83,717.10 229.33,717.10 229.83,717.10 230.33,717.10 230.83,717.10 231.33,717.10 231.84,717.10 232.34,717.10 232.84,717.10 233.34,717.10 233.84,717.10 234.34,717.10 234.84,717.10 235.34,717.10 235.84,717.10 236.35,717.10 236.85,717.10 237.35,717.10 237.85,717.10 238.35,717.10 238.85,717.10 239.35,717.10 239.85,717.10 240.35,717.10 240.86,717.10 241.36,717.10 241.86,717.10 242.36,717.10 242.86,717.10 243.36,717.10 243.86,717.10 244.36,717.10 244.86,717.10 245.37,717.10 245.87,717.10 246.37,717.10 246.87,717.10 247.37,717.10 247.87,717.10 248.37,717.10 248.87,717.10 249.37,717.10 249.88,717.10 250.38,717.10 250.88,717.10 251.38,717.10 251.88,717.10 252.38,717.10 252.88,717.10 253.38,717.10 253.88,717.10 254.39,717.10 254.89,717.10 255.39,717.10 255.89,717.10 256.39,717.10 256.89,717.10 257.39,717.10 257.89,717.10 258.39,717.10 258.90,717.10 259.40,717.10 259.90,717.10 260.40,717.10 260.90,717.10 261.40,717.10 261.90,717.10 262.40,717.10 262.90,717.10 263.41,717.10 263.91,717.10 264.41,717.10 264.91,717.10 265.41,717.10 265.91,717.10 266.41,717.10 266.91,717.10 267.41,717.10 267.92,717.10 268.42,717.10 268.92,717.10 269.42,717.10 269.92,717.10 270.42,717.10 270.92,717.10 271.42,717.10 271.92,717.10 272.43,717.10 272.93,717.10 273.43,717.10 273.93,717.10 274.43,717.10 274.93,717.10 275.43,717.10 275.93,717.10 276.43,717.10 276.94,717.10 277.44,717.10 277.94,717.10 278.44,717.10 278.94,717.10 279.44,717.10 279.94,717.10 280.44,717.10 280.94,717.10 281.45,717.10 281.95,717.10 282.45,717.10 282.95,717.10 283.45,717.10 283.95,717.10 284.45,717.10 284.95,717.10 285.45,717.10 285.96,717.10 286.46,717.10 286.96,717.10 287.46,717.10 287.96,717.10 288.46,717.10 288.96,717.10 289.46,717.10 289.96,717.10 290.47,717.10 290.97,717.10 291.47,717.10 291.97,717.10 292.47,717.10 292.97,717.10 293.47,717.10 293.97,717.10 294.47,717.10 294.98,717.10 295.48,717.10 295.98,717.10 296.48,717.10 296.98,717.10 297.48,717.10 297.98,717.10 298.48,717.10 298.98,717.10 299.49,717.10 299.99,717.10 300.49,717.10 300.99,717.10 301.49,717.10 301.99,717.10 302.49,717.10 302.99,717.10 303.49,717.10 304.00,717.10 304.50,717.10 305.00,717.10 305.50,717.10 306.00,717.10" fill="none" stroke="#000" stroke-width="1.45" stroke-linejoin="round"/>
<polyline points="81.00,549.52 81.50,549.53 82.00,549.55 82.50,549.56 83.00,549.58 83.51,549.59 84.01,549.60 84.51,549.62 85.01,549.63 85.51,549.65 86.01,549.66 86.51,549.68 87.01,549.70 87.51,549.71 88.02,549.73 88.52,549.74 89.02,549.76 89.52,549.78 90.02,549.79 90.52,549.81 91.02,549.83 91.52,549.84 92.02,549.86 92.53,549.88 93.03,549.90 93.53,549.91 94.03,549.93 94.53,549.95 95.03,549.97 95.53,549.99 96.03,550.00 96.53,550.02 97.04,550.04 97.54,550.06 98.04,550.08 98.54,550.10 99.04,550.12 99.54,550.14 100.04,550.16 100.54,550.17 101.04,550.19 101.55,550.21 102.05,550.23 102.55,550.25 103.05,550.27 103.55,550.29 104.05,550.31 104.55,550.33 105.05,550.35 105.55,550.37 106.06,550.39 106.56,550.42 107.06,550.44 107.56,550.46 108.06,550.48 108.56,550.50 109.06,550.52 109.56,550.54 110.06,550.56 110.57,550.58 111.07,550.60 111.57,550.62 112.07,550.64 112.57,550.66 113.07,550.67 113.57,550.69 114.07,550.71 114.57,550.73 115.08,550.74 115.58,550.76 116.08,550.78 116.58,550.79 117.08,550.81 117.58,550.83 118.08,550.85 118.58,550.87 119.08,550.89 119.59,550.91 120.09,550.93 120.59,550.95 121.09,550.98 121.59,551.00 122.09,551.03 122.59,551.06 123.09,551.09 123.59,551.12 124.10,551.15 124.60,551.18 125.10,551.22 125.60,551.26 126.10,551.30 126.60,551.34 127.10,551.39 127.60,551.44 128.10,551.50 128.61,551.59 129.11,551.70 129.61,551.83 130.11,551.98 130.61,552.15 131.11,552.34 131.61,552.54 132.11,552.75 132.61,552.98 133.12,553.22 133.62,553.46 134.12,553.72 134.62,553.98 135.12,554.25 135.62,554.52 136.12,554.79 136.62,555.08 137.12,555.38 137.63,555.72 138.13,556.09 138.63,556.47 139.13,556.88 139.63,557.32 140.13,557.77 140.63,558.24 141.13,558.72 141.63,559.22 142.14,559.73 142.64,560.25 143.14,560.78 143.64,561.33 144.14,561.92 144.64,562.54 145.14,563.20 145.64,563.88 146.14,564.59 146.65,565.31 147.15,566.05 147.65,566.79 148.15,567.54 148.65,568.29 149.15,569.02 149.65,569.75 150.15,570.49 150.65,571.24 151.16,572.01 151.66,572.80 152.16,573.64 152.66,574.52 153.16,575.45 153.66,576.44 154.16,577.50 154.66,578.63 155.16,579.82 155.67,581.10 156.17,582.46 156.67,583.91 157.17,585.46 157.67,587.10 158.17,588.86 158.67,590.75 159.17,593.07 159.67,595.75 160.18,598.64 160.68,601.59 161.18,604.43 161.68,607.01 162.18,609.27 162.68,611.36 163.18,613.35 163.68,615.25 164.18,617.13 164.69,619.00 165.19,620.92 165.69,622.91 166.19,625.03 166.69,627.25 167.19,629.53 167.69,631.86 168.19,634.26 168.69,636.72 169.20,639.25 169.70,641.84 170.20,644.53 170.70,647.42 171.20,650.48 171.70,653.62 172.20,656.76 172.70,659.80 173.20,662.67 173.71,665.30 174.21,667.80 174.71,670.22 175.21,672.57 175.71,674.84 176.21,677.04 176.71,679.19 177.21,681.28 177.71,683.31 178.22,685.33 178.72,687.36 179.22,689.39 179.72,691.40 180.22,693.36 180.72,695.26 181.22,697.06 181.72,698.76 182.22,700.32 182.73,701.72 183.23,702.95 183.73,704.08 184.23,705.17 184.73,706.21 185.23,707.21 185.73,708.14 186.23,709.02 186.73,709.83 187.24,710.57 187.74,711.23 188.24,711.80 188.74,712.29 189.24,712.69 189.74,713.08 190.24,713.45 190.74,713.80 191.24,714.14 191.75,714.45 192.25,714.75 192.75,715.03 193.25,715.29 193.75,715.52 194.25,715.73 194.75,715.92 195.25,716.08 195.76,716.22 196.26,716.33 196.76,716.42 197.26,716.49 197.76,716.55 198.26,716.62 198.76,716.68 199.26,716.74 199.76,716.80 200.27,716.85 200.77,716.90 201.27,716.94 201.77,716.98 202.27,717.01 202.77,717.04 203.27,717.06 203.77,717.08 204.27,717.09 204.78,717.10 205.28,717.10 205.78,717.10 206.28,717.10 206.78,717.10 207.28,717.10 207.78,717.10 208.28,717.10 208.78,717.10 209.29,717.10 209.79,717.10 210.29,717.10 210.79,717.10 211.29,717.10 211.79,717.10 212.29,717.10 212.79,717.10 213.29,717.10 213.80,717.10 214.30,717.10 214.80,717.10 215.30,717.10 215.80,717.10 216.30,717.10 216.80,717.10 217.30,717.10 217.80,717.10 218.31,717.10 218.81,717.10 219.31,717.10 219.81,717.10 220.31,717.10 220.81,717.10 221.31,717.10 221.81,717.10 222.31,717.10 222.82,717.10 223.32,717.10 223.82,717.10 224.32,717.10 224.82,717.10 225.32,717.10 225.82,717.10 226.32,717.10 226.82,717.10 227.33,717.10 227.83,717.10 228.33,717.10 228.83,717.10 229.33,717.10 229.83,717.10 230.33,717.10 230.83,717.10 231.33,717.10 231.84,717.10 232.34,717.10 232.84,717.10 233.34,717.10 233.84,717.10 234.34,717.10 234.84,717.10 235.34,717.10 235.84,717.10 236.35,717.10 236.85,717.10 237.35,717.10 237.85,717.10 238.35,717.10 238.85,717.10 239.35,717.10 239.85,717.10 240.35,717.10 240.86,717.10 241.36,717.10 241.86,717.10 242.36,717.10 242.86,717.10 243.36,717.10 243.86,717.10 244.36,717.10 244.86,717.10 245.37,717.10 245.87,717.10 246.37,717.10 246.87,717.10 247.37,717.10 247.87,717.10 248.37,717.10 248.87,717.10 249.37,717.10 249.88,717.10 250.38,717.10 250.88,717.10 251.38,717.10 251.88,717.10 252.38,717.10 252.88,717.10 253.38,717.10 253.88,717.10 254.39,717.10 254.89,717.10 255.39,717.10 255.89,717.10 256.39,717.10 256.89,717.10 257.39,717.10 257.89,717.10 258.39,717.10 258.90,717.10 259.40,717.10 259.90,717.10 260.40,717.10 260.90,717.10 261.40,717.10 261.90,717.10 262.40,717.10 262.90,717.10 263.41,717.10 263.91,717.10 264.41,717.10 264.91,717.10 265.41,717.10 265.91,717.10 266.41,717.10 266.91,717.10 267.41,717.10 267.92,717.10 268.42,717.10 268.92,717.10 269.42,717.10 269.92,717.10 270.42,717.10 270.92,717.10 271.42,717.10 271.92,717.10 272.43,717.10 272.93,717.10 273.43,717.10 273.93,717.10 274.43,717.10 274.93,717.10 275.43,717.10 275.93,717.10 276.43,717.10 276.94,717.10 277.44,717.10 277.94,717.10 278.44,717.10 278.94,717.10 279.44,717.10 279.94,717.10 280.44,717.10 280.94,717.10 281.45,717.10 281.95,717.10 282.45,717.10 282.95,717.10 283.45,717.10 283.95,717.10 284.45,717.10 284.95,717.10 285.45,717.10 285.96,717.10 286.46,717.10 286.96,717.10 287.46,717.10 287.96,717.10 288.46,717.10 288.96,717.10 289.46,717.10 289.96,717.10 290.47,717.10 290.97,717.10 291.47,717.10 291.97,717.10 292.47,717.10 292.97,717.10 293.47,717.10 293.97,717.10 294.47,717.10 294.98,717.10 295.48,717.10 295.98,717.10 296.48,717.10 296.98,717.10 297.48,717.10 297.98,717.10 298.48,717.10 298.98,717.10 299.49,717.10 299.99,717.10 300.49,717.10 300.99,717.10 301.49,717.10 301.99,717.10 302.49,717.10 302.99,717.10 303.49,717.10 304.00,717.10 304.50,717.10 305.00,717.10 305.50,717.10 306.00,717.10" fill="none" stroke="#000" stroke-width="1.45" stroke-linejoin="round"/>
<rect x="78.45" y="552.91" width="5.70" height="5.70" fill="#000" stroke="none"/>
<rect x="98.81" y="549.62" width="5.70" height="5.70" fill="#000" stroke="none"/>
<rect x="119.17" y="548.75" width="5.70" height="5.70" fill="#000" stroke="none"/>
<rect x="139.53" y="549.62" width="5.70" height="5.70" fill="#000" stroke="none"/>
<rect x="159.89" y="552.39" width="5.70" height="5.70" fill="#000" stroke="none"/>
<rect x="180.25" y="600.39" width="5.70" height="5.70" fill="#000" stroke="none"/>
<rect x="200.61" y="691.72" width="5.70" height="5.70" fill="#000" stroke="none"/>
<rect x="220.97" y="714.25" width="5.70" height="5.70" fill="#000" stroke="none"/>
<rect x="241.33" y="714.25" width="5.70" height="5.70" fill="#000" stroke="none"/>
<rect x="261.69" y="712.52" width="5.70" height="5.70" fill="#000" stroke="none"/>
<rect x="282.05" y="714.25" width="5.70" height="5.70" fill="#000" stroke="none"/>
<rect x="302.41" y="714.25" width="5.70" height="5.70" fill="#000" stroke="none"/>
<circle cx="81.30" cy="546.05" r="3.15" fill="#000" stroke="none"/>
<circle cx="101.66" cy="548.13" r="3.15" fill="#000" stroke="none"/>
<circle cx="122.02" cy="549.00" r="3.15" fill="#000" stroke="none"/>
<circle cx="142.38" cy="549.00" r="3.15" fill="#000" stroke="none"/>
<circle cx="162.74" cy="629.06" r="3.15" fill="#000" stroke="none"/>
<circle cx="183.10" cy="698.56" r="3.15" fill="#000" stroke="none"/>
<circle cx="203.46" cy="708.95" r="3.15" fill="#000" stroke="none"/>
<circle cx="223.82" cy="717.10" r="3.15" fill="#000" stroke="none"/>
<circle cx="244.18" cy="721.26" r="3.15" fill="#000" stroke="none"/>
<circle cx="264.54" cy="722.30" r="3.15" fill="#000" stroke="none"/>
<circle cx="284.90" cy="721.78" r="3.15" fill="#000" stroke="none"/>
<circle cx="305.26" cy="717.10" r="3.15" fill="#000" stroke="none"/>
<polygon points="81.30,545.91 85.15,552.51 77.45,552.51" fill="#000" stroke="none" stroke-linejoin="miter"/>
<polygon points="101.66,541.57 105.51,548.17 97.81,548.17" fill="#000" stroke="none" stroke-linejoin="miter"/>
<polygon points="122.02,544.17 125.87,550.77 118.17,550.77" fill="#000" stroke="none" stroke-linejoin="miter"/>
<polygon points="142.38,543.31 146.23,549.91 138.53,549.91" fill="#000" stroke="none" stroke-linejoin="miter"/>
<polygon points="162.74,607.08 166.59,613.68 158.89,613.68" fill="#000" stroke="none" stroke-linejoin="miter"/>
<polygon points="183.10,649.54 186.95,656.14 179.25,656.14" fill="#000" stroke="none" stroke-linejoin="miter"/>
<polygon points="203.46,713.14 207.31,719.74 199.61,719.74" fill="#000" stroke="none" stroke-linejoin="miter"/>
<polygon points="223.82,708.46 227.67,715.06 219.97,715.06" fill="#000" stroke="none" stroke-linejoin="miter"/>
<polygon points="244.18,710.71 248.03,717.31 240.33,717.31" fill="#000" stroke="none" stroke-linejoin="miter"/>
<polygon points="264.54,711.06 268.39,717.66 260.69,717.66" fill="#000" stroke="none" stroke-linejoin="miter"/>
<polygon points="284.90,711.06 288.75,717.66 281.05,717.66" fill="#000" stroke="none" stroke-linejoin="miter"/>
<polygon points="305.26,711.41 309.11,718.01 301.41,718.01" fill="#000" stroke="none" stroke-linejoin="miter"/>
<polygon points="81.30,549.49 85.15,542.89 77.45,542.89" fill="#000" stroke="none" stroke-linejoin="miter"/>
<polygon points="101.66,547.76 105.51,541.16 97.81,541.16" fill="#000" stroke="none" stroke-linejoin="miter"/>
<polygon points="122.02,550.36 125.87,543.76 118.17,543.76" fill="#000" stroke="none" stroke-linejoin="miter"/>
<polygon points="142.38,549.49 146.23,542.89 138.53,542.89" fill="#000" stroke="none" stroke-linejoin="miter"/>
<polygon points="162.74,566.13 166.59,559.53 158.89,559.53" fill="#000" stroke="none" stroke-linejoin="miter"/>
<polygon points="183.10,649.83 186.95,643.23 179.25,643.23" fill="#000" stroke="none" stroke-linejoin="miter"/>
<polygon points="203.46,721.75 207.31,715.15 199.61,715.15" fill="#000" stroke="none" stroke-linejoin="miter"/>
<polygon points="223.82,721.06 227.67,714.46 219.97,714.46" fill="#000" stroke="none" stroke-linejoin="miter"/>
<polygon points="244.18,718.98 248.03,712.38 240.33,712.38" fill="#000" stroke="none" stroke-linejoin="miter"/>
<polygon points="264.54,718.29 268.39,711.69 260.69,711.69" fill="#000" stroke="none" stroke-linejoin="miter"/>
<polygon points="284.90,719.33 288.75,712.73 281.05,712.73" fill="#000" stroke="none" stroke-linejoin="miter"/>
<polygon points="305.26,719.67 309.11,713.07 301.41,713.07" fill="#000" stroke="none" stroke-linejoin="miter"/>
<rect x="219.05" y="594.65" width="5.70" height="5.70" fill="#000" stroke="none"/>
<text transform="translate(238.30,601.50) scale(1,1.04)" font-size="14.7" text-anchor="start" >PLY</text>
<circle cx="221.90" cy="612.40" r="3.15" fill="#000" stroke="none"/>
<text transform="translate(238.30,616.40) scale(1,1.04)" font-size="14.7" text-anchor="start" >E434A</text>
<polygon points="221.90,622.04 225.75,628.64 218.05,628.64" fill="#000" stroke="none" stroke-linejoin="miter"/>
<path d="M 780 0 L 572 0 L 572 1140 Q 510 1080 406 1018 Q 302 958 215 925 L 215 1110 Q 366 1180 478 1280 Q 590 1380 636 1466 L 780 1466 Z" transform="translate(325.34,630.00) scale(0.00718,-0.00718)" fill="#000"/>
<text transform="translate(238.30,630.00) scale(1,1.04)" font-size="14.7" text-anchor="start" >E434A + Y46 A</text>
<polygon points="221.90,644.16 225.75,637.56 218.05,637.56" fill="#000" stroke="none" stroke-linejoin="miter"/>
<path d="M 780 0 L 572 0 L 572 1140 Q 510 1080 406 1018 Q 302 958 215 925 L 215 1110 Q 366 1180 478 1280 Q 590 1380 636 1466 L 780 1466 Z" transform="translate(248.92,644.20) scale(0.00718,-0.00718)" fill="#000"/>
<text transform="translate(238.30,644.20) scale(1,1.04)" font-size="14.7" text-anchor="start" >R 47A</text>
</svg>
</body></html>
